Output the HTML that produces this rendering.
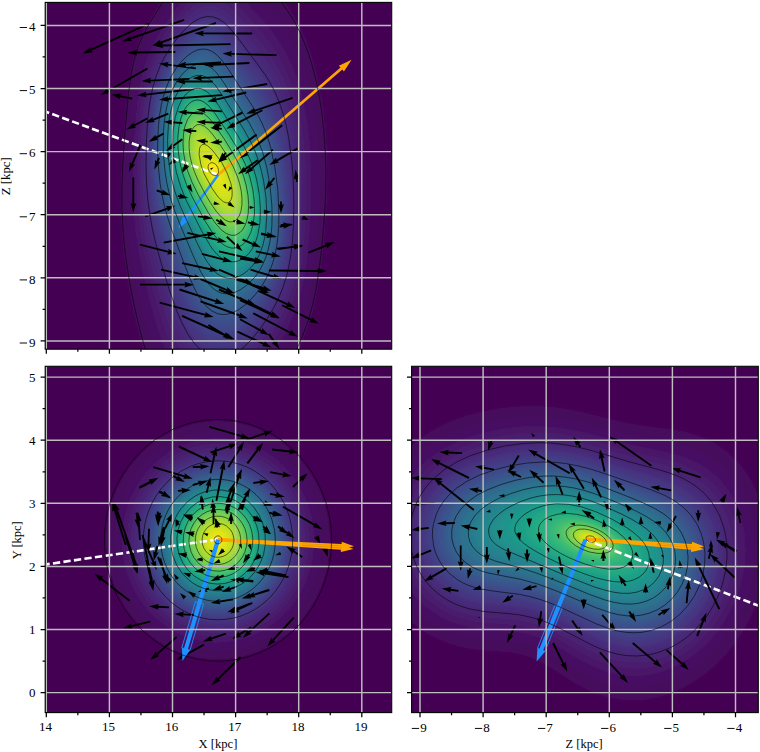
<!DOCTYPE html><html><head><meta charset="utf-8"><style>html,body{margin:0;padding:0;background:#fff;}svg{display:block}text{font-family:"Liberation Serif",serif;fill:#000}</style></head><body>
<svg width="760" height="752" viewBox="0 0 760 752">
<defs><filter id="bl" x="-5%" y="-5%" width="110%" height="110%"><feGaussianBlur stdDeviation="1.6"/></filter></defs>
<rect width="760" height="752" fill="#fff"/>
<clipPath id="clipA"><rect x="45.2" y="2.4" width="346.5" height="346.8"/></clipPath>
<g clip-path="url(#clipA)">
<rect x="45.2" y="2.4" width="346.5" height="346.8" fill="#440154"/>
<g filter="url(#bl)">
<path fill="#460a5d" d="M298.2 350.4 143.2 350.4 137.6 329.4 131.6 302.4 126.9 276.4 123.8 254.4 121.7 232.4 120.7 211.4 120.6 189.4 121.5 165.4 123.8 132.4 127.4 91.4 129.7 74.4 132.7 59.4 137.0 45.4 142.6 32.4 149.8 19.4 161.9 0.4 283.8 0.4 290.3 9.4 296.3 19.4 301.9 30.4 306.6 41.4 311.8 56.4 316.5 73.4 320.0 89.4 323.1 107.4 325.4 127.4 326.9 146.4 327.6 167.4 327.4 189.4 326.3 213.4 324.0 242.4 320.9 269.4 317.7 289.4 313.9 307.4 309.6 322.4 303.8 338.4 298.6 350.4 298.2 350.4Z"/>
<path fill="#471063" d="M285.2 350.4 156.4 350.4 153.7 342.4 146.7 318.4 139.9 290.4 134.9 265.4 131.5 243.4 129.2 221.4 128.2 198.4 128.2 175.4 129.4 149.4 131.6 118.4 133.9 95.4 136.7 77.4 140.6 61.4 145.6 47.4 151.9 34.4 161.6 18.4 173.8 0.4 259.9 0.4 275.2 17.5 280.5 24.4 285.8 32.4 290.4 40.4 294.8 49.4 299.0 59.4 302.8 70.4 306.9 84.4 310.7 101.4 313.7 119.4 315.8 137.4 317.1 156.4 317.7 176.4 317.4 196.4 316.3 219.4 314.7 241.4 312.4 262.4 309.7 280.4 306.6 295.4 302.7 309.4 298.5 321.4 292.6 335.4 285.2 350.4Z"/>
<path fill="#481668" d="M275.2 350.4 165.5 350.4 157.6 328.4 149.9 301.4 143.5 275.4 138.8 252.4 135.7 231.4 133.7 210.4 132.9 188.4 133.1 165.4 134.6 135.4 136.9 107.4 138.9 91.4 141.7 76.4 145.0 64.4 149.4 52.4 154.7 41.4 162.9 27.4 173.9 11.4 182.6 0.4 245.0 0.4 269.7 28.4 276.2 36.9 281.8 45.4 287.3 55.4 292.3 66.4 296.8 78.4 300.7 91.4 304.6 108.4 307.5 125.4 309.6 143.4 310.8 161.4 311.3 181.4 311.0 203.4 309.8 227.4 308.1 248.4 306.1 265.4 303.8 279.4 300.9 292.4 297.7 303.4 293.4 315.4 287.6 328.4 277.7 347.4 276.0 350.4 275.2 350.4Z"/>
<path fill="#481b6d" d="M268.2 350.4 173.0 350.4 166.6 335.4 159.9 315.4 151.9 287.4 145.5 261.4 141.8 242.4 139.0 223.4 137.3 205.4 136.4 185.4 136.6 161.4 137.8 134.4 139.8 110.4 142.5 90.4 145.0 78.4 148.4 66.4 152.5 55.4 157.4 45.4 165.1 32.4 174.8 18.4 183.2 8.1 190.9 0.4 233.5 0.4 237.2 3.9 245.9 13.4 266.2 37.5 273.2 46.8 279.2 56.0 285.2 67.4 290.7 80.4 295.0 93.4 298.8 108.4 301.7 123.4 304.0 139.4 305.6 157.4 306.4 175.4 306.5 195.4 305.9 217.4 304.6 238.4 302.7 257.4 300.8 270.4 298.4 282.4 295.6 293.4 291.6 305.4 287.0 316.4 281.7 327.4 274.5 340.4 268.2 350.4Z"/>
<path fill="#482071" d="M261.2 350.4 179.7 350.4 175.1 341.4 170.8 331.4 166.4 319.4 161.6 304.4 155.8 284.4 150.5 264.4 146.8 248.4 144.0 233.4 141.6 216.4 140.0 198.4 139.3 180.4 139.4 159.4 140.4 135.4 142.0 114.4 144.4 95.4 147.5 80.4 151.0 68.4 155.7 56.4 161.4 45.4 168.9 33.4 178.2 20.8 186.2 11.7 194.2 4.7 198.2 2.2 201.8 0.4 220.8 0.4 224.2 2.1 228.2 4.8 233.4 9.4 240.0 16.4 266.8 49.4 272.5 57.4 277.4 65.4 282.1 74.4 286.0 83.4 289.6 93.4 292.9 104.4 295.6 115.4 297.9 127.4 300.0 142.4 301.6 158.4 302.5 175.4 302.7 193.4 302.4 213.4 301.4 233.4 299.8 251.4 297.8 266.4 295.7 277.4 292.9 288.4 289.7 298.4 285.7 308.4 280.5 319.4 273.9 331.4 265.8 344.4 261.6 350.4 261.2 350.4Z"/>
<path fill="#482576" d="M254.2 350.4 186.2 350.4 180.8 341.4 175.5 330.4 170.4 317.4 164.7 300.4 157.6 276.4 151.5 253.4 147.6 235.4 144.8 218.4 143.0 201.4 141.9 183.4 141.7 163.4 142.3 142.4 143.6 121.4 145.4 104.4 147.7 90.4 150.9 77.4 155.0 65.4 160.4 53.4 167.5 41.4 176.2 29.1 184.2 19.6 192.2 12.2 196.2 9.4 200.2 7.2 204.2 5.7 207.2 5.0 213.2 5.0 218.2 6.2 224.2 9.3 230.2 14.1 235.2 19.3 241.2 26.4 262.5 53.4 270.4 64.4 275.2 72.2 279.4 80.4 283.3 89.4 286.6 98.4 291.9 117.4 294.1 128.4 296.0 140.4 297.8 155.4 298.9 171.4 299.5 189.4 299.4 207.4 298.9 225.4 297.7 242.4 296.0 257.4 293.9 270.4 291.3 281.4 288.3 291.4 284.6 301.4 280.0 311.4 273.5 323.4 266.1 335.4 257.2 347.8 255.1 350.4 254.2 350.4Z"/>
<path fill="#472a7a" d="M248.2 350.4 192.7 350.4 189.6 346.4 183.9 337.4 178.0 325.4 172.4 311.4 166.7 294.4 158.6 267.4 152.8 245.4 148.8 226.4 146.3 209.4 144.7 192.4 143.9 175.4 143.9 156.4 144.6 135.4 145.8 118.4 147.7 102.4 150.1 89.4 153.2 77.4 157.6 65.4 162.9 54.4 169.5 43.4 178.2 31.6 186.2 22.7 193.2 16.6 200.2 12.5 204.2 11.2 207.2 10.6 213.2 10.8 218.2 12.3 224.2 15.8 229.6 20.4 234.2 25.4 239.9 32.4 262.2 61.4 269.8 72.4 274.2 80.0 278.2 88.2 281.6 96.4 284.8 105.4 287.7 115.4 290.0 125.4 292.1 136.4 293.9 149.4 295.5 165.4 296.4 181.4 296.7 198.4 296.5 216.4 295.8 232.4 294.6 247.4 292.9 260.4 290.6 272.4 288.0 282.4 284.7 292.4 280.5 302.4 275.5 312.4 269.0 323.4 261.2 335.1 254.2 344.1 248.2 350.4Z"/>
<path fill="#472f7d" d="M240.2 350.4 200.0 350.4 193.3 343.4 187.8 335.4 181.8 324.4 175.9 310.4 169.6 292.4 161.9 267.4 156.5 248.4 152.4 231.4 149.5 215.4 147.5 199.4 146.2 183.4 145.7 166.4 145.9 147.4 146.7 129.4 148.0 114.4 149.9 100.4 152.3 88.4 155.4 77.4 159.5 66.4 165.0 55.4 171.9 44.4 179.2 34.9 187.2 26.3 194.2 20.6 201.2 17.0 207.2 15.6 213.2 16.0 218.2 17.8 223.2 20.9 229.2 26.3 236.9 35.4 259.4 65.4 265.1 73.4 269.6 80.4 273.9 88.4 277.6 96.4 281.0 105.4 284.2 115.4 286.7 125.4 289.0 136.4 292.3 160.4 293.5 176.4 294.1 192.4 294.2 210.4 293.7 227.4 292.8 241.4 291.3 254.4 289.3 266.4 286.7 277.4 283.5 287.4 279.2 298.0 274.2 307.9 268.0 318.4 260.2 329.9 252.6 339.4 244.2 347.9 241.2 350.4 240.2 350.4Z"/>
<path fill="#463480" d="M230.2 350.4 210.0 350.4 206.1 348.4 200.2 343.9 195.1 338.4 189.4 330.4 184.5 321.4 178.7 308.4 172.9 292.4 164.6 266.4 157.9 243.4 154.5 229.4 151.8 215.4 149.7 201.4 148.3 186.4 147.6 171.4 147.4 154.4 147.8 138.4 148.8 122.4 150.3 108.4 152.1 97.4 154.6 86.4 157.7 76.4 161.7 66.4 167.5 55.4 174.2 45.4 181.2 36.6 188.2 29.6 194.2 24.9 201.2 21.4 207.2 20.3 213.2 20.9 218.2 22.9 223.2 26.3 228.5 31.4 235.9 40.4 259.4 72.4 264.9 80.4 269.7 88.4 273.7 96.4 277.5 105.4 280.9 115.4 283.7 125.4 285.9 135.4 288.0 147.4 289.7 160.4 290.9 174.4 291.8 190.4 292.0 207.4 291.8 223.4 291.0 237.4 289.7 250.4 287.9 261.4 285.5 272.4 282.5 282.4 278.2 293.4 272.8 304.4 266.2 315.2 258.2 326.5 250.2 336.1 243.2 342.8 236.2 347.9 231.2 350.4 230.2 350.4Z"/>
<path fill="#443983" d="M226.2 346.5 220.2 347.1 214.2 346.2 208.2 343.7 203.2 340.2 198.2 335.4 193.2 329.1 188.5 321.4 184.2 312.9 179.0 300.4 173.7 285.4 164.7 257.4 158.6 236.4 155.3 222.4 152.7 208.4 150.8 194.4 149.7 180.4 149.0 165.4 149.0 150.4 149.5 134.4 150.5 120.4 151.9 108.4 153.7 97.4 156.1 87.4 159.2 77.4 163.4 67.4 168.2 58.3 174.2 49.2 181.2 40.4 188.2 33.4 194.2 28.9 200.2 25.9 206.2 24.6 212.2 25.2 217.2 27.2 222.2 30.6 228.1 36.4 234.5 44.4 259.0 78.4 264.3 86.4 268.9 94.4 272.8 102.4 276.4 111.4 279.7 121.4 282.3 131.4 284.6 142.4 286.5 154.4 289.1 180.4 289.8 196.4 290.0 212.4 289.6 227.4 288.8 240.4 287.4 252.4 285.4 263.4 283.0 273.4 279.7 283.4 275.2 293.9 269.5 304.4 262.2 315.6 254.2 326.1 247.2 333.7 240.2 339.7 233.2 344.0 226.2 346.5Z"/>
<path fill="#433e85" d="M225.2 341.5 219.2 341.7 214.2 340.8 208.2 338.1 203.2 334.4 198.2 329.3 193.8 323.4 189.6 316.4 185.2 307.6 179.8 294.4 173.8 277.4 164.8 249.4 159.6 231.4 156.5 218.4 154.0 204.4 152.3 191.4 151.1 177.4 150.5 163.4 150.4 148.4 150.9 134.4 151.9 120.4 153.4 107.4 155.2 97.4 157.7 87.4 160.6 78.4 164.4 69.4 169.2 60.4 175.2 51.4 181.2 44.0 187.2 37.9 193.2 33.2 199.2 30.1 205.2 28.7 211.2 29.1 216.2 31.1 221.2 34.5 226.3 39.4 232.7 47.4 257.5 82.4 262.8 90.4 267.4 98.4 271.2 106.4 274.8 115.4 277.8 124.4 280.7 135.4 282.9 146.4 284.8 158.4 287.3 184.4 288.0 199.4 288.2 214.4 287.8 228.4 286.8 241.4 285.4 252.4 283.4 263.4 280.8 273.4 277.7 282.4 273.2 292.4 267.2 303.1 260.2 313.4 252.2 323.3 245.2 330.5 238.2 336.0 231.2 339.8 225.2 341.5Z"/>
<path fill="#414287" d="M226.2 336.4 220.2 336.8 215.2 336.0 210.2 333.9 205.2 330.6 200.2 325.7 196.0 320.4 191.6 313.4 187.2 304.8 182.2 293.0 176.6 277.4 166.9 248.4 161.5 230.4 158.3 217.4 155.8 204.4 153.9 191.4 152.6 177.4 151.9 163.4 151.7 149.4 152.1 135.4 153.0 122.4 154.3 110.4 156.2 99.4 158.6 89.4 161.5 80.4 165.3 71.4 170.1 62.4 175.2 54.7 181.2 47.3 187.2 41.3 193.2 36.7 199.2 33.7 205.2 32.4 208.2 32.5 211.2 33.1 216.2 35.3 221.2 39.0 226.2 44.1 232.2 51.9 256.9 87.4 262.1 95.4 266.0 102.4 269.8 110.4 273.1 118.4 276.0 127.4 278.7 137.4 280.8 147.4 282.8 159.4 285.4 184.4 286.2 199.4 286.4 213.4 286.1 227.4 285.3 239.4 283.8 251.4 281.9 261.4 279.6 270.4 276.6 279.4 272.2 289.4 266.5 299.4 259.7 309.4 252.2 318.5 245.2 325.7 239.2 330.5 232.2 334.5 226.2 336.4Z"/>
<path fill="#3f4788" d="M227.2 331.6 221.2 332.1 216.2 331.4 211.2 329.4 206.2 326.1 201.3 321.4 197.2 316.3 192.9 309.4 188.8 301.4 184.0 290.4 178.5 275.4 168.0 244.4 162.8 227.4 159.5 214.4 157.1 202.4 155.3 190.4 153.9 176.4 153.2 163.4 153.0 149.4 153.3 135.4 154.1 123.4 155.5 111.4 157.1 101.4 159.5 91.4 162.3 82.4 166.1 73.4 170.3 65.4 175.2 57.8 181.2 50.4 187.2 44.4 193.2 39.9 199.2 37.0 204.2 36.0 209.2 36.3 214.2 38.1 219.2 41.5 224.2 46.4 230.5 54.4 255.2 90.4 263.8 104.4 267.8 112.4 271.1 120.4 274.1 129.4 276.7 138.4 280.8 159.4 283.7 184.4 284.5 199.4 284.8 213.4 284.5 226.4 283.7 238.4 282.4 249.4 280.6 259.4 278.3 268.4 275.2 277.4 271.2 286.5 266.2 295.4 260.2 304.3 253.2 313.0 246.2 320.2 239.2 326.0 233.2 329.5 227.2 331.6Z"/>
<path fill="#3e4c8a" d="M225.2 327.5 220.2 327.5 215.2 326.4 210.2 324.0 206.2 321.1 201.6 316.4 197.2 310.6 193.2 304.0 189.2 295.9 184.4 284.4 178.5 268.4 168.9 240.4 163.7 223.4 160.6 211.4 158.2 199.4 156.4 187.4 155.2 174.4 154.4 161.4 154.2 148.4 154.5 135.4 155.3 123.4 156.5 112.4 158.2 102.4 160.6 92.4 163.1 84.4 166.8 75.4 171.0 67.4 175.5 60.4 181.2 53.3 187.2 47.4 192.2 43.6 198.2 40.6 203.2 39.4 208.2 39.6 213.3 41.4 218.2 44.6 224.0 50.4 230.0 58.4 254.4 94.4 262.9 108.4 266.8 116.4 270.0 124.4 273.0 133.4 275.5 142.4 279.6 163.4 282.2 187.4 283.0 201.4 283.3 214.4 283.0 227.4 282.2 238.4 280.8 249.4 278.8 259.4 276.4 268.4 273.5 276.4 269.2 285.8 264.2 294.4 257.2 304.0 250.2 312.0 243.2 318.6 237.2 322.9 231.2 325.9 225.2 327.5Z"/>
<path fill="#3c508b" d="M228.2 322.6 223.2 323.3 218.2 322.8 213.2 321.0 208.9 318.4 204.2 314.2 200.2 309.5 196.2 303.4 191.9 295.4 187.2 284.9 182.1 271.4 170.7 239.4 165.6 223.4 162.3 211.4 159.8 199.4 157.9 187.4 156.5 175.4 155.7 163.4 155.4 150.4 155.5 137.4 156.2 125.4 157.4 114.4 159.0 104.4 161.1 95.4 163.8 86.4 167.2 77.9 171.2 70.1 176.2 62.4 181.2 56.2 186.2 51.1 192.2 46.6 198.2 43.6 203.2 42.6 208.2 43.0 213.2 44.9 218.2 48.4 223.2 53.6 229.2 61.6 253.8 98.4 261.0 110.4 265.0 118.4 268.2 126.0 271.1 134.4 273.7 143.4 277.8 163.4 280.5 185.4 281.4 198.4 281.8 211.4 281.7 223.4 281.0 235.4 279.9 245.4 278.1 255.4 275.8 264.4 273.2 272.4 269.2 281.4 264.8 289.4 259.2 297.5 253.2 304.8 246.2 311.9 240.2 316.8 234.2 320.4 228.2 322.6Z"/>
<path fill="#3a548c" d="M228.2 318.5 223.2 319.1 218.2 318.5 213.2 316.6 209.2 314.0 205.2 310.4 201.2 305.7 197.2 299.6 193.2 292.2 188.8 282.4 183.7 269.4 171.8 236.4 166.8 221.4 163.5 209.4 161.1 198.4 159.2 187.4 157.8 175.4 156.9 163.4 156.5 150.4 156.6 138.4 157.2 126.4 158.4 115.4 159.8 106.4 161.8 97.4 164.4 88.4 167.6 80.4 171.6 72.4 176.2 65.2 181.2 58.9 186.2 53.9 192.2 49.4 197.2 46.9 202.2 45.7 207.2 46.0 212.2 47.8 217.2 51.2 222.2 56.4 229.5 66.4 253.3 102.4 259.4 112.4 262.9 119.4 266.4 127.4 269.3 135.4 272.0 144.4 276.1 163.4 279.0 185.4 280.4 210.4 280.3 222.4 279.7 233.4 278.7 243.4 277.0 253.4 274.7 262.4 272.1 270.4 268.6 278.4 264.2 286.4 259.2 293.7 253.2 301.1 246.2 308.1 240.2 312.9 234.2 316.4 228.2 318.5Z"/>
<path fill="#38598c" d="M228.2 314.6 223.2 315.1 219.2 314.6 214.2 312.8 210.2 310.3 206.2 306.7 202.2 302.0 198.2 296.0 194.2 288.6 190.0 279.4 184.9 266.4 173.1 234.4 168.0 219.4 164.9 208.4 162.3 197.4 160.4 186.4 158.9 174.4 157.6 151.4 157.6 139.4 158.1 128.4 159.2 117.4 160.7 107.4 162.7 98.4 165.0 90.4 168.2 82.2 172.1 74.4 176.2 67.9 181.2 61.5 186.2 56.5 191.2 52.7 196.2 50.1 201.2 48.7 206.2 48.8 211.2 50.5 216.2 53.9 221.2 59.0 228.2 68.5 252.4 105.4 257.8 114.4 261.4 121.4 265.0 129.4 270.3 145.4 274.6 164.4 277.6 185.4 279.0 209.4 279.0 221.4 278.5 232.4 277.4 242.4 275.9 251.4 273.7 260.4 271.0 268.4 267.6 276.4 263.2 284.3 258.2 291.5 252.2 298.6 246.2 304.4 240.2 309.1 234.2 312.6 228.2 314.6Z"/>
<path fill="#365d8d" d="M229.2 310.5 224.2 311.1 220.2 310.8 215.2 309.1 211.2 306.6 207.2 303.2 203.2 298.5 199.2 292.5 195.8 286.4 191.6 277.4 186.8 265.4 174.3 232.4 169.2 217.7 165.9 206.4 163.5 196.4 161.5 185.4 160.1 174.4 158.6 151.4 158.6 139.4 159.1 128.4 160.1 118.4 161.6 108.4 163.6 99.4 165.9 91.4 169.0 83.4 172.5 76.4 176.3 70.4 181.2 64.0 186.2 59.0 191.2 55.2 196.2 52.7 201.2 51.5 206.2 51.8 211.2 53.7 215.2 56.4 220.2 61.4 227.5 71.4 256.4 116.4 263.2 130.4 268.8 146.4 273.1 164.4 276.2 185.4 277.2 197.4 277.8 209.4 277.8 220.4 277.2 231.4 276.2 241.4 274.7 250.4 272.7 258.4 270.1 266.4 266.6 274.4 262.7 281.4 258.2 288.0 252.2 295.1 246.2 300.9 240.2 305.5 234.2 308.8 229.2 310.5Z"/>
<path fill="#34618d" d="M230.2 306.6 225.2 307.3 221.2 307.1 216.2 305.5 212.2 303.1 208.2 299.7 204.2 295.1 200.9 290.4 197.2 283.8 193.2 275.4 188.6 264.4 175.4 230.4 170.5 216.4 167.4 206.4 164.9 196.4 162.9 186.4 161.3 175.4 159.7 153.4 159.9 131.4 160.7 121.4 162.1 111.4 163.9 102.4 166.1 94.4 169.1 86.4 172.2 79.8 176.2 73.0 180.4 67.4 185.2 62.3 190.2 58.4 195.2 55.7 200.2 54.3 205.2 54.4 210.2 56.2 214.9 59.4 219.2 63.7 226.4 73.4 255.1 118.4 262.0 132.4 267.3 147.4 271.7 165.4 274.7 184.4 276.5 207.4 276.6 218.4 276.1 229.4 275.3 238.4 273.9 247.4 272.0 255.4 269.5 263.4 266.2 271.4 262.4 278.4 258.2 284.7 253.2 290.7 247.2 296.7 241.2 301.4 235.2 304.8 230.2 306.6Z"/>
<path fill="#32658e" d="M228.2 303.5 223.2 303.6 219.2 302.7 215.2 301.0 211.4 298.4 208.2 295.4 204.2 290.5 200.8 285.4 197.2 278.7 188.4 258.4 175.8 226.4 170.8 212.4 167.8 202.4 165.3 192.4 163.5 182.4 162.0 171.4 160.5 150.4 161.0 129.4 161.9 119.4 163.3 110.4 165.0 102.4 167.3 94.4 169.9 87.4 173.2 80.6 177.2 74.1 181.2 68.9 186.2 63.8 191.2 60.1 196.2 57.8 200.2 56.9 205.2 57.2 210.2 59.1 214.8 62.4 219.2 67.0 226.0 76.4 254.5 121.4 261.3 135.4 266.6 150.4 270.9 168.4 273.8 187.4 275.3 209.4 275.3 220.4 274.8 230.4 273.9 239.4 272.3 248.4 270.3 256.4 267.5 264.4 264.2 271.7 260.2 278.5 255.2 285.3 250.2 290.7 245.2 295.1 239.2 299.3 233.2 302.2 228.2 303.5Z"/>
<path fill="#30698e" d="M231.2 299.4 226.2 300.1 222.2 299.8 218.2 298.6 214.2 296.4 210.2 293.2 206.7 289.4 203.2 284.5 199.6 278.4 195.6 270.4 191.2 260.2 177.6 226.4 172.7 213.4 167.1 194.4 165.0 184.4 163.4 174.4 161.6 153.4 161.7 132.4 162.5 122.4 163.7 113.4 165.3 105.4 167.5 97.4 170.2 89.8 173.2 83.3 177.2 76.5 181.2 71.2 185.2 67.0 190.2 63.1 195.2 60.5 199.2 59.5 204.2 59.6 209.2 61.4 213.6 64.4 218.2 69.0 225.0 78.4 251.7 120.4 258.9 134.4 264.3 148.4 268.9 165.4 272.0 183.4 274.0 205.4 274.0 225.4 273.2 234.4 272.0 243.4 270.3 251.4 267.8 259.4 265.0 266.4 261.4 273.4 257.4 279.4 253.2 284.5 248.2 289.5 242.2 294.2 236.2 297.6 231.2 299.4Z"/>
<path fill="#2e6d8e" d="M229.2 296.5 225.2 296.6 221.2 296.0 217.2 294.4 213.2 291.8 209.5 288.4 206.2 284.4 202.8 279.4 199.5 273.4 191.2 255.2 178.2 223.7 173.2 210.4 170.0 200.4 167.6 191.4 165.6 181.4 164.1 171.4 162.5 151.4 162.7 131.4 164.7 113.4 166.3 105.4 168.6 97.4 171.1 90.4 174.2 84.0 177.5 78.4 181.3 73.4 185.2 69.3 190.2 65.4 195.2 62.9 199.2 61.9 204.2 62.2 208.2 63.6 213.2 66.9 217.6 71.4 224.8 81.4 251.3 123.4 258.2 136.9 263.7 151.4 267.9 167.4 271.2 186.4 272.9 207.4 273.1 217.4 272.7 227.4 271.8 236.4 270.5 244.4 268.6 252.4 266.2 259.8 263.2 266.6 259.2 273.6 255.2 279.1 250.2 284.6 245.2 289.0 239.2 292.9 234.2 295.2 229.2 296.5Z"/>
<path fill="#2d718e" d="M232.2 292.7 228.2 293.3 224.2 293.1 220.2 292.1 216.2 290.1 212.6 287.4 209.2 284.0 205.2 278.7 201.9 273.4 193.7 256.4 175.1 211.4 169.4 193.4 167.3 184.4 165.5 174.4 163.5 154.4 163.4 134.4 165.1 116.4 166.6 108.4 168.7 100.4 171.2 93.2 174.2 86.5 177.2 81.3 181.2 75.7 185.2 71.5 189.2 68.2 194.2 65.5 198.2 64.4 203.2 64.4 207.2 65.7 212.2 68.9 216.7 73.4 224.0 83.4 248.7 122.4 256.2 136.4 261.8 150.4 266.4 166.4 269.6 183.4 271.6 203.4 272.0 213.4 271.8 223.4 271.1 232.4 270.0 240.4 268.3 248.4 266.3 255.4 263.5 262.4 260.2 268.9 256.2 274.9 252.2 279.7 247.2 284.4 242.2 288.2 237.2 290.9 232.2 292.7Z"/>
<path fill="#2b748e" d="M232.2 289.6 228.2 290.1 224.2 289.8 220.2 288.7 216.2 286.5 212.4 283.4 209.2 280.0 206.2 276.0 202.7 270.4 194.4 253.4 175.8 209.4 170.1 191.4 166.4 173.4 164.4 154.4 164.3 134.4 164.9 125.4 166.0 116.4 167.6 108.4 169.4 101.4 171.9 94.4 174.6 88.4 178.0 82.4 181.2 78.0 185.2 73.6 189.2 70.4 194.2 67.7 198.2 66.7 203.2 66.8 207.2 68.2 211.9 71.4 216.2 75.7 223.2 85.2 247.9 124.4 254.9 137.4 260.7 151.4 265.1 166.4 268.4 183.4 270.6 203.4 270.7 222.4 270.1 231.4 269.0 239.4 267.3 247.4 265.2 254.4 262.8 260.4 259.8 266.4 256.2 271.9 252.2 276.8 247.2 281.6 242.2 285.3 237.2 287.9 232.2 289.6Z"/>
<path fill="#2a788e" d="M232.2 286.6 228.2 287.0 224.2 286.6 220.2 285.3 217.2 283.6 213.2 280.5 210.2 277.3 206.5 272.4 203.2 267.0 195.2 250.7 176.9 208.4 171.2 191.1 167.4 173.4 165.4 155.4 165.1 136.4 165.6 127.4 166.6 118.4 168.1 110.4 169.9 103.4 172.2 96.4 174.8 90.4 178.2 84.4 181.2 80.2 185.2 75.8 189.2 72.5 193.2 70.3 197.2 69.1 202.2 69.0 206.2 70.2 210.2 72.6 215.2 77.3 222.7 87.4 246.0 124.4 253.7 138.4 259.2 151.4 263.8 166.4 267.3 183.4 269.4 202.4 269.7 221.4 269.1 230.4 268.0 238.4 266.5 245.4 264.5 252.4 262.2 258.4 259.2 264.4 255.2 270.4 251.2 275.1 247.2 278.9 242.2 282.5 237.2 285.1 232.2 286.6Z"/>
<path fill="#287c8e" d="M233.2 283.5 229.2 284.0 225.2 283.6 221.2 282.4 218.2 280.9 214.2 277.8 211.2 274.7 207.8 270.4 204.2 264.7 196.2 248.8 178.0 207.4 172.2 190.4 168.4 173.4 166.3 155.4 165.9 137.4 167.2 120.4 168.6 112.4 170.3 105.4 172.5 98.4 175.1 92.4 178.2 86.7 181.2 82.3 185.2 77.9 189.2 74.6 193.2 72.4 197.2 71.2 202.2 71.3 206.2 72.6 210.5 75.4 215.2 80.0 222.2 89.6 244.8 125.4 252.1 138.4 257.8 151.4 262.6 166.4 266.0 182.4 268.3 201.4 268.7 219.4 268.2 228.4 267.2 236.4 265.8 243.4 263.8 250.4 261.5 256.4 258.5 262.4 255.2 267.6 251.2 272.4 247.2 276.2 242.2 279.8 237.2 282.3 233.2 283.5Z"/>
<path fill="#27808e" d="M234.2 280.5 230.2 281.0 226.2 280.8 222.2 279.7 219.2 278.2 215.4 275.4 212.2 272.2 205.8 263.4 197.2 246.9 179.4 207.4 173.7 191.4 169.6 174.4 167.3 157.4 166.7 139.4 167.8 122.4 169.1 114.4 170.7 107.4 172.9 100.4 175.2 94.7 178.2 89.0 181.2 84.5 184.2 80.9 188.2 77.3 192.2 74.9 196.2 73.5 200.2 73.2 203.2 73.8 206.2 74.9 209.2 76.8 212.2 79.4 215.8 83.4 223.2 93.9 244.8 128.4 252.5 142.4 256.4 151.4 259.6 160.4 262.4 170.4 264.7 181.4 267.1 199.4 267.7 217.4 266.5 233.4 265.2 240.4 263.4 247.4 261.2 253.7 258.5 259.4 255.5 264.4 252.2 268.7 248.2 272.7 243.2 276.6 239.2 278.7 234.2 280.5Z"/>
<path fill="#25838e" d="M235.2 277.5 231.2 278.2 227.2 278.0 223.2 277.0 220.2 275.6 216.2 272.8 213.2 269.9 206.9 261.4 202.8 254.4 198.2 245.2 180.4 206.4 174.5 190.4 170.6 174.4 168.2 157.4 167.5 140.4 168.6 123.4 171.2 109.2 173.2 102.5 175.6 96.4 178.2 91.3 181.2 86.6 184.2 83.0 188.2 79.4 192.2 76.9 196.2 75.6 200.2 75.4 203.2 76.0 206.2 77.2 209.2 79.2 215.2 85.2 222.2 95.1 243.8 129.4 251.5 143.4 255.4 152.4 258.6 161.4 261.2 170.4 263.5 180.4 266.0 198.4 266.8 215.4 265.7 231.4 264.5 238.4 262.8 245.4 260.7 251.4 258.2 256.9 255.2 262.0 252.2 266.0 248.2 270.2 244.2 273.3 240.2 275.7 235.2 277.5Z"/>
<path fill="#24878e" d="M232.2 275.4 228.2 275.4 225.2 274.8 221.2 273.1 218.2 271.2 212.2 265.4 206.0 256.4 197.2 239.5 180.5 203.4 174.8 187.4 171.0 171.4 168.9 155.4 168.3 138.4 169.4 123.4 172.1 109.4 173.9 103.4 176.3 97.4 179.2 91.9 182.2 87.4 185.2 84.0 189.2 80.6 192.2 78.9 196.2 77.6 200.2 77.5 203.2 78.1 206.2 79.5 209.2 81.6 212.2 84.3 215.7 88.4 223.2 99.3 243.3 131.4 251.2 145.9 254.9 154.4 258.1 163.4 260.9 173.4 263.0 183.4 265.2 200.4 265.7 217.4 265.3 225.4 264.3 233.4 262.9 240.4 261.1 246.4 258.8 252.4 256.2 257.5 253.2 262.1 249.2 266.7 245.2 270.1 241.2 272.6 236.2 274.7 232.2 275.4Z"/>
<path fill="#228b8d" d="M234.2 272.6 230.2 272.8 227.2 272.5 223.2 271.2 220.2 269.6 217.2 267.3 213.3 263.4 207.2 254.9 198.2 238.1 181.8 203.4 175.9 187.4 172.1 172.4 169.8 156.4 169.1 139.4 170.1 124.4 172.8 110.4 174.6 104.4 177.0 98.4 179.2 94.2 182.2 89.6 185.2 86.0 189.2 82.6 192.2 80.9 196.2 79.6 199.2 79.5 202.2 80.0 205.2 81.2 208.2 83.1 214.2 89.0 221.6 99.4 242.4 132.4 249.6 145.4 253.2 153.4 256.5 162.4 259.2 171.4 261.5 181.4 264.0 198.4 264.8 215.4 263.7 230.4 262.4 237.4 260.8 243.4 258.7 249.4 256.2 254.6 253.2 259.4 250.2 263.1 246.2 266.9 242.2 269.6 238.2 271.5 234.2 272.6Z"/>
<path fill="#218f8d" d="M237.2 269.4 233.2 270.2 229.2 270.2 225.2 269.2 222.2 267.9 218.5 265.4 215.3 262.4 209.2 254.7 205.2 248.2 200.5 239.4 184.0 205.4 178.0 190.4 173.7 175.4 171.0 159.4 170.0 143.4 170.5 128.4 172.7 114.4 174.3 108.4 176.4 102.4 179.2 96.5 181.7 92.4 185.2 88.0 188.2 85.3 191.2 83.3 195.2 81.8 198.2 81.5 201.2 81.8 204.2 82.8 207.2 84.6 210.2 87.0 213.2 90.2 219.4 98.4 240.9 132.4 248.2 145.4 251.9 153.4 255.0 161.4 257.6 169.4 259.9 178.4 262.6 194.4 263.8 210.4 263.2 225.4 261.0 238.4 259.2 244.4 257.2 249.5 254.6 254.4 252.0 258.4 248.5 262.4 245.2 265.2 241.2 267.8 237.2 269.4Z"/>
<path fill="#20928c" d="M235.2 267.5 231.2 267.8 228.2 267.4 224.2 266.1 221.2 264.5 215.2 259.3 208.5 250.4 199.6 234.4 184.0 202.4 178.1 187.4 174.0 172.4 171.6 157.4 170.7 142.4 171.4 127.4 173.6 114.4 177.2 103.1 179.4 98.4 182.2 93.8 185.2 90.1 188.2 87.3 191.2 85.3 195.2 83.8 198.2 83.4 201.2 83.8 204.2 84.9 207.2 86.7 213.2 92.5 219.8 101.4 240.0 133.4 247.8 147.4 251.5 155.4 254.5 163.4 257.0 171.4 259.3 180.4 261.9 196.4 262.8 212.4 262.1 226.4 261.0 233.4 259.5 239.4 255.7 249.4 253.2 253.9 250.2 258.0 247.2 261.2 243.2 264.2 239.2 266.3 235.2 267.5Z"/>
<path fill="#1f968b" d="M237.2 264.6 233.2 265.3 230.2 265.2 226.2 264.3 223.2 263.0 219.4 260.4 216.2 257.5 210.2 249.9 206.2 243.5 201.2 234.4 185.3 202.4 179.2 187.4 175.2 173.4 172.6 158.4 171.6 143.4 172.1 129.4 174.2 115.8 177.8 104.4 180.1 99.4 182.6 95.4 185.2 92.1 188.2 89.2 191.2 87.2 195.2 85.7 198.2 85.4 201.2 85.8 204.2 87.0 206.5 88.4 212.2 93.6 218.8 102.4 238.5 133.4 246.5 147.4 253.0 162.4 257.8 178.4 260.6 193.4 261.8 208.4 261.4 222.4 259.4 235.4 256.1 245.4 253.6 250.4 251.0 254.4 248.2 257.7 244.2 261.2 241.2 263.0 237.2 264.6Z"/>
<path fill="#1f9a8a" d="M236.2 262.6 232.2 263.0 229.2 262.7 226.2 261.8 223.2 260.4 220.2 258.4 216.9 255.4 210.2 247.0 201.2 231.4 186.1 201.4 180.0 186.4 175.9 172.4 173.4 158.4 172.4 143.4 172.9 129.4 175.0 116.4 178.5 105.4 180.9 100.4 183.2 96.7 186.2 93.0 189.2 90.4 192.2 88.6 195.2 87.6 198.2 87.4 201.2 87.8 206.2 90.3 209.2 92.7 212.2 95.8 218.6 104.4 237.7 134.4 245.7 148.4 249.2 155.8 252.3 163.4 254.9 171.4 257.0 179.4 259.7 194.4 260.9 209.4 260.3 223.4 258.2 235.4 256.4 241.4 254.2 246.4 251.9 250.4 249.2 254.1 246.2 257.2 243.2 259.6 240.2 261.2 236.2 262.6Z"/>
<path fill="#1f9e89" d="M235.2 260.4 231.2 260.6 228.2 260.0 225.2 258.9 222.2 257.2 216.2 252.0 210.2 244.1 201.2 228.6 186.5 199.4 180.7 185.4 176.6 171.4 174.2 157.4 173.2 143.4 173.7 129.4 175.7 117.4 179.2 106.4 183.5 98.4 186.2 95.0 189.2 92.3 192.2 90.5 195.2 89.5 197.2 89.3 200.2 89.6 203.2 90.6 206.2 92.3 212.2 98.0 218.5 106.4 236.9 135.4 244.9 149.4 248.7 157.4 251.5 164.4 254.2 172.4 256.3 180.4 258.9 195.4 259.9 209.4 259.4 222.4 257.3 234.4 255.8 239.4 253.7 244.4 251.2 248.8 248.5 252.4 245.2 255.7 242.2 257.9 239.2 259.4 235.2 260.4Z"/>
<path fill="#1fa187" d="M238.2 257.5 235.2 258.2 231.2 258.3 228.2 257.7 225.2 256.5 221.8 254.4 218.2 251.4 212.2 244.3 203.7 230.4 189.1 202.4 182.5 187.4 178.3 174.4 175.6 161.4 174.1 147.4 174.2 133.7 175.7 121.4 178.7 110.4 180.8 105.4 183.0 101.4 185.2 98.3 188.2 95.1 191.2 93.0 194.2 91.7 196.2 91.3 199.2 91.3 202.2 92.1 205.2 93.7 208.2 96.0 211.2 99.0 217.0 106.4 235.0 134.4 243.2 148.5 249.6 162.4 254.5 177.4 257.3 190.4 258.8 204.4 258.8 217.4 257.3 229.4 254.4 239.4 252.2 244.3 250.2 247.7 247.2 251.4 244.2 254.2 241.2 256.2 238.2 257.5Z"/>
<path fill="#21a585" d="M237.2 255.5 234.2 256.0 230.2 255.8 227.2 255.0 224.2 253.6 218.2 248.8 212.2 241.6 203.2 226.8 189.4 200.4 183.3 186.4 179.0 173.4 176.3 160.4 174.9 147.4 175.0 134.4 176.4 122.4 179.2 111.9 183.2 103.3 185.2 100.4 188.2 97.1 191.2 94.9 194.2 93.6 196.2 93.2 199.2 93.2 202.2 94.1 205.2 95.7 210.2 100.0 216.2 107.5 233.6 134.4 242.4 149.4 248.9 163.4 253.5 177.4 256.3 190.4 257.9 204.4 257.8 217.4 256.2 229.4 253.2 239.1 249.2 246.4 246.2 250.1 243.5 252.4 240.2 254.4 237.2 255.5Z"/>
<path fill="#23a983" d="M236.2 253.6 233.2 253.9 230.2 253.6 227.2 252.7 224.2 251.2 218.2 246.3 212.2 239.0 203.2 224.2 190.2 199.4 184.0 185.4 179.7 172.4 177.2 160.4 175.8 147.4 175.8 134.4 177.2 123.0 180.1 112.4 183.9 104.4 186.2 101.2 189.0 98.4 191.2 96.8 194.2 95.5 196.2 95.1 199.2 95.2 202.2 96.0 205.2 97.7 210.2 102.1 216.2 109.6 233.5 136.4 241.7 150.4 248.2 164.4 252.8 178.4 255.5 191.4 256.9 204.4 256.8 217.4 255.3 228.4 252.2 238.1 248.2 245.2 245.2 248.6 242.2 251.0 239.2 252.6 236.2 253.6Z"/>
<path fill="#26ad81" d="M235.2 251.5 232.2 251.6 229.2 251.1 226.2 250.0 223.2 248.2 217.2 242.8 211.5 235.4 202.5 220.4 190.2 196.9 184.3 183.4 180.4 171.4 177.9 159.4 176.6 147.4 176.6 135.4 177.8 124.4 180.4 114.4 184.2 106.2 186.2 103.4 189.2 100.2 191.2 98.8 194.2 97.4 196.2 97.0 199.2 97.1 202.2 98.0 204.8 99.4 210.2 104.2 216.2 111.7 232.9 137.4 241.1 151.4 247.2 164.6 251.8 178.4 254.6 191.4 256.0 204.4 255.9 216.4 254.3 227.4 251.5 236.4 249.5 240.4 247.2 243.9 244.2 247.2 241.2 249.4 238.2 250.8 235.2 251.5Z"/>
<path fill="#2ab07f" d="M234.2 249.4 229.2 248.9 226.2 247.7 223.2 245.9 217.2 240.4 211.2 232.5 202.2 217.4 190.7 195.4 185.0 182.4 181.1 170.4 178.7 159.4 177.4 147.4 177.4 136.4 178.6 125.4 180.8 116.4 184.3 108.4 186.3 105.4 189.2 102.2 191.2 100.7 194.2 99.3 196.2 98.9 199.2 99.0 201.2 99.5 204.2 101.0 207.2 103.2 210.2 106.2 216.2 113.8 231.6 137.4 240.4 152.4 246.5 165.4 251.1 179.4 253.8 192.4 255.0 204.4 254.9 216.4 253.2 227.4 250.1 236.4 248.2 239.8 245.5 243.4 243.2 245.7 240.2 247.7 237.2 248.9 234.2 249.4Z"/>
<path fill="#2fb47c" d="M237.2 246.7 232.2 247.2 229.2 246.7 226.2 245.5 223.2 243.6 220.2 241.2 214.2 234.3 205.9 221.4 193.4 198.4 186.9 184.4 182.6 172.4 180.0 161.4 178.4 149.4 178.1 138.4 179.2 127.4 181.6 117.4 185.2 109.4 189.2 104.3 191.2 102.7 194.2 101.2 196.2 100.8 199.2 100.9 201.2 101.4 204.2 102.9 209.2 107.2 215.2 114.5 229.2 135.7 238.6 151.4 244.5 163.4 249.3 176.4 252.2 188.4 253.8 200.4 254.2 211.4 253.1 222.4 250.7 231.4 247.2 238.6 245.1 241.4 242.2 244.1 240.2 245.4 237.2 246.7Z"/>
<path fill="#35b779" d="M237.2 244.5 232.2 245.1 229.2 244.5 226.2 243.3 223.2 241.4 220.2 238.9 214.2 231.9 206.2 219.6 194.2 197.6 188.0 184.4 183.6 172.4 180.9 161.4 179.3 150.4 179.0 139.4 179.9 128.4 182.0 119.4 185.2 111.8 189.2 106.4 191.2 104.7 194.2 103.2 196.2 102.7 199.2 102.8 203.3 104.4 208.2 108.2 214.2 115.2 226.4 133.4 237.4 151.4 243.9 164.4 248.3 176.4 251.2 188.2 252.8 199.4 253.2 210.4 252.3 220.4 250.2 229.1 246.8 236.4 244.6 239.4 242.2 241.8 240.2 243.2 237.2 244.5Z"/>
<path fill="#3bbb75" d="M236.2 242.6 231.2 242.8 228.2 242.0 225.2 240.5 220.2 236.6 214.2 229.6 206.2 217.2 194.8 196.4 188.6 183.4 184.3 171.4 181.8 161.4 180.2 150.4 179.8 139.4 180.7 129.4 182.8 120.4 185.7 113.4 189.4 108.4 191.8 106.4 194.2 105.2 198.2 104.6 200.2 105.0 203.2 106.3 208.2 110.2 214.2 117.2 226.2 135.0 236.8 152.4 242.8 164.4 247.3 176.4 250.2 188.0 251.8 199.4 252.2 210.4 251.2 220.2 249.1 228.4 245.6 235.4 243.2 238.4 241.2 240.2 239.2 241.4 236.2 242.6Z"/>
<path fill="#42be71" d="M235.2 240.6 230.2 240.4 227.2 239.4 224.2 237.7 219.2 233.3 213.2 225.9 205.2 213.1 195.0 194.4 189.2 182.1 185.0 170.4 182.3 159.4 181.0 149.4 180.7 139.4 181.7 129.4 183.6 121.4 186.6 114.4 190.2 109.8 192.2 108.2 195.2 106.9 199.2 106.7 201.2 107.3 204.2 108.8 209.2 113.2 215.2 120.6 227.7 139.4 236.7 154.4 242.5 166.4 246.9 178.4 249.3 188.4 250.9 199.4 251.2 209.4 250.2 219.4 248.0 227.4 246.2 231.4 244.3 234.4 240.2 238.5 238.2 239.7 235.2 240.6Z"/>
<path fill="#4ac16d" d="M234.2 238.5 229.2 238.0 224.2 235.5 219.2 231.1 213.2 223.6 205.2 210.8 195.2 192.5 189.6 180.4 185.7 169.4 183.2 159.4 181.9 149.4 181.6 139.4 182.5 130.4 184.4 122.4 187.2 116.0 189.2 113.1 191.2 111.1 195.2 108.9 199.2 108.7 201.2 109.3 204.2 110.8 209.2 115.2 215.2 122.6 227.2 140.6 236.1 155.4 241.9 167.4 245.8 178.4 248.3 188.4 249.9 199.4 250.1 209.4 249.2 218.4 247.0 226.4 243.8 232.4 241.2 235.3 239.2 236.8 237.2 237.8 234.2 238.5Z"/>
<path fill="#52c569" d="M233.2 236.4 231.2 236.3 228.2 235.5 223.2 232.6 218.2 227.8 213.2 221.3 205.2 208.5 196.2 192.0 190.7 180.4 186.7 169.4 184.2 159.5 182.9 150.4 182.5 141.4 183.2 132.4 185.0 124.4 187.4 118.4 189.2 115.6 191.2 113.3 193.2 111.9 195.2 111.0 199.2 110.7 201.2 111.3 204.2 112.8 209.2 117.2 214.2 123.3 225.2 139.5 234.9 155.4 240.8 167.4 244.8 178.4 247.3 188.4 248.9 199.4 249.1 209.4 248.0 218.4 245.4 226.4 242.2 231.6 238.2 235.0 236.2 235.9 233.2 236.4Z"/>
<path fill="#5ac864" d="M236.2 233.6 234.2 234.1 231.2 234.1 226.2 232.4 221.2 228.7 215.6 222.4 208.2 211.3 199.2 195.4 192.7 182.4 188.4 171.4 185.6 161.4 184.0 152.4 183.5 143.4 184.0 134.4 185.6 126.4 188.2 119.8 191.2 115.7 193.2 114.1 195.2 113.1 199.2 112.8 201.2 113.3 204.2 114.9 209.2 119.3 214.2 125.3 224.2 140.0 233.2 154.6 238.8 165.4 243.1 176.4 245.9 186.4 247.5 195.4 248.1 204.4 247.6 213.4 246.2 220.4 243.7 226.4 240.2 231.0 236.2 233.6Z"/>
<path fill="#63cb5f" d="M235.2 231.5 233.2 231.9 230.2 231.7 225.2 229.6 220.2 225.5 215.2 219.6 208.2 209.0 199.9 194.4 193.9 182.4 189.5 171.4 186.8 162.4 185.1 153.4 184.5 144.4 184.8 136.4 186.2 128.4 188.2 122.9 191.2 118.2 193.2 116.4 195.2 115.3 197.2 114.8 199.2 114.9 203.2 116.3 208.2 120.3 213.2 126.1 223.2 140.5 232.2 155.0 238.1 166.4 242.1 176.4 244.9 186.4 246.4 195.4 247.0 204.4 246.5 212.4 245.0 219.4 242.4 225.4 239.2 229.3 235.2 231.5Z"/>
<path fill="#6ccd5a" d="M234.2 229.4 230.2 229.5 225.2 227.4 220.2 223.2 215.2 217.3 208.2 206.7 200.2 192.6 194.2 180.4 190.2 170.4 187.6 161.4 186.1 153.4 185.5 144.4 185.9 136.4 187.2 129.4 189.6 123.4 192.6 119.4 194.2 118.1 196.2 117.2 198.2 117.0 200.2 117.2 204.2 119.0 209.2 123.4 214.2 129.5 223.2 142.5 231.8 156.4 237.2 167.0 241.2 177.0 243.6 185.4 245.3 194.4 245.9 203.4 245.4 211.4 243.8 218.4 241.2 224.1 238.2 227.4 236.2 228.7 234.2 229.4Z"/>
<path fill="#75d054" d="M235.2 226.6 231.2 227.3 229.2 226.9 226.2 225.7 221.2 222.0 216.2 216.3 210.2 207.6 202.2 193.9 196.2 182.2 191.7 171.4 189.2 163.4 187.3 154.4 186.6 146.4 186.8 138.4 188.0 131.4 190.2 125.5 193.2 121.4 196.2 119.6 198.2 119.2 200.2 119.4 204.2 121.2 208.2 124.5 213.2 130.3 221.2 141.6 230.2 155.9 235.3 165.4 239.5 175.4 242.2 184.0 243.9 192.4 244.7 200.4 244.6 207.4 243.5 214.4 241.3 220.4 238.4 224.4 235.2 226.6Z"/>
<path fill="#7fd34e" d="M234.2 224.4 230.2 224.8 226.2 223.4 221.2 219.7 216.2 214.0 210.2 205.3 203.2 193.3 197.2 181.6 192.9 171.4 190.3 163.4 188.6 155.4 187.7 147.4 187.8 140.4 188.8 133.4 190.5 128.4 193.2 124.2 196.2 122.1 198.2 121.6 200.2 121.7 204.2 123.4 208.2 126.7 213.2 132.5 221.2 143.7 229.2 156.4 234.2 165.7 238.4 175.4 240.9 183.4 242.6 191.4 243.5 199.4 243.4 206.4 242.2 213.4 240.4 218.4 237.4 222.4 234.2 224.4Z"/>
<path fill="#89d548" d="M234.2 221.7 232.2 222.3 230.2 222.3 226.2 221.1 222.2 218.3 217.2 212.9 211.2 204.5 205.2 194.4 198.9 182.4 194.2 171.7 191.4 163.4 189.9 156.4 188.9 148.4 188.9 141.4 189.8 135.4 191.4 130.4 194.2 126.2 197.2 124.3 200.2 124.1 204.2 125.7 208.2 129.0 213.2 134.7 220.2 144.4 228.2 157.0 233.3 166.4 237.2 175.4 239.5 182.4 241.3 190.4 242.2 197.4 242.2 204.4 241.4 210.4 239.8 215.4 237.2 219.5 234.2 221.7Z"/>
<path fill="#93d741" d="M232.2 219.6 230.2 219.8 228.2 219.4 224.2 217.4 220.2 214.0 216.2 209.3 210.2 200.4 204.2 190.1 199.2 180.3 195.2 171.1 192.9 164.4 191.2 157.2 190.2 150.4 190.1 143.4 190.9 137.4 192.2 132.9 194.2 129.4 197.2 127.0 200.2 126.6 204.2 128.1 208.2 131.3 213.2 137.0 220.2 146.7 227.2 157.7 232.2 166.8 236.2 176.0 238.6 183.4 240.2 190.9 241.0 198.4 240.8 204.4 240.0 209.4 238.2 214.4 235.2 218.2 232.2 219.6Z"/>
<path fill="#9dd93b" d="M232.2 216.7 229.2 217.0 225.2 215.5 221.2 212.5 217.2 208.1 212.2 201.1 206.2 191.1 200.6 180.4 196.7 171.4 194.2 164.3 192.5 157.4 191.6 151.4 191.4 145.4 192.0 139.4 193.2 135.3 195.2 131.8 198.2 129.6 201.2 129.4 205.2 131.2 209.2 134.7 213.2 139.3 219.2 147.5 226.2 158.4 231.1 167.4 234.7 175.4 237.0 182.4 238.7 189.4 239.5 196.4 239.5 202.4 238.8 207.4 237.2 211.9 235.2 214.8 232.2 216.7Z"/>
<path fill="#a8db34" d="M232.2 213.5 229.2 214.1 226.2 213.4 222.2 210.8 218.2 206.7 214.2 201.4 209.1 193.4 203.2 182.7 199.2 174.2 196.2 166.4 194.5 160.4 193.4 154.4 192.9 148.4 193.2 142.6 194.2 138.3 196.2 134.5 198.2 132.8 201.2 132.3 204.2 133.3 208.2 136.3 212.2 140.6 218.2 148.6 224.2 157.6 229.2 166.4 232.5 173.4 235.1 180.4 236.7 186.4 237.8 192.4 238.1 198.4 237.8 203.4 236.4 208.4 234.7 211.4 232.2 213.5Z"/>
<path fill="#b2dd2d" d="M231.2 210.5 228.2 211.0 225.2 210.1 222.2 208.0 218.2 204.0 214.2 198.7 209.2 190.7 204.2 181.6 200.3 173.4 196.2 161.3 195.0 155.4 194.5 150.4 194.7 145.4 195.5 141.4 197.2 137.7 199.2 136.0 202.2 135.6 205.2 136.7 208.2 139.0 212.2 143.3 217.2 149.8 223.2 158.7 227.2 165.5 231.2 173.8 233.3 179.4 235.1 185.4 236.2 191.4 236.5 196.4 236.2 201.4 235.2 205.5 233.2 209.0 231.2 210.5Z"/>
<path fill="#bddf26" d="M229.2 207.5 227.2 207.6 224.2 206.5 221.2 204.2 217.2 199.8 213.2 194.2 209.2 187.7 201.9 173.4 198.1 162.4 197.0 157.4 196.4 152.4 196.5 147.4 197.2 143.9 198.3 141.4 200.2 139.6 202.2 139.1 205.2 139.9 208.2 142.0 212.2 146.1 217.2 152.5 223.2 161.4 227.1 168.4 229.9 174.4 232.1 180.4 233.5 185.4 234.5 191.4 234.7 196.4 234.3 200.4 233.2 203.8 231.3 206.4 229.2 207.5Z"/>
<path fill="#c8e020" d="M228.2 203.7 226.2 203.7 223.2 202.5 220.2 200.0 217.2 196.6 210.2 186.0 203.2 172.7 200.1 163.4 199.1 158.4 198.5 153.4 199.2 147.2 200.2 145.1 202.2 143.4 204.2 143.3 207.2 144.7 210.2 147.2 213.2 150.5 222.0 162.4 228.1 174.4 231.5 184.4 232.4 189.4 232.7 193.4 232.4 197.4 231.5 200.4 230.2 202.4 228.2 203.7Z"/>
<path fill="#d2e21b" d="M227.2 199.0 225.2 199.3 223.2 198.6 221.2 197.2 218.2 194.2 213.2 187.2 204.7 172.4 202.3 164.4 201.2 155.4 201.5 152.4 202.1 150.4 203.2 148.9 204.2 148.4 206.2 148.5 208.2 149.5 213.2 154.0 220.2 162.4 224.0 169.4 228.2 179.9 230.1 188.4 230.2 192.4 229.7 195.4 228.9 197.4 227.2 199.0Z"/>
<path fill="#dde318" d="M224.2 193.5 223.2 193.4 221.2 192.5 218.2 189.7 208.2 175.7 206.3 172.4 204.7 167.4 204.2 162.4 204.8 157.4 206.2 155.2 207.2 154.8 209.2 155.1 214.2 158.3 218.2 162.3 221.3 167.4 225.8 180.4 227.0 186.4 227.0 189.4 226.5 191.4 225.2 193.2 224.2 193.5Z"/>
<path fill="#e7e419" d="M220.2 183.7 218.2 182.7 211.2 176.6 209.2 174.3 207.4 171.4 206.5 168.4 206.3 164.4 207.2 161.6 209.2 159.9 212.2 160.0 215.2 161.6 218.0 164.4 219.7 167.4 221.0 172.4 221.7 180.4 221.2 183.2 220.2 183.7Z"/>
<path fill="#f1e51d" d="M217.2 175.5 215.2 176.0 213.2 175.4 211.2 174.1 209.0 171.4 208.2 169.3 207.9 166.4 208.5 164.4 210.2 162.7 212.2 162.4 214.2 163.0 216.2 164.6 217.5 166.4 218.4 168.4 218.8 171.4 218.2 174.2 217.2 175.5Z"/>
<path fill="#fbe723" d="M215.2 172.9 214.2 173.1 212.2 172.5 210.3 170.4 209.7 167.4 210.2 165.8 211.2 164.9 212.2 164.6 214.2 165.2 216.2 167.4 216.8 170.4 216.2 172.1 215.2 172.9Z"/>
</g>
</g>
<clipPath id="clipB"><rect x="45.2" y="366.3" width="346.5" height="346.3"/></clipPath>
<g clip-path="url(#clipB)">
<rect x="45.2" y="366.3" width="346.5" height="346.3" fill="#440154"/>
<g filter="url(#bl)">
<path fill="#460a5d" d="M225.2 659.3 214.2 659.5 203.2 658.5 192.2 656.4 181.2 653.0 171.2 648.7 162.2 643.7 153.2 637.6 144.2 630.1 136.6 622.3 129.4 613.3 122.8 603.3 117.6 593.3 113.5 583.3 109.8 571.3 107.4 559.3 106.1 547.3 106.0 535.3 107.1 523.3 109.1 512.3 112.4 500.3 116.7 489.3 121.7 479.3 127.9 469.3 134.9 460.3 142.4 452.3 151.2 444.5 160.2 438.1 169.2 432.9 180.2 428.0 190.2 424.8 201.2 422.4 212.2 421.2 222.2 421.1 233.2 422.1 245.2 424.6 255.2 427.8 265.2 432.1 275.2 437.7 284.2 444.1 292.6 451.3 300.3 459.3 307.3 468.3 313.7 478.3 318.9 488.3 322.9 498.3 326.5 510.3 328.7 521.3 329.9 533.3 330.0 545.3 328.9 557.3 326.9 568.3 323.9 579.3 319.8 590.3 314.9 600.3 308.7 610.3 302.0 619.3 294.2 627.8 286.2 634.9 277.2 641.6 267.2 647.5 257.2 652.0 246.2 655.7 236.2 658.0 225.2 659.3Z"/>
<path fill="#471063" d="M230.2 648.3 220.2 649.1 210.2 648.8 200.2 647.4 190.2 645.0 181.2 641.8 171.2 637.0 162.2 631.5 154.2 625.3 146.7 618.3 139.7 610.3 134.0 602.3 128.7 593.3 124.1 583.3 120.6 573.3 117.9 562.3 116.4 552.3 115.8 541.3 116.1 531.3 117.5 520.3 120.0 509.3 123.7 498.3 127.7 489.3 132.7 480.3 139.0 471.3 145.8 463.3 153.2 456.2 161.2 449.8 170.2 444.1 179.2 439.6 189.2 435.9 198.2 433.6 208.2 432.0 218.2 431.5 228.2 432.0 238.2 433.7 247.2 436.0 256.2 439.4 265.2 443.8 274.2 449.4 282.2 455.6 289.3 462.3 296.3 470.3 302.7 479.3 307.8 488.3 312.3 498.3 315.7 508.3 318.1 518.3 319.6 528.3 320.2 539.3 319.8 550.3 318.5 560.3 316.0 571.3 312.7 581.3 308.8 590.3 303.9 599.3 297.8 608.3 291.2 616.2 284.1 623.3 276.2 629.7 267.2 635.7 259.2 639.9 249.2 643.9 239.2 646.7 230.2 648.3Z"/>
<path fill="#481668" d="M223.2 642.3 214.2 642.4 204.2 641.4 195.2 639.6 186.2 636.7 177.2 632.8 169.2 628.3 161.2 622.7 153.8 616.3 147.2 609.3 141.0 601.3 135.9 593.3 131.3 584.3 127.8 575.3 124.9 565.3 123.0 555.3 122.1 545.3 122.1 535.3 123.0 525.3 124.9 515.3 127.8 505.3 131.3 496.3 135.9 487.3 141.0 479.3 147.2 471.3 153.8 464.3 161.2 457.9 169.2 452.3 177.2 447.8 186.2 443.9 195.2 441.0 205.2 439.0 214.2 438.2 224.2 438.3 233.2 439.4 242.2 441.4 251.2 444.4 260.2 448.5 268.2 453.2 276.2 459.0 283.2 465.3 289.7 472.3 295.7 480.3 300.7 488.3 305.1 497.3 308.5 506.3 311.3 516.3 313.0 525.3 313.9 535.3 313.9 545.3 313.0 555.3 311.1 565.3 308.5 574.3 305.1 583.3 300.7 592.3 295.7 600.3 289.2 608.8 282.2 616.3 275.2 622.4 267.2 628.0 259.2 632.6 250.2 636.6 241.2 639.4 232.2 641.3 223.2 642.3Z"/>
<path fill="#481b6d" d="M223.2 637.3 214.2 637.4 205.2 636.5 196.2 634.7 187.2 631.8 179.2 628.3 171.2 623.8 164.2 618.9 157.2 612.8 150.9 606.3 144.7 598.3 139.7 590.3 135.6 582.3 132.1 573.3 129.5 564.3 127.7 555.3 126.8 545.3 126.8 535.3 127.6 526.3 129.3 517.3 131.7 508.3 135.6 498.3 139.7 490.3 144.7 482.3 150.2 475.2 156.6 468.3 163.5 462.3 171.2 456.8 179.2 452.3 187.2 448.8 196.2 445.9 205.2 444.1 214.2 443.2 223.2 443.3 232.2 444.3 240.2 446.0 249.2 448.9 257.2 452.5 265.2 457.1 272.2 462.1 279.4 468.3 285.9 475.3 291.3 482.3 296.3 490.3 300.8 499.3 304.3 508.3 306.8 517.3 308.4 526.3 309.2 535.3 309.3 544.3 308.4 554.3 306.5 564.3 303.9 573.3 300.4 582.3 296.3 590.3 291.3 598.3 285.9 605.3 279.4 612.3 272.5 618.3 265.2 623.5 257.2 628.1 249.2 631.7 240.2 634.6 231.2 636.5 223.2 637.3Z"/>
<path fill="#482071" d="M222.2 633.4 214.2 633.4 205.2 632.5 197.2 630.8 188.2 627.9 180.2 624.3 172.2 619.7 165.2 614.6 159.2 609.3 153.5 603.3 148.0 596.3 143.0 588.3 138.9 580.3 135.4 571.3 132.9 562.3 131.3 553.3 130.5 544.3 130.6 535.3 131.4 526.3 133.2 517.3 135.8 508.3 138.9 500.3 143.0 492.3 148.0 484.3 153.5 477.3 159.2 471.3 166.2 465.2 173.2 460.3 181.2 455.8 190.2 452.0 198.2 449.5 207.2 447.8 215.2 447.2 224.2 447.4 232.2 448.4 240.2 450.2 248.2 452.9 256.2 456.5 264.2 461.2 271.2 466.3 277.8 472.3 283.3 478.3 288.7 485.3 293.6 493.3 297.5 501.3 300.6 509.3 303.1 518.3 304.7 527.3 305.5 536.3 305.4 545.3 304.6 554.3 302.8 563.3 300.2 572.3 297.1 580.3 293.0 588.3 288.0 596.3 282.5 603.3 276.2 609.9 269.9 615.3 263.2 620.1 255.2 624.6 247.2 628.1 239.2 630.7 230.2 632.6 222.2 633.4Z"/>
<path fill="#482576" d="M228.2 629.4 220.2 630.0 211.2 629.7 203.2 628.6 195.2 626.7 187.2 623.8 179.2 620.0 172.2 615.6 165.2 610.3 159.2 604.6 153.7 598.3 148.6 591.3 144.0 583.3 140.4 575.3 137.6 567.3 135.4 558.3 134.1 549.3 133.7 540.3 134.1 531.3 135.4 522.3 137.3 514.3 140.0 506.3 143.5 498.3 148.0 490.3 152.9 483.3 158.2 477.0 164.2 471.2 171.2 465.7 178.2 461.2 185.2 457.6 193.2 454.5 201.2 452.4 210.2 451.0 219.2 450.6 227.2 451.1 235.2 452.5 243.2 454.7 251.2 457.8 258.2 461.4 265.2 465.9 271.2 470.7 277.2 476.4 283.1 483.3 288.0 490.3 292.0 497.3 295.6 505.3 298.4 513.3 300.6 522.3 301.8 530.3 302.3 539.3 302.0 548.3 300.8 557.3 299.0 565.3 296.4 573.3 293.0 581.3 288.6 589.3 283.9 596.3 278.2 603.1 272.2 609.0 266.2 613.9 259.2 618.6 251.2 622.8 244.2 625.6 236.2 627.9 228.2 629.4Z"/>
<path fill="#472a7a" d="M228.2 626.3 220.2 627.0 212.2 626.8 204.2 625.8 196.2 623.9 188.2 621.0 181.2 617.7 174.2 613.4 167.2 608.1 161.2 602.5 155.8 596.3 150.8 589.3 146.7 582.3 143.0 574.3 140.3 566.3 138.3 558.3 136.9 549.3 136.5 541.3 136.8 532.3 137.9 524.3 140.0 515.3 142.6 507.3 146.2 499.3 150.1 492.3 155.0 485.3 160.2 479.2 166.2 473.4 172.2 468.6 179.2 464.0 186.2 460.5 194.2 457.4 202.2 455.2 210.2 454.0 218.2 453.6 226.2 454.0 233.2 455.1 241.2 457.2 248.2 459.8 256.2 463.7 263.2 468.1 269.2 472.8 275.0 478.3 280.2 484.3 285.2 491.3 289.3 498.3 293.0 506.3 295.7 514.3 297.7 522.3 299.0 530.3 299.5 539.3 299.2 547.3 298.3 555.3 296.6 563.3 294.1 571.3 290.8 579.3 286.5 587.3 282.2 593.7 276.8 600.3 271.2 606.0 265.2 611.0 258.2 615.7 251.2 619.5 243.2 622.8 236.2 624.8 228.2 626.3Z"/>
<path fill="#472f7d" d="M219.2 624.3 211.2 624.0 204.2 623.0 196.2 621.1 189.2 618.5 182.2 615.2 175.2 610.9 168.2 605.5 162.7 600.3 157.5 594.3 152.5 587.3 148.6 580.3 145.4 573.3 142.6 565.3 140.7 557.3 139.5 549.3 139.0 541.3 139.3 533.3 140.3 525.3 142.1 517.3 144.6 509.3 148.1 501.3 151.9 494.3 156.7 487.3 161.8 481.3 167.2 476.0 173.2 471.1 180.2 466.5 187.2 462.9 195.2 459.9 202.2 458.0 209.2 456.8 217.2 456.3 225.2 456.6 232.2 457.6 240.2 459.7 247.2 462.2 254.2 465.6 261.2 470.0 267.2 474.6 273.2 480.2 278.5 486.3 283.5 493.3 287.4 500.3 290.6 507.3 293.4 515.3 295.3 523.3 296.5 531.3 297.0 539.3 296.7 547.3 295.7 555.3 293.9 563.3 291.4 571.3 287.9 579.3 284.1 586.3 279.3 593.3 274.2 599.3 268.2 605.2 262.2 609.9 256.2 613.8 249.2 617.5 241.2 620.6 234.2 622.5 227.2 623.8 219.2 624.3Z"/>
<path fill="#463480" d="M226.2 621.4 219.2 621.9 211.2 621.6 204.2 620.5 196.2 618.5 189.2 615.9 182.2 612.4 175.2 608.0 169.3 603.3 164.1 598.3 158.9 592.3 154.7 586.3 150.7 579.3 147.5 572.3 144.7 564.3 142.8 556.3 141.7 548.3 141.3 540.3 141.7 532.3 142.8 524.3 144.7 516.3 147.5 508.3 150.7 501.3 154.7 494.3 158.9 488.3 164.1 482.3 169.3 477.3 175.2 472.6 182.2 468.2 189.2 464.7 196.2 462.1 204.2 460.1 211.2 459.0 219.2 458.7 226.2 459.2 234.2 460.6 241.2 462.5 248.2 465.3 255.2 469.0 261.2 472.9 267.2 477.7 272.8 483.3 277.8 489.3 281.9 495.3 285.8 502.3 288.9 509.3 291.6 517.3 293.4 525.3 294.3 532.3 294.7 540.3 294.3 548.3 293.4 555.3 291.6 563.3 288.9 571.3 285.8 578.3 281.9 585.3 277.8 591.3 272.8 597.3 267.2 602.9 261.2 607.7 255.2 611.6 248.2 615.3 241.2 618.1 234.2 620.0 226.2 621.4Z"/>
<path fill="#443983" d="M224.2 619.3 217.2 619.6 209.2 619.1 202.2 617.8 195.2 615.8 188.2 613.0 181.2 609.3 175.2 605.2 169.2 600.3 164.2 595.2 159.4 589.3 155.4 583.3 151.6 576.3 148.6 569.3 146.4 562.3 144.6 554.3 143.7 546.3 143.5 538.3 144.1 530.3 145.4 522.3 147.3 515.3 149.8 508.3 153.1 501.3 157.3 494.3 161.7 488.3 167.2 482.3 172.2 477.7 178.2 473.2 185.2 469.1 192.2 465.9 199.2 463.5 206.2 462.0 213.2 461.1 220.2 461.0 227.2 461.6 234.2 462.9 241.2 464.9 248.2 467.8 254.2 471.0 260.7 475.3 266.8 480.3 271.7 485.3 276.6 491.3 280.6 497.3 284.4 504.3 287.4 511.3 289.9 519.3 291.5 527.3 292.3 534.3 292.5 541.3 292.1 549.3 290.8 557.3 289.0 564.3 286.6 571.3 283.4 578.3 279.4 585.3 275.1 591.3 270.2 596.9 264.5 602.3 258.2 607.1 252.2 610.8 245.2 614.1 238.2 616.7 231.2 618.4 224.2 619.3Z"/>
<path fill="#433e85" d="M223.2 617.3 216.2 617.5 209.2 617.0 202.2 615.7 195.2 613.6 188.2 610.7 182.2 607.5 176.2 603.4 170.2 598.4 165.2 593.3 160.4 587.3 156.5 581.3 152.8 574.3 150.0 567.3 147.9 560.3 146.5 553.3 145.6 545.3 145.5 537.3 146.0 530.3 147.4 522.3 149.3 515.3 152.0 508.3 155.4 501.3 159.0 495.3 163.5 489.3 168.2 484.1 174.2 478.7 180.2 474.4 186.2 470.9 193.2 467.7 200.2 465.4 207.2 463.9 214.2 463.2 221.2 463.2 228.2 463.8 235.2 465.3 242.2 467.5 249.2 470.6 255.2 474.0 261.2 478.3 266.2 482.6 271.2 487.8 275.6 493.3 279.5 499.3 283.2 506.3 286.0 513.3 288.1 520.3 289.5 527.3 290.4 535.3 290.5 542.3 290.0 550.3 288.6 558.3 286.7 565.3 284.0 572.3 280.6 579.3 277.0 585.3 272.5 591.3 267.2 597.1 262.2 601.5 256.2 606.0 250.2 609.5 243.2 612.7 237.2 614.8 230.2 616.4 223.2 617.3Z"/>
<path fill="#414287" d="M223.2 615.4 216.2 615.5 209.2 615.0 202.2 613.7 196.2 611.9 189.2 609.0 183.2 605.8 177.2 601.8 171.8 597.3 166.9 592.3 162.2 586.5 158.1 580.3 154.9 574.3 152.0 567.3 149.8 560.3 148.3 553.3 147.4 545.3 147.3 537.3 147.9 530.3 149.1 523.3 151.0 516.3 153.6 509.3 157.0 502.3 160.6 496.3 165.1 490.3 170.2 484.8 175.2 480.4 181.2 476.0 187.2 472.6 193.2 469.8 200.2 467.5 207.2 465.9 214.2 465.2 221.2 465.1 228.2 465.8 234.2 467.0 241.2 469.2 248.2 472.3 254.2 475.6 260.2 479.9 265.2 484.3 270.2 489.5 274.7 495.3 278.5 501.3 281.6 507.3 284.4 514.3 286.4 521.3 287.8 528.3 288.6 535.3 288.7 543.3 288.1 550.3 286.9 557.3 285.0 564.3 282.4 571.3 279.6 577.3 276.0 583.3 271.7 589.3 267.2 594.4 261.9 599.3 256.2 603.6 250.2 607.3 244.2 610.2 237.2 612.7 230.2 614.4 223.2 615.4Z"/>
<path fill="#3f4788" d="M224.2 613.4 217.2 613.7 210.2 613.2 203.2 612.0 197.2 610.3 191.2 607.9 185.2 604.9 179.2 601.0 173.4 596.3 168.4 591.3 164.2 586.3 160.2 580.3 156.9 574.3 153.9 567.3 151.6 560.3 150.1 553.3 149.3 546.3 149.0 539.3 149.5 531.3 150.7 524.3 152.5 517.3 155.0 510.3 157.9 504.3 161.4 498.3 165.8 492.3 170.3 487.3 175.7 482.3 181.2 478.2 187.2 474.6 193.2 471.8 200.2 469.4 206.2 468.0 213.2 467.1 220.2 466.9 227.2 467.6 234.2 468.9 240.2 470.8 246.2 473.3 252.2 476.6 258.2 480.7 263.2 484.9 268.2 490.0 272.5 495.3 276.4 501.3 279.6 507.3 282.5 514.3 284.4 520.3 285.9 527.3 286.8 534.3 287.0 541.3 286.6 548.3 285.5 555.3 283.8 562.3 281.4 569.3 278.6 575.3 275.2 581.3 271.0 587.3 266.2 592.8 261.2 597.5 256.2 601.4 250.2 605.2 244.2 608.2 237.2 610.8 230.2 612.5 224.2 613.4Z"/>
<path fill="#3e4c8a" d="M226.2 611.4 220.2 611.9 213.2 611.8 206.2 610.8 200.2 609.4 193.2 606.9 187.2 604.0 181.2 600.3 176.2 596.5 171.2 591.8 166.4 586.3 162.8 581.3 159.3 575.3 156.4 569.3 153.9 562.3 152.2 555.3 151.1 548.3 150.7 541.3 150.9 534.3 151.8 527.3 153.4 520.3 155.6 513.3 158.2 507.3 161.5 501.3 165.6 495.3 170.2 489.8 175.2 485.0 180.2 481.0 186.2 477.2 192.2 474.1 198.2 471.8 205.2 470.0 211.2 469.0 217.2 468.7 224.2 469.0 231.2 470.0 237.2 471.6 243.2 473.9 249.2 476.8 255.2 480.6 260.2 484.5 265.2 489.2 269.6 494.3 273.2 499.3 276.7 505.3 279.6 511.3 282.1 518.3 283.8 525.3 284.9 532.3 285.3 539.3 285.1 546.3 284.4 552.3 282.9 559.3 280.7 566.3 278.2 572.3 275.1 578.3 271.1 584.3 267.1 589.3 262.2 594.3 257.2 598.5 251.2 602.6 245.2 605.8 239.2 608.3 233.2 610.1 226.2 611.4Z"/>
<path fill="#3c508b" d="M228.2 609.4 222.2 610.1 215.2 610.2 209.2 609.6 202.2 608.2 196.2 606.3 190.2 603.7 184.2 600.3 179.2 596.8 174.0 592.3 169.3 587.3 165.4 582.3 161.6 576.3 158.6 570.3 155.9 563.3 154.0 556.3 152.9 550.3 152.3 543.3 152.4 536.3 153.1 529.3 154.5 522.3 156.6 515.3 159.1 509.3 162.2 503.3 166.1 497.3 170.2 492.3 175.1 487.3 180.2 483.1 185.2 479.7 191.2 476.4 197.2 473.9 203.2 472.1 210.2 470.8 216.2 470.4 223.2 470.6 229.2 471.4 235.2 472.8 241.2 474.8 247.2 477.6 253.2 481.2 258.2 484.9 263.2 489.5 267.5 494.3 271.3 499.3 274.9 505.3 277.8 511.3 280.1 517.3 281.8 523.3 283.1 530.3 283.7 537.3 283.6 544.3 282.9 551.3 281.8 557.3 279.8 564.3 277.4 570.3 274.4 576.3 270.6 582.3 266.7 587.3 262.2 592.1 257.2 596.5 252.2 600.1 247.2 603.0 241.2 605.8 235.2 607.8 228.2 609.4Z"/>
<path fill="#3a548c" d="M224.2 608.3 217.2 608.7 211.2 608.3 205.2 607.3 199.2 605.7 193.2 603.4 188.2 600.9 182.2 597.1 177.2 593.1 172.3 588.3 168.2 583.5 164.6 578.3 161.2 572.3 158.6 566.3 156.6 560.3 154.9 553.3 154.0 546.3 153.8 539.3 154.2 532.3 155.3 525.3 156.9 519.3 159.0 513.3 161.7 507.3 165.2 501.4 168.8 496.3 173.2 491.3 177.4 487.3 182.5 483.3 188.2 479.7 194.2 476.8 200.2 474.6 207.2 472.9 213.2 472.1 220.2 472.0 226.2 472.5 232.2 473.6 238.2 475.4 244.2 477.9 249.2 480.5 254.8 484.3 259.7 488.3 264.6 493.3 268.7 498.3 272.0 503.3 275.3 509.3 277.8 515.3 279.7 521.3 281.1 527.3 282.0 534.3 282.2 540.3 281.9 547.3 280.9 554.3 279.4 560.3 277.0 567.3 274.3 573.3 270.8 579.3 267.2 584.2 262.8 589.3 258.2 593.6 253.2 597.5 248.2 600.6 242.2 603.6 236.2 605.9 230.2 607.4 224.2 608.3Z"/>
<path fill="#38598c" d="M227.2 606.4 221.2 607.0 214.2 607.0 208.2 606.3 202.2 605.0 196.2 603.0 191.2 600.7 185.2 597.3 180.2 593.6 175.3 589.3 171.2 584.8 167.2 579.6 164.0 574.3 161.0 568.3 158.7 562.3 156.8 555.3 155.8 549.3 155.3 543.3 155.3 536.3 155.9 530.3 157.3 523.3 159.4 516.3 161.9 510.3 165.1 504.3 168.4 499.3 172.5 494.3 177.2 489.5 182.2 485.4 187.2 482.1 193.2 478.9 199.2 476.6 205.2 474.9 211.2 473.9 217.2 473.5 223.2 473.7 229.2 474.6 235.2 476.0 241.2 478.2 247.2 481.2 252.2 484.3 257.2 488.1 261.7 492.3 266.1 497.3 269.6 502.3 272.6 507.3 275.4 513.3 277.6 519.3 279.4 526.3 280.3 532.3 280.8 538.3 280.6 545.3 279.8 552.3 278.5 558.3 276.6 564.3 274.1 570.3 270.9 576.3 267.6 581.3 263.5 586.3 259.6 590.3 255.2 594.1 250.2 597.7 245.2 600.5 239.2 603.2 233.2 605.1 227.2 606.4Z"/>
<path fill="#365d8d" d="M223.2 605.4 217.2 605.6 211.2 605.2 205.2 604.2 199.2 602.5 193.2 600.1 188.2 597.4 183.2 594.1 178.2 590.0 174.2 586.1 170.2 581.3 166.8 576.3 163.5 570.3 160.9 564.3 159.0 558.3 157.7 552.3 156.8 545.3 156.6 538.3 157.1 532.3 158.3 525.3 159.9 519.3 162.1 513.3 165.0 507.3 168.1 502.3 171.8 497.3 176.2 492.5 180.9 488.3 186.2 484.4 191.2 481.5 196.2 479.2 202.2 477.2 208.2 475.8 214.2 475.1 220.2 475.0 226.2 475.6 232.2 476.7 238.2 478.6 244.2 481.2 249.2 484.0 253.9 487.3 258.2 490.9 262.5 495.3 266.5 500.3 269.8 505.3 273.0 511.3 275.5 517.3 277.3 523.3 278.5 529.3 279.2 535.3 279.4 541.3 278.9 548.3 278.0 554.3 276.4 560.3 274.3 566.3 271.5 572.3 268.6 577.3 265.0 582.3 260.6 587.3 256.2 591.4 251.2 595.2 246.2 598.3 241.2 600.8 235.2 603.0 229.2 604.5 223.2 605.4Z"/>
<path fill="#34618d" d="M227.2 603.4 221.2 604.1 215.2 604.1 209.2 603.5 203.2 602.2 197.2 600.2 192.2 598.0 187.2 595.1 182.2 591.6 177.3 587.3 173.6 583.3 169.7 578.3 166.6 573.3 164.0 568.3 161.6 562.3 159.9 556.3 158.6 549.3 158.0 542.3 158.1 536.3 158.7 530.3 159.9 524.3 161.6 518.3 164.0 512.3 167.2 506.3 170.5 501.3 174.2 496.6 178.4 492.3 183.2 488.3 188.2 484.8 193.2 482.1 199.2 479.6 205.2 477.9 211.2 476.8 217.2 476.4 223.2 476.7 229.2 477.5 234.2 478.8 240.2 480.9 245.2 483.4 250.2 486.4 255.2 490.2 259.7 494.3 264.0 499.3 267.6 504.3 270.5 509.3 272.8 514.3 275.0 520.3 276.6 526.3 277.6 532.3 278.0 538.3 277.9 544.3 277.3 550.3 276.1 556.3 274.4 562.3 272.0 568.3 269.4 573.3 266.2 578.4 262.4 583.3 258.2 587.7 254.1 591.3 249.2 594.9 244.2 597.8 238.2 600.5 233.2 602.1 227.2 603.4Z"/>
<path fill="#32658e" d="M225.2 602.3 219.2 602.8 213.2 602.6 207.2 601.7 202.2 600.5 196.2 598.3 191.2 595.9 186.2 592.8 181.6 589.3 177.2 585.2 173.2 580.7 169.4 575.3 166.5 570.3 164.2 565.3 162.1 559.3 160.6 553.3 159.7 547.3 159.3 541.3 159.5 535.3 160.2 529.3 161.5 523.3 163.4 517.3 166.0 511.3 168.7 506.3 172.2 501.2 176.2 496.4 180.4 492.3 185.2 488.5 190.2 485.3 195.2 482.7 201.2 480.4 206.2 479.1 212.2 478.1 218.2 477.8 224.2 478.2 229.2 479.0 235.2 480.6 240.2 482.5 245.9 485.3 250.5 488.3 255.2 492.0 259.2 495.8 263.1 500.3 266.6 505.3 269.5 510.3 271.8 515.3 273.9 521.3 275.4 527.3 276.3 533.3 276.7 539.3 276.5 545.3 275.8 551.3 274.5 557.3 272.6 563.3 270.0 569.3 267.3 574.3 263.9 579.3 259.7 584.3 255.6 588.3 251.2 591.8 246.2 595.1 241.2 597.7 236.2 599.7 231.2 601.2 225.2 602.3Z"/>
<path fill="#30698e" d="M221.2 601.3 215.2 601.3 209.2 600.7 204.2 599.6 198.2 597.7 193.2 595.4 188.2 592.6 183.7 589.3 179.2 585.4 175.2 581.1 171.6 576.3 168.5 571.3 166.0 566.3 164.1 561.3 162.3 555.3 161.2 549.3 160.6 543.3 160.6 537.3 161.2 531.3 162.3 525.3 164.1 519.3 166.5 513.3 169.1 508.3 175.4 499.3 179.2 495.2 183.7 491.3 188.2 488.0 193.2 485.2 198.2 482.9 204.2 481.0 209.2 479.9 215.2 479.3 220.2 479.2 226.2 479.8 232.2 481.1 237.2 482.7 242.2 484.9 247.2 487.7 252.2 491.2 256.9 495.3 260.6 499.3 264.4 504.3 267.5 509.3 270.0 514.3 271.9 519.3 273.7 525.3 274.8 531.3 275.4 537.3 275.4 543.3 274.8 549.3 273.7 555.3 271.9 561.3 270.0 566.3 267.2 571.8 264.2 576.6 260.6 581.3 256.9 585.3 252.3 589.3 248.2 592.3 243.1 595.3 238.2 597.5 232.2 599.5 227.2 600.6 221.2 601.3Z"/>
<path fill="#2e6d8e" d="M226.2 599.5 221.2 600.0 215.2 600.0 210.2 599.5 204.2 598.3 199.2 596.7 193.9 594.3 189.2 591.6 184.2 588.1 179.9 584.3 176.2 580.3 172.4 575.3 169.4 570.3 167.0 565.3 164.7 559.3 163.4 554.3 162.3 548.3 161.8 542.3 161.9 536.3 162.6 530.3 163.9 524.3 165.7 518.3 167.9 513.3 170.5 508.3 173.9 503.3 177.2 499.2 181.2 495.1 185.2 491.7 190.2 488.3 195.2 485.6 200.2 483.6 205.2 482.1 211.2 480.9 216.2 480.5 222.2 480.7 228.2 481.5 233.2 482.7 238.2 484.5 243.2 486.9 248.2 489.9 252.2 492.9 256.2 496.4 260.2 500.8 263.6 505.3 266.6 510.3 269.0 515.3 271.3 521.3 272.6 526.3 273.7 532.3 274.2 538.3 274.1 544.3 272.4 555.3 270.6 561.3 268.6 566.3 266.1 571.3 262.9 576.3 259.2 581.0 255.2 585.1 251.2 588.5 246.2 592.0 241.2 594.8 236.2 596.9 226.2 599.5Z"/>
<path fill="#2d718e" d="M224.2 598.4 219.2 598.8 213.2 598.6 207.2 597.7 202.2 596.3 197.2 594.5 192.2 592.0 187.2 588.8 183.2 585.6 179.2 581.7 175.4 577.3 169.7 568.3 167.4 563.3 165.4 557.3 164.0 551.3 163.3 546.3 163.0 540.3 163.3 534.3 164.0 529.3 165.4 523.3 167.4 517.3 169.7 512.3 175.4 503.3 179.2 498.9 183.2 495.0 187.2 491.8 192.2 488.6 197.2 486.1 202.2 484.3 207.2 482.9 213.2 482.0 219.2 481.8 224.2 482.2 229.2 483.0 234.2 484.4 239.2 486.3 244.2 488.9 249.2 492.1 253.1 495.3 257.2 499.3 260.6 503.3 264.0 508.3 266.8 513.3 270.6 523.3 271.8 528.3 272.7 534.3 273.0 540.3 272.7 546.3 271.8 552.3 270.6 557.3 266.8 567.3 264.0 572.3 260.6 577.3 257.2 581.3 253.1 585.3 249.2 588.5 244.2 591.7 239.2 594.3 234.2 596.2 229.2 597.6 224.2 598.4Z"/>
<path fill="#2b748e" d="M222.2 597.4 217.2 597.5 211.2 597.1 206.2 596.1 201.2 594.7 196.2 592.6 191.8 590.3 187.2 587.2 183.2 583.9 179.2 579.9 175.4 575.3 170.1 566.3 168.0 561.3 166.1 555.3 165.0 550.3 164.3 544.3 164.6 533.3 165.6 527.3 166.9 522.3 169.2 516.3 171.6 511.3 174.7 506.3 177.8 502.3 185.2 494.9 189.2 492.0 194.2 489.0 199.2 486.7 204.2 485.0 209.2 483.8 215.2 483.1 225.2 483.6 230.2 484.6 235.2 486.1 240.2 488.2 245.2 490.9 249.2 493.7 253.5 497.3 257.2 501.1 260.6 505.3 263.8 510.3 266.4 515.3 269.9 525.3 271.0 530.3 271.7 536.3 271.4 547.3 270.4 553.3 269.1 558.3 264.9 568.3 262.2 572.9 259.0 577.3 255.2 581.6 251.2 585.3 247.2 588.4 242.2 591.4 237.2 593.8 232.2 595.5 227.2 596.7 222.2 597.4Z"/>
<path fill="#2a788e" d="M227.2 595.4 222.2 596.1 216.2 596.3 211.2 595.8 206.2 594.9 201.2 593.4 196.2 591.3 191.2 588.5 187.2 585.7 183.2 582.3 179.4 578.3 176.2 574.3 173.2 569.7 168.9 560.3 167.3 555.3 166.1 549.3 165.5 544.3 165.4 538.3 165.9 532.3 166.8 527.3 168.2 522.3 170.2 516.9 172.4 512.3 175.5 507.3 182.2 499.3 186.2 495.7 190.9 492.3 195.2 489.8 200.2 487.6 205.2 486.0 210.2 484.9 215.2 484.4 220.2 484.4 225.2 484.8 230.2 485.8 235.2 487.4 240.2 489.5 245.1 492.3 249.2 495.2 256.6 502.3 259.8 506.3 263.0 511.3 265.5 516.3 267.5 521.3 269.9 531.3 270.5 536.3 270.6 542.3 269.4 552.3 266.4 562.3 264.1 567.3 261.2 572.3 258.2 576.4 254.2 580.9 250.2 584.6 246.2 587.6 242.2 590.0 237.2 592.4 232.2 594.2 227.2 595.4Z"/>
<path fill="#287c8e" d="M226.2 594.4 221.2 595.0 216.2 595.0 211.2 594.6 206.2 593.6 201.2 592.1 196.2 589.9 191.6 587.3 187.3 584.3 180.0 577.3 176.9 573.3 173.8 568.3 171.3 563.3 169.4 558.3 167.1 548.3 166.6 543.3 166.6 537.3 167.2 531.3 168.2 526.3 171.7 516.3 176.9 507.3 180.2 503.1 183.9 499.3 188.2 495.6 192.2 492.9 201.2 488.5 206.2 487.0 211.2 486.0 216.2 485.6 221.2 485.6 226.2 486.2 231.2 487.4 240.2 490.9 245.2 493.8 249.2 496.7 256.2 503.6 259.2 507.5 262.2 512.3 264.7 517.3 266.6 522.3 268.9 532.3 269.4 537.3 269.4 543.3 268.0 553.3 264.7 563.3 259.8 572.3 253.2 580.3 249.2 583.9 245.2 586.8 241.0 589.3 236.2 591.5 231.2 593.2 226.2 594.4Z"/>
<path fill="#27808e" d="M225.2 593.3 220.2 593.8 215.2 593.8 210.2 593.2 205.2 592.1 200.2 590.4 195.6 588.3 191.2 585.7 187.2 582.7 180.2 575.7 174.5 567.3 172.1 562.3 170.3 557.3 168.1 547.3 167.7 542.3 167.8 536.3 169.4 526.3 170.9 521.3 173.0 516.3 175.7 511.3 178.3 507.3 181.6 503.3 185.2 499.7 193.2 493.7 197.2 491.5 202.2 489.4 207.2 488.0 212.2 487.1 217.2 486.7 222.2 486.9 227.2 487.6 232.2 488.9 241.2 492.8 249.2 498.3 256.2 505.4 259.2 509.5 262.0 514.3 265.7 523.3 267.9 533.3 268.3 539.3 268.2 544.3 266.6 554.3 263.2 563.9 258.2 572.6 255.2 576.4 251.5 580.3 243.8 586.3 235.2 590.7 230.2 592.3 225.2 593.3Z"/>
<path fill="#25838e" d="M223.2 592.4 218.2 592.7 213.2 592.4 204.2 590.6 199.2 588.7 195.2 586.7 187.2 581.2 183.2 577.4 180.2 573.9 174.7 565.3 172.5 560.3 170.8 555.3 169.0 545.3 169.0 535.3 170.8 525.3 172.5 520.3 174.7 515.3 180.2 506.7 183.2 503.2 187.2 499.4 195.2 493.9 199.2 491.9 204.2 490.0 209.2 488.8 214.2 488.1 219.2 487.9 224.2 488.3 233.2 490.5 238.2 492.5 242.2 494.7 249.8 500.3 256.2 507.3 259.2 511.6 261.8 516.3 265.2 525.3 267.0 535.3 267.0 545.3 265.2 555.3 261.8 564.3 259.2 569.0 256.2 573.4 252.9 577.3 249.2 580.8 241.2 586.5 237.2 588.5 232.2 590.5 223.2 592.4Z"/>
<path fill="#24878e" d="M222.2 591.3 217.2 591.5 212.2 591.2 203.2 589.0 198.2 587.0 194.2 584.8 186.8 579.3 180.2 572.0 175.0 563.3 171.7 554.3 170.0 544.3 170.2 534.3 172.3 524.3 176.0 515.3 181.2 507.3 184.7 503.3 188.2 500.1 196.2 494.6 200.2 492.7 205.2 490.9 214.2 489.2 219.2 489.1 224.2 489.5 233.2 491.7 241.2 495.4 245.2 498.0 249.2 501.3 255.6 508.3 258.3 512.3 261.0 517.3 264.3 526.3 266.0 536.3 265.8 546.3 263.7 556.3 260.0 565.3 254.8 573.3 248.2 580.2 240.2 585.8 236.2 587.7 231.2 589.6 222.2 591.3Z"/>
<path fill="#228b8d" d="M220.2 590.3 211.2 589.8 202.2 587.5 193.9 583.3 190.2 580.7 186.2 577.2 180.2 570.1 175.3 561.3 172.3 552.3 171.0 542.3 171.5 532.3 173.7 523.3 177.8 514.3 183.5 506.3 190.2 499.9 198.2 494.9 202.2 493.1 207.2 491.6 216.2 490.3 225.2 490.8 234.2 493.3 242.2 497.4 246.2 500.2 250.2 503.8 256.2 511.1 260.7 519.3 263.7 528.3 265.0 538.3 264.5 548.3 262.3 557.3 258.2 566.3 252.5 574.3 246.2 580.4 238.2 585.5 234.2 587.3 229.2 588.9 220.2 590.3Z"/>
<path fill="#218f8d" d="M226.2 588.4 217.2 589.2 208.2 588.1 203.2 586.6 199.2 585.0 191.5 580.3 184.9 574.3 181.7 570.3 179.0 566.3 174.9 557.3 172.6 548.3 172.1 538.3 173.2 529.3 176.2 519.9 181.0 511.3 186.9 504.3 194.2 498.4 202.2 494.3 211.2 491.9 220.2 491.4 229.2 492.8 237.2 495.8 245.2 500.8 251.9 507.3 257.2 514.7 261.1 523.3 263.4 532.3 263.9 542.3 262.8 551.3 260.0 560.3 255.7 568.3 250.1 575.3 243.1 581.3 235.2 585.7 231.2 587.2 226.2 588.4Z"/>
<path fill="#20928c" d="M225.2 587.5 216.2 588.1 207.2 586.7 199.2 583.7 195.2 581.5 191.2 578.7 184.6 572.3 179.7 565.3 175.7 556.3 173.6 547.3 173.2 537.3 174.5 528.3 177.6 519.3 182.2 511.4 188.2 504.5 195.2 499.1 203.2 495.2 207.2 493.9 212.2 492.9 221.2 492.6 229.2 494.0 237.2 497.1 241.2 499.4 245.2 502.3 251.4 508.3 256.8 516.3 260.3 524.3 262.4 533.3 262.9 542.3 261.7 551.3 258.8 560.3 254.4 568.3 248.2 575.7 241.2 581.2 233.2 585.3 225.2 587.5Z"/>
<path fill="#1f968b" d="M225.2 586.3 216.2 586.9 208.2 585.8 200.2 583.0 196.2 580.8 192.2 578.0 188.2 574.6 185.2 571.3 180.4 564.3 176.8 556.3 174.6 547.3 174.2 538.3 175.4 529.3 178.4 520.3 182.9 512.3 189.0 505.3 196.2 499.8 204.2 496.0 212.2 494.0 221.2 493.7 229.2 495.2 237.2 498.3 244.2 502.9 250.8 509.3 255.6 516.3 259.2 524.3 261.4 533.3 261.8 542.3 260.6 551.3 258.1 559.3 253.8 567.3 248.1 574.3 241.2 579.9 233.2 584.1 225.2 586.3Z"/>
<path fill="#1f9a8a" d="M224.2 585.4 215.2 585.8 207.2 584.4 199.2 581.2 192.2 576.7 185.8 570.3 181.0 563.3 177.6 555.3 175.6 546.3 175.3 537.3 176.7 528.3 179.5 520.3 184.2 512.3 190.2 505.6 197.2 500.5 205.2 496.8 213.2 495.0 221.2 494.9 229.2 496.3 237.2 499.6 244.2 504.3 250.2 510.3 255.0 517.3 258.4 525.3 260.4 534.3 260.7 543.3 259.3 552.3 256.5 560.3 252.2 567.7 246.5 574.3 240.1 579.3 232.2 583.3 224.2 585.4Z"/>
<path fill="#1f9e89" d="M223.2 584.4 215.2 584.7 207.2 583.2 199.2 580.0 192.2 575.3 186.3 569.3 181.7 562.3 178.4 554.3 176.5 545.3 176.4 536.3 177.8 528.3 180.7 520.3 185.6 512.3 191.2 506.2 198.2 501.2 206.2 497.7 214.2 496.0 222.2 496.1 230.2 497.8 237.2 500.8 244.2 505.7 250.2 512.0 254.8 519.3 257.9 527.3 259.5 535.3 259.6 544.3 258.2 552.3 255.3 560.3 251.2 567.3 246.0 573.3 239.2 578.6 231.2 582.5 223.2 584.4Z"/>
<path fill="#1fa187" d="M222.2 583.4 214.2 583.5 206.2 581.8 199.2 578.8 192.2 573.8 186.2 567.4 181.9 560.3 178.9 552.3 177.4 544.3 177.5 535.3 179.1 527.3 182.4 519.3 186.9 512.3 192.7 506.3 199.2 501.8 206.2 498.8 214.2 497.1 222.2 497.2 230.2 498.9 237.6 502.3 244.2 507.1 249.9 513.3 254.1 520.3 257.1 528.3 258.6 536.3 258.5 545.3 256.9 553.3 253.6 561.3 249.2 568.2 243.3 574.3 237.2 578.5 230.2 581.7 222.2 583.4Z"/>
<path fill="#21a585" d="M222.2 582.3 214.2 582.4 207.2 581.0 200.2 578.1 193.2 573.3 187.5 567.3 183.0 560.3 179.9 552.3 178.5 544.3 178.5 536.3 179.9 528.3 183.0 520.3 187.5 513.3 193.2 507.3 199.2 503.1 206.2 500.0 214.2 498.2 222.2 498.3 229.2 499.8 236.2 502.8 243.2 507.7 248.5 513.3 253.0 520.3 256.1 528.3 257.5 536.3 257.5 544.3 256.1 552.3 253.0 560.3 248.5 567.3 243.2 572.9 237.2 577.3 230.2 580.5 222.2 582.3Z"/>
<path fill="#23a983" d="M221.2 581.3 213.2 581.1 206.2 579.5 199.2 576.3 193.2 571.9 188.0 566.3 183.7 559.3 180.7 551.3 179.4 543.3 179.6 535.3 181.3 527.3 184.2 520.3 188.8 513.3 194.2 507.9 201.1 503.3 208.2 500.5 215.2 499.3 223.2 499.5 230.2 501.3 237.2 504.6 243.2 509.1 248.2 514.6 252.3 521.3 255.3 529.3 256.6 537.3 256.4 545.3 254.7 553.3 251.8 560.3 247.2 567.3 241.2 573.2 235.2 577.1 228.2 580.0 221.2 581.3Z"/>
<path fill="#26ad81" d="M219.2 580.3 211.2 579.7 204.2 577.6 198.1 574.3 192.2 569.4 187.2 563.3 183.5 556.3 181.3 549.3 180.4 541.3 180.9 533.3 183.1 525.3 186.6 518.3 191.1 512.3 196.7 507.3 203.2 503.5 210.2 501.1 217.2 500.3 224.2 500.8 231.2 502.8 238.2 506.5 243.9 511.3 248.8 517.3 252.5 524.3 254.7 531.3 255.6 539.3 255.1 547.3 253.2 554.5 250.0 561.3 245.2 568.0 239.3 573.3 233.2 576.9 226.2 579.4 219.2 580.3Z"/>
<path fill="#2ab07f" d="M225.2 578.5 217.2 579.2 210.2 578.3 203.2 575.9 197.2 572.3 191.6 567.3 187.2 561.3 183.9 554.3 182.0 547.3 181.4 539.3 182.2 532.2 184.6 524.3 188.2 517.7 193.2 511.7 198.6 507.3 205.2 503.8 212.2 501.9 219.2 501.4 226.2 502.4 233.2 504.9 239.2 508.6 244.4 513.3 248.8 519.3 252.1 526.3 254.0 533.3 254.6 541.3 253.8 548.3 251.8 555.3 248.2 562.3 243.4 568.3 238.2 572.8 232.2 576.2 225.2 578.5Z"/>
<path fill="#2fb47c" d="M225.2 577.3 218.2 578.1 211.2 577.4 204.2 575.2 198.2 571.7 193.1 567.3 188.4 561.3 185.0 554.3 183.1 547.3 182.5 539.3 183.3 532.3 185.4 525.3 189.1 518.3 194.1 512.3 199.2 508.2 205.2 505.0 212.2 503.0 219.2 502.5 226.2 503.5 232.2 505.6 238.2 509.2 243.2 513.6 247.6 519.3 251.0 526.3 252.9 533.3 253.5 541.3 252.7 548.3 250.6 555.3 247.6 561.3 243.2 567.0 238.2 571.4 232.2 575.0 225.2 577.3Z"/>
<path fill="#35b779" d="M224.2 576.4 217.2 577.0 210.2 576.1 204.2 574.0 198.2 570.4 193.2 565.8 189.1 560.3 185.7 553.3 184.0 546.3 183.5 538.3 184.5 531.3 186.9 524.3 190.2 518.6 194.6 513.3 200.2 508.8 206.2 505.8 213.2 503.9 220.2 503.7 226.2 504.6 232.2 506.8 238.2 510.5 243.2 515.2 247.2 520.7 250.3 527.3 252.0 534.3 252.5 541.3 251.7 548.3 249.5 555.3 246.3 561.3 242.2 566.5 236.5 571.3 230.2 574.6 224.2 576.4Z"/>
<path fill="#3bbb75" d="M223.2 575.5 216.2 575.8 210.2 574.9 204.2 572.7 198.2 569.0 193.2 564.2 189.2 558.4 186.5 552.3 184.9 545.3 184.6 538.3 185.6 531.3 188.1 524.3 191.7 518.3 196.2 513.3 201.6 509.3 208.1 506.3 214.2 504.9 221.2 504.9 227.2 506.1 233.2 508.6 238.2 511.9 243.2 516.9 246.9 522.3 249.5 528.3 251.1 535.3 251.4 542.3 250.4 549.3 248.3 555.3 245.0 561.3 240.8 566.3 235.2 570.8 229.2 573.8 223.2 575.5Z"/>
<path fill="#42be71" d="M223.2 574.3 216.2 574.7 210.2 573.7 204.2 571.5 199.1 568.3 194.2 563.7 190.4 558.3 187.6 552.3 186.0 545.3 185.7 538.3 186.7 531.3 188.8 525.3 192.3 519.3 196.7 514.3 202.2 510.2 208.2 507.5 214.2 506.1 221.2 506.0 227.2 507.3 233.2 509.9 238.1 513.3 242.9 518.3 246.2 523.3 248.7 529.3 250.0 535.3 250.3 542.3 249.5 548.3 247.6 554.3 244.2 560.6 240.2 565.4 235.2 569.5 229.2 572.6 223.2 574.3Z"/>
<path fill="#4ac16d" d="M222.2 573.3 216.2 573.6 210.2 572.6 204.2 570.2 199.2 566.9 194.5 562.3 191.1 557.3 188.4 551.3 186.9 544.3 186.8 537.3 187.8 531.3 190.0 525.3 193.2 520.0 197.3 515.3 202.2 511.5 208.2 508.7 214.2 507.2 220.2 507.1 226.2 508.1 232.2 510.6 237.2 514.0 241.5 518.3 245.2 523.8 247.9 530.3 249.1 536.3 249.2 543.3 248.2 549.3 246.0 555.3 243.0 560.3 239.2 564.8 234.2 568.8 228.2 571.8 222.2 573.3Z"/>
<path fill="#52c569" d="M220.2 572.4 214.2 572.2 208.2 570.7 203.1 568.3 198.2 564.6 194.2 560.1 190.8 554.3 188.7 548.3 187.8 542.3 188.0 536.3 189.3 530.3 191.8 524.3 195.2 519.2 200.2 514.3 204.9 511.3 210.2 509.2 216.2 508.2 222.2 508.4 228.2 510.0 233.2 512.5 238.1 516.3 242.2 521.0 245.2 526.3 247.3 532.3 248.2 538.3 248.0 544.3 246.7 550.3 244.2 556.3 240.9 561.3 236.2 566.0 231.2 569.2 226.2 571.3 220.2 572.4Z"/>
<path fill="#5ac864" d="M225.2 570.3 220.2 571.2 214.2 571.0 208.2 569.5 203.2 567.0 198.2 563.0 194.3 558.3 191.6 553.3 189.6 547.3 188.9 541.3 189.3 535.3 190.8 529.3 193.6 523.3 197.5 518.3 202.1 514.3 207.2 511.5 212.2 509.9 217.2 509.3 223.2 509.8 228.3 511.3 233.9 514.3 238.2 518.0 241.7 522.3 244.4 527.3 246.4 533.3 247.1 539.3 246.7 545.3 245.2 551.3 242.9 556.3 239.4 561.3 235.2 565.3 230.2 568.4 225.2 570.3Z"/>
<path fill="#63cb5f" d="M224.2 569.4 219.2 570.1 213.2 569.7 208.2 568.2 202.8 565.3 198.2 561.4 195.0 557.3 192.4 552.3 190.6 546.3 190.0 540.3 190.6 534.3 192.4 528.3 195.0 523.3 199.1 518.3 203.2 515.0 208.2 512.4 213.2 510.9 219.2 510.5 224.2 511.2 229.2 513.0 234.2 516.0 238.2 519.7 241.6 524.3 244.0 529.3 245.4 534.3 246.0 539.3 245.6 545.3 244.0 551.3 241.6 556.3 238.2 560.9 234.2 564.6 229.2 567.6 224.2 569.4Z"/>
<path fill="#6ccd5a" d="M223.2 568.3 218.2 568.9 213.2 568.4 208.2 566.9 203.2 564.2 199.2 560.7 195.7 556.3 193.2 551.3 191.6 545.3 191.2 539.3 191.7 534.3 193.6 528.3 196.2 523.6 199.8 519.3 204.2 515.8 209.2 513.3 214.2 512.0 219.2 511.7 224.2 512.5 229.2 514.3 233.9 517.3 238.1 521.3 240.9 525.3 243.2 530.3 244.4 535.3 244.8 541.3 244.3 546.3 242.8 551.3 240.3 556.3 237.2 560.3 232.6 564.3 228.2 566.7 223.2 568.3Z"/>
<path fill="#75d054" d="M221.2 567.4 216.2 567.6 211.2 566.7 206.2 564.6 202.2 561.9 198.2 557.7 195.4 553.3 193.4 548.3 192.5 543.3 192.4 538.3 193.2 533.2 194.9 528.3 197.9 523.3 201.6 519.3 205.7 516.3 210.2 514.2 215.2 513.1 220.2 513.1 225.2 514.1 230.2 516.2 234.2 519.1 238.1 523.3 240.6 527.3 242.6 532.3 243.5 537.3 243.5 543.3 242.6 548.3 240.6 553.3 238.1 557.3 234.4 561.3 230.3 564.3 226.2 566.2 221.2 567.4Z"/>
<path fill="#7fd34e" d="M219.2 566.3 214.2 566.0 209.2 564.6 205.2 562.5 201.2 559.3 198.2 555.6 195.8 551.3 194.2 546.3 193.5 541.3 193.8 536.3 195.0 531.3 197.2 526.5 200.2 522.4 204.2 518.8 208.2 516.4 212.2 515.0 217.2 514.3 222.2 514.6 226.2 515.7 231.1 518.3 234.8 521.3 238.0 525.3 240.2 529.3 241.8 534.3 242.5 539.3 242.2 544.3 241.0 549.3 239.2 553.4 236.2 557.7 232.5 561.3 228.2 564.0 224.2 565.5 219.2 566.3Z"/>
<path fill="#89d548" d="M223.2 564.4 219.2 565.0 214.2 564.7 209.2 563.2 205.2 561.0 202.0 558.3 198.8 554.3 196.7 550.3 195.2 545.3 194.7 540.3 195.2 535.3 196.7 530.3 198.8 526.3 202.0 522.3 205.7 519.3 209.4 517.3 214.2 515.9 219.2 515.6 223.2 516.2 227.2 517.6 231.2 519.9 234.2 522.5 237.2 526.3 239.3 530.3 240.8 535.3 241.2 539.3 240.9 544.3 239.7 549.3 237.8 553.3 235.2 557.0 231.7 560.3 227.2 563.0 223.2 564.4Z"/>
<path fill="#93d741" d="M221.2 563.4 217.2 563.7 213.2 563.1 209.2 561.7 205.2 559.3 202.0 556.3 199.1 552.3 197.4 548.3 196.2 543.3 196.1 538.3 196.8 534.3 198.1 530.3 200.4 526.3 203.2 523.0 207.2 519.9 211.2 518.1 215.2 517.1 219.2 517.0 223.2 517.6 227.2 519.1 231.2 521.6 234.2 524.5 236.9 528.3 238.6 532.3 239.8 537.3 239.9 542.3 239.2 546.3 237.9 550.3 235.6 554.3 233.1 557.3 229.2 560.4 225.2 562.4 221.2 563.4Z"/>
<path fill="#9dd93b" d="M223.2 561.6 219.2 562.2 215.2 562.1 211.2 561.0 207.2 559.0 204.2 556.6 201.4 553.3 199.2 549.3 197.9 545.3 197.4 541.3 197.7 536.3 198.8 532.3 200.7 528.3 203.2 525.0 206.2 522.3 210.2 520.0 214.2 518.7 218.2 518.3 222.2 518.8 226.2 520.1 229.2 521.9 232.2 524.4 234.6 527.3 236.8 531.3 238.1 535.3 238.6 539.3 238.4 543.3 237.6 547.3 235.9 551.3 233.2 555.2 230.2 558.0 227.2 560.0 223.2 561.6Z"/>
<path fill="#a8db34" d="M221.2 560.5 217.2 560.8 214.2 560.4 210.2 559.0 207.2 557.2 204.2 554.6 201.8 551.3 199.9 547.3 199.0 543.3 198.8 539.3 199.3 535.3 200.7 531.3 202.4 528.3 205.2 525.0 208.2 522.7 211.2 521.1 215.2 520.0 219.2 519.9 222.2 520.3 226.2 521.8 229.2 523.7 232.0 526.3 234.2 529.3 236.1 533.3 237.0 537.3 237.2 541.3 236.7 545.3 235.3 549.3 233.6 552.3 231.2 555.2 228.2 557.7 225.2 559.3 221.2 560.5Z"/>
<path fill="#b2dd2d" d="M223.2 558.4 220.2 559.0 216.2 559.1 212.6 558.3 209.2 556.7 206.2 554.4 204.2 552.2 202.2 548.9 200.9 545.3 200.3 541.3 200.5 537.3 201.5 533.3 202.9 530.3 205.2 527.2 208.2 524.5 211.2 522.8 214.2 521.8 217.2 521.4 221.2 521.7 224.2 522.6 227.2 524.1 229.9 526.3 232.2 529.0 234.1 532.3 235.1 535.3 235.7 538.3 235.7 542.3 234.8 546.3 233.6 549.3 231.7 552.3 229.2 555.0 226.2 557.1 223.2 558.4Z"/>
<path fill="#bddf26" d="M220.2 557.4 217.2 557.5 214.2 557.0 211.2 555.9 208.2 554.0 206.2 552.1 204.2 549.3 202.8 546.3 201.9 542.3 201.9 538.3 202.5 535.3 203.7 532.3 205.2 529.8 207.4 527.3 210.2 525.2 213.2 523.9 216.2 523.2 219.2 523.1 222.2 523.7 225.2 524.9 228.2 527.0 230.4 529.3 232.2 532.1 233.5 535.3 234.1 538.3 234.1 541.3 233.7 544.3 232.8 547.3 231.2 550.3 229.2 552.7 226.2 555.1 223.2 556.6 220.2 557.4Z"/>
<path fill="#c8e020" d="M220.2 555.5 217.2 555.6 214.2 555.1 211.2 553.9 209.2 552.5 207.2 550.5 205.7 548.3 204.3 545.3 203.7 542.3 203.6 539.3 204.1 536.3 206.3 531.3 208.2 529.0 210.3 527.3 213.2 525.8 216.2 525.1 219.2 525.0 222.2 525.6 224.2 526.4 227.0 528.3 230.3 532.3 231.7 535.3 232.3 538.3 232.4 541.3 231.9 544.3 229.7 549.3 228.1 551.3 225.7 553.3 223.2 554.6 220.2 555.5Z"/>
<path fill="#d2e21b" d="M220.2 553.4 217.2 553.6 215.2 553.3 211.0 551.3 208.8 549.3 207.4 547.3 206.2 544.7 205.6 542.3 205.8 537.3 206.8 534.3 208.0 532.3 211.2 529.1 213.2 528.0 216.2 527.1 219.2 527.0 221.2 527.4 225.2 529.4 227.2 531.3 228.6 533.3 230.4 538.3 230.2 543.3 228.2 548.0 225.1 551.3 223.2 552.4 220.2 553.4Z"/>
<path fill="#dde318" d="M221.2 550.7 217.2 551.2 213.2 550.0 210.1 547.3 208.1 543.3 207.8 539.3 208.9 535.3 211.2 532.1 213.2 530.6 215.2 529.8 219.2 529.4 223.2 530.9 226.2 533.7 227.9 537.3 228.2 541.3 227.1 545.3 225.0 548.3 221.2 550.7Z"/>
<path fill="#e7e419" d="M218.2 548.3 215.2 547.8 213.0 546.3 210.9 543.3 210.3 540.3 210.8 537.3 212.8 534.3 215.2 532.7 218.2 532.1 221.2 532.8 223.3 534.3 225.2 537.3 225.7 540.3 225.1 543.3 223.2 546.2 221.2 547.6 218.2 548.3Z"/>
<path fill="#f1e51d" d="M218.2 545.3 216.2 545.0 214.2 543.6 213.3 542.3 212.8 540.3 213.1 538.3 214.2 536.3 216.2 534.9 218.2 534.6 220.2 535.1 221.8 536.3 222.9 538.3 223.2 540.3 222.7 542.3 221.2 544.2 220.2 544.8 218.2 545.3Z"/>
<path fill="#fbe723" d="M219.2 542.8 217.2 543.0 216.2 542.5 215.2 541.3 214.9 539.3 215.2 538.3 216.2 537.2 217.2 536.7 218.2 536.6 219.9 537.3 221.1 539.3 220.8 541.3 219.2 542.8Z"/>
</g>
</g>
<clipPath id="clipC"><rect x="411.6" y="366.3" width="346.7" height="346.3"/></clipPath>
<g clip-path="url(#clipC)">
<rect x="411.6" y="366.3" width="346.7" height="346.3" fill="#440154"/>
<g filter="url(#bl)">
<path fill="#460a5d" d="M639.6 700.3 628.6 700.5 617.6 699.5 606.6 697.3 595.6 693.7 586.6 689.8 576.6 684.5 549.8 667.3 541.6 662.5 533.6 658.7 525.6 655.8 517.6 653.8 509.6 652.5 482.6 650.4 470.6 648.9 459.6 646.8 448.6 643.6 437.6 639.1 427.6 633.9 418.6 627.9 409.6 620.6 409.6 446.8 421.6 437.2 435.6 428.5 449.6 421.8 466.6 415.6 484.6 410.9 503.6 407.6 522.6 406.0 540.6 406.1 555.6 407.3 570.6 409.6 585.6 412.7 615.7 420.3 629.5 423.3 641.6 425.3 673.6 429.4 682.6 431.1 690.6 433.1 704.6 438.0 716.6 444.3 727.6 452.1 737.6 461.6 744.0 469.3 750.0 478.3 755.3 488.3 759.6 498.8 759.6 594.7 755.1 607.3 751.1 616.3 746.0 626.3 741.2 634.3 735.0 643.3 728.8 651.3 722.5 658.3 715.5 665.3 707.6 672.1 699.6 678.1 691.6 683.3 683.6 687.8 674.6 691.9 665.6 695.2 656.6 697.7 647.6 699.4 639.6 700.3Z"/>
<path fill="#471063" d="M640.6 685.4 630.6 685.6 619.6 684.6 609.6 682.5 598.6 679.0 590.6 675.5 581.6 670.9 555.9 655.3 547.0 650.3 538.4 646.3 529.6 643.2 521.6 641.2 512.6 639.8 484.6 637.7 473.6 636.4 463.6 634.5 453.6 631.7 443.6 627.8 432.6 621.9 423.6 615.7 414.6 607.9 409.6 602.6 409.6 465.3 413.6 461.0 424.6 451.2 430.6 446.9 437.6 442.4 451.6 435.1 467.6 428.9 484.6 424.1 502.6 420.6 521.6 418.6 539.6 418.3 556.6 419.6 572.6 422.0 588.6 425.6 630.0 436.3 668.6 443.2 682.6 446.5 694.6 450.6 705.6 455.8 715.6 462.4 724.6 470.2 730.1 476.3 734.7 482.3 739.2 489.3 742.9 496.3 746.4 504.3 749.1 512.3 751.1 520.3 752.6 528.3 753.7 537.3 754.1 546.3 753.9 555.3 753.1 564.3 751.8 573.3 749.9 582.3 747.3 591.3 744.2 600.3 740.4 609.3 736.4 617.3 731.8 625.3 726.4 633.3 721.1 640.3 715.0 647.3 708.6 653.7 701.6 659.9 694.6 665.2 687.6 669.8 679.6 674.2 671.6 677.9 663.6 680.8 656.6 682.8 648.6 684.4 640.6 685.4Z"/>
<path fill="#481668" d="M645.6 675.3 635.6 676.1 625.6 675.7 615.6 674.1 606.6 671.8 597.6 668.5 588.6 664.3 578.6 658.9 553.6 644.4 545.4 640.3 538.1 637.3 528.6 634.3 518.6 632.3 508.6 631.1 479.6 628.9 469.6 627.3 460.6 625.1 450.6 621.7 440.6 617.0 431.6 611.3 423.6 605.0 415.9 597.3 409.6 589.5 409.6 478.8 416.4 470.3 426.6 460.5 438.6 451.7 451.6 444.4 466.6 438.1 483.6 432.8 501.6 429.0 519.6 426.7 537.6 426.1 555.6 427.2 574.6 430.2 590.6 433.9 629.0 444.3 664.6 451.7 675.6 454.3 686.6 457.9 697.6 462.8 706.6 468.2 714.6 474.4 719.6 479.3 724.6 485.0 729.2 491.3 732.8 497.3 736.3 504.3 739.1 511.3 741.3 518.3 743.3 526.3 744.6 534.3 745.3 542.3 745.5 550.3 745.2 559.3 744.1 568.3 742.7 576.3 740.8 584.3 738.0 593.3 735.0 601.3 731.3 609.3 723.3 623.3 718.4 630.3 712.7 637.3 707.2 643.3 701.6 648.6 695.6 653.7 688.6 658.8 681.6 663.1 674.6 666.7 667.6 669.7 660.6 672.1 653.6 674.0 645.6 675.3Z"/>
<path fill="#481b6d" d="M643.6 668.4 634.6 668.9 625.6 668.4 616.6 667.0 607.6 664.6 599.6 661.7 590.6 657.7 555.5 638.3 547.1 634.3 539.6 631.3 530.1 628.3 519.6 626.1 509.6 624.9 481.6 622.7 471.6 621.2 463.6 619.3 453.6 616.0 444.6 611.8 436.6 607.0 428.6 600.9 423.6 596.2 418.2 590.3 413.7 584.3 409.6 577.7 409.6 490.7 414.3 483.3 419.7 476.3 424.4 471.3 429.6 466.4 440.6 458.0 453.6 450.6 467.6 444.5 484.6 439.1 502.6 435.1 520.6 432.8 538.6 432.1 557.6 433.3 567.6 434.7 577.6 436.6 593.6 440.6 628.6 450.4 670.6 460.3 681.6 463.8 691.6 468.1 700.6 473.2 708.7 479.3 713.6 483.9 718.5 489.3 722.3 494.3 726.1 500.3 729.3 506.3 732.3 513.3 735.0 521.3 736.7 528.3 737.9 535.3 738.7 543.3 739.0 551.3 738.7 559.3 737.8 567.3 736.5 575.3 734.5 583.3 732.1 591.3 729.0 599.3 725.8 606.3 722.1 613.3 717.7 620.3 712.7 627.3 707.8 633.3 702.6 638.8 696.7 644.3 690.6 649.2 684.6 653.4 678.6 657.0 671.6 660.6 664.6 663.5 657.6 665.7 650.6 667.3 643.6 668.4Z"/>
<path fill="#482071" d="M644.6 662.4 635.6 663.0 626.6 662.6 617.6 661.2 608.6 658.9 600.6 656.0 592.6 652.5 556.8 633.3 548.2 629.3 539.6 625.9 529.6 623.0 519.6 621.0 509.6 619.8 482.6 617.6 474.6 616.4 466.6 614.6 457.6 611.8 448.6 607.9 440.6 603.3 433.6 598.2 426.2 591.3 419.5 583.3 414.3 575.3 409.6 565.7 409.6 502.9 412.1 497.3 415.4 491.3 422.5 481.3 431.6 471.8 442.6 463.1 454.6 456.0 468.6 449.7 485.6 444.2 503.6 440.1 521.6 437.7 538.6 437.0 548.6 437.3 558.6 438.2 568.6 439.6 578.6 441.6 594.6 445.7 631.4 456.3 665.6 464.8 677.6 468.6 686.6 472.4 695.6 477.3 703.6 483.1 708.6 487.6 713.0 492.3 717.0 497.3 720.9 503.3 724.2 509.3 726.8 515.3 729.3 522.3 731.1 529.3 733.2 543.3 733.6 550.3 733.4 558.3 731.5 573.3 729.9 580.3 727.6 588.3 722.0 602.3 718.4 609.3 714.1 616.3 705.1 628.3 699.6 634.3 694.6 639.0 688.6 643.9 682.6 648.2 670.6 654.8 663.6 657.7 657.6 659.7 651.6 661.2 644.6 662.4Z"/>
<path fill="#482576" d="M643.6 657.4 635.6 657.9 626.6 657.5 617.6 656.1 609.6 654.0 601.6 651.2 593.6 647.8 558.4 629.3 548.6 624.8 539.6 621.4 529.6 618.5 519.6 616.5 509.6 615.3 483.6 613.1 468.6 610.4 460.6 608.0 452.6 604.7 444.6 600.4 437.6 595.5 432.6 591.2 427.8 586.3 423.6 581.1 419.6 575.3 416.3 569.3 413.6 563.3 411.2 556.3 409.6 550.0 409.6 518.6 410.1 516.3 412.5 508.3 415.8 500.3 420.3 492.3 425.3 485.3 429.6 480.3 434.6 475.3 444.6 467.3 456.6 460.1 470.6 453.8 486.6 448.5 504.6 444.4 522.6 441.9 539.6 441.2 549.6 441.5 558.6 442.3 568.6 443.7 578.6 445.7 594.6 449.8 629.9 460.3 661.6 468.6 672.6 472.1 682.6 476.2 691.6 481.0 699.1 486.3 703.8 490.3 708.6 495.2 712.6 500.2 716.1 505.3 721.8 516.3 724.1 522.3 726.1 529.3 727.6 536.3 728.5 543.3 728.8 557.3 728.1 565.3 727.1 572.3 723.5 586.3 718.0 600.3 711.4 612.3 707.3 618.3 702.6 624.2 692.6 634.6 681.6 643.2 675.6 646.9 669.6 650.0 663.6 652.5 656.6 654.8 649.6 656.5 643.6 657.4Z"/>
<path fill="#472a7a" d="M638.6 653.3 630.6 653.3 621.6 652.3 613.6 650.6 604.6 647.8 590.6 641.8 554.6 623.4 544.9 619.3 536.6 616.5 527.6 614.1 518.6 612.5 484.6 609.2 470.6 606.7 462.6 604.3 454.6 601.1 446.6 596.7 440.3 592.3 434.6 587.4 429.8 582.3 425.2 576.3 421.5 570.3 418.5 564.3 415.8 557.3 413.9 550.3 412.7 543.3 412.1 536.3 412.4 528.3 413.3 521.3 414.9 514.3 417.3 507.3 420.5 500.3 423.9 494.3 428.2 488.3 436.6 479.1 446.6 470.9 458.6 463.6 472.6 457.4 488.6 452.1 506.6 448.0 523.6 445.6 540.6 444.9 553.6 445.4 566.6 447.0 580.6 449.8 594.6 453.5 626.9 463.3 659.6 472.4 669.6 475.7 676.6 478.4 683.6 481.7 689.6 485.2 695.6 489.4 700.1 493.3 704.6 497.8 708.4 502.3 711.9 507.3 714.9 512.3 717.8 518.3 720.1 524.3 722.1 531.3 723.6 538.3 724.4 545.3 724.7 552.3 724.6 559.3 722.8 573.3 719.0 587.3 716.3 594.3 713.0 601.3 705.9 613.3 697.2 624.3 692.3 629.3 686.6 634.3 675.6 642.0 669.6 645.2 663.6 647.9 651.6 651.6 645.6 652.7 638.6 653.3Z"/>
<path fill="#472f7d" d="M638.6 649.3 630.6 649.3 622.6 648.5 614.6 646.8 605.6 644.1 590.6 637.7 556.0 620.3 546.4 616.3 537.6 613.2 528.6 610.8 519.6 609.1 485.6 605.7 471.6 603.1 463.6 600.7 456.6 597.9 449.6 594.1 443.6 590.1 437.9 585.3 433.1 580.3 429.1 575.3 425.2 569.3 422.1 563.3 419.4 556.3 417.7 550.3 416.5 543.3 415.9 536.3 416.1 529.3 417.0 522.3 418.3 516.3 420.6 509.3 423.2 503.3 426.5 497.3 430.6 491.3 438.7 482.3 448.6 474.1 460.6 466.8 473.6 460.9 489.6 455.5 507.6 451.4 524.6 449.0 541.6 448.2 554.6 448.8 567.6 450.4 580.6 453.0 594.6 456.8 666.6 478.7 673.6 481.5 680.6 484.8 686.6 488.2 692.4 492.3 697.2 496.3 701.6 500.7 705.4 505.3 708.9 510.3 711.8 515.3 714.7 521.3 716.9 527.3 718.6 533.3 719.8 539.3 720.7 546.3 720.8 559.3 720.2 566.3 719.0 573.3 715.5 586.3 710.0 599.3 702.9 611.3 694.6 621.6 689.6 626.7 684.6 631.1 679.6 634.8 673.6 638.7 662.6 644.0 656.6 646.1 650.6 647.7 638.6 649.3Z"/>
<path fill="#463480" d="M642.6 645.3 635.6 645.7 627.6 645.4 619.6 644.3 611.6 642.3 604.6 640.0 596.6 636.8 559.0 618.3 549.6 614.3 540.6 611.0 530.6 608.1 520.6 606.0 510.6 604.7 486.6 602.4 473.6 600.1 466.6 598.1 459.6 595.4 453.4 592.3 447.1 588.3 441.6 583.9 436.9 579.3 432.7 574.3 429.3 569.3 426.0 563.3 423.5 557.3 421.6 551.3 420.3 545.3 419.5 538.3 419.5 532.3 420.1 525.3 421.2 519.3 422.9 513.3 425.2 507.3 428.2 501.3 432.1 495.3 439.6 486.3 444.6 481.6 449.6 477.7 460.6 470.7 473.6 464.5 489.6 459.0 506.6 454.8 523.6 452.2 540.6 451.2 553.6 451.7 565.6 453.1 578.6 455.5 591.6 458.9 662.6 481.0 676.6 486.9 687.6 493.5 692.5 497.3 696.8 501.3 700.6 505.4 704.3 510.3 710.1 520.3 714.3 531.3 716.8 543.3 717.5 556.3 716.3 569.3 713.6 581.3 709.2 593.3 702.8 605.3 694.8 616.3 686.1 625.3 676.6 632.7 665.6 638.9 654.6 642.9 648.6 644.4 642.6 645.3Z"/>
<path fill="#443983" d="M636.6 642.3 629.6 642.2 621.6 641.2 613.6 639.5 605.6 637.0 591.6 631.2 557.0 614.3 547.2 610.3 537.6 607.0 528.6 604.6 519.6 602.9 487.6 599.3 474.6 597.0 467.6 595.0 460.6 592.2 454.6 589.2 448.6 585.3 443.6 581.2 438.7 576.3 434.7 571.3 431.6 566.7 428.7 561.3 426.3 555.3 424.5 549.3 423.4 543.3 422.8 537.3 422.9 530.3 423.6 524.3 424.8 518.3 426.8 512.3 428.9 507.3 432.1 501.3 435.4 496.3 443.3 487.3 452.6 479.5 463.6 472.7 476.6 466.7 492.6 461.3 509.6 457.3 526.6 454.8 542.6 454.1 555.6 454.6 567.6 456.1 580.6 458.8 594.6 462.6 661.6 484.1 674.6 489.7 685.6 496.4 690.5 500.3 694.6 504.1 698.6 508.6 702.1 513.3 707.6 523.3 711.6 534.3 713.8 546.3 714.2 552.3 714.2 559.3 712.5 572.3 709.3 584.3 704.3 596.3 697.7 607.3 689.7 617.3 680.6 625.7 670.6 632.5 659.6 637.7 648.6 640.9 642.6 641.9 636.6 642.3Z"/>
<path fill="#433e85" d="M644.6 638.4 636.6 639.1 628.6 638.9 620.6 637.9 612.6 636.0 604.6 633.4 596.6 630.2 558.9 612.3 549.4 608.3 540.6 605.2 530.6 602.3 520.6 600.2 488.6 596.5 476.6 594.3 469.6 592.4 463.6 590.1 457.7 587.3 452.7 584.3 447.6 580.5 443.6 576.9 439.6 572.5 436.4 568.3 433.3 563.3 430.6 557.7 428.6 552.3 427.1 546.3 426.2 540.3 425.9 534.3 426.2 528.3 427.2 522.3 428.7 516.3 430.6 511.3 433.4 505.3 436.5 500.3 443.7 491.3 452.6 483.3 463.3 476.3 475.6 470.3 490.6 464.9 507.6 460.6 524.6 457.8 540.6 456.7 552.6 457.0 564.6 458.3 577.6 460.7 590.6 464.0 657.6 485.9 670.6 491.3 680.6 497.0 689.6 504.0 696.6 511.5 702.5 520.3 707.0 530.3 709.9 541.3 711.1 552.3 710.7 564.3 708.6 576.3 704.7 588.3 699.3 599.3 692.6 609.3 684.6 618.2 675.6 625.7 665.6 631.7 655.6 635.8 644.6 638.4Z"/>
<path fill="#414287" d="M644.6 635.3 636.6 636.1 628.6 635.9 620.6 634.9 612.6 633.0 597.6 627.7 558.6 609.4 548.6 605.3 539.9 602.3 529.6 599.4 519.6 597.4 489.6 593.7 477.6 591.6 471.6 589.9 465.6 587.7 455.6 582.6 451.0 579.3 446.6 575.5 442.6 571.3 439.4 567.3 436.3 562.3 433.7 557.3 431.8 552.3 430.2 546.3 429.4 541.3 429.0 535.3 429.2 529.3 429.9 524.3 431.3 518.3 433.0 513.3 435.3 508.3 438.1 503.3 445.0 494.3 453.6 486.3 458.6 482.6 464.6 478.9 476.6 473.0 491.6 467.5 508.6 463.1 524.6 460.4 540.6 459.3 552.6 459.5 564.6 460.7 576.6 462.9 590.6 466.4 604.6 470.8 654.6 487.7 667.6 493.2 677.6 498.7 686.4 505.3 693.6 512.8 699.4 521.3 704.0 531.3 706.8 541.3 708.2 552.3 707.9 563.3 705.9 575.3 702.4 586.3 697.2 597.3 690.6 607.2 683.4 615.3 674.6 622.8 665.6 628.4 655.6 632.6 644.6 635.3Z"/>
<path fill="#3f4788" d="M644.6 632.4 636.6 633.2 628.6 633.1 620.6 632.0 612.6 630.2 597.6 624.9 559.5 607.3 540.6 600.0 530.6 597.1 520.6 595.0 489.6 591.0 478.6 588.9 467.6 585.5 457.6 580.4 452.6 576.9 448.6 573.4 444.7 569.3 441.6 565.3 436.5 556.3 434.6 551.3 433.2 546.3 431.9 536.3 432.1 530.3 432.7 525.3 435.4 515.3 437.6 510.3 440.3 505.3 443.6 500.5 447.1 496.3 455.6 488.3 465.6 481.5 477.6 475.5 492.6 470.0 509.6 465.5 525.6 462.8 541.6 461.6 553.6 461.9 565.6 463.2 577.6 465.4 590.6 468.8 606.6 473.9 652.6 489.8 664.6 494.8 674.6 500.2 683.6 506.9 690.6 513.9 696.5 522.3 700.9 531.3 703.9 541.3 705.3 551.3 705.2 562.3 703.6 573.3 700.3 584.3 695.8 594.3 689.6 604.0 682.6 612.3 673.6 620.1 664.6 625.7 654.6 629.9 644.6 632.4Z"/>
<path fill="#3e4c8a" d="M638.6 630.3 632.6 630.5 625.6 630.1 618.6 628.9 611.6 627.2 596.6 621.8 558.6 604.5 539.6 597.3 529.6 594.5 519.6 592.4 490.6 588.5 480.6 586.6 469.6 583.3 464.6 581.1 459.6 578.3 451.6 572.3 447.7 568.3 444.5 564.3 441.6 559.9 439.3 555.3 436.2 546.3 435.3 541.3 434.8 536.3 435.0 530.3 435.6 525.3 436.8 520.3 438.5 515.3 443.0 506.3 449.6 497.7 457.6 490.2 467.6 483.5 479.6 477.5 494.6 472.0 510.6 467.8 526.6 465.1 542.6 463.9 553.6 464.1 565.6 465.4 577.6 467.6 590.6 471.0 608.6 476.9 650.6 491.8 662.6 496.8 672.7 502.3 681.6 508.9 688.6 516.0 694.4 524.3 698.6 533.3 701.5 543.3 702.7 554.3 702.3 565.3 700.2 576.3 696.3 587.3 691.0 597.3 684.5 606.3 676.6 614.3 667.6 620.9 658.6 625.5 648.6 628.8 638.6 630.3Z"/>
<path fill="#3c508b" d="M641.6 627.4 634.6 627.9 626.6 627.6 619.6 626.5 611.6 624.6 597.6 619.7 559.0 602.3 540.5 595.3 530.6 592.4 520.6 590.2 491.6 586.0 481.6 584.2 470.6 580.7 461.6 576.2 453.6 570.3 447.3 563.3 442.4 555.3 439.1 546.3 437.7 537.3 437.7 532.3 438.2 527.3 439.2 522.3 440.7 517.3 445.1 508.3 447.7 504.3 451.6 499.6 459.3 492.3 468.6 485.9 480.6 479.8 495.6 474.3 511.6 470.0 527.6 467.2 542.6 466.1 554.6 466.4 565.6 467.5 577.6 469.7 589.6 472.9 607.6 478.7 646.6 492.8 659.6 498.2 669.6 503.5 677.8 509.3 685.2 516.3 691.1 524.3 695.6 533.1 698.5 542.3 700.0 552.3 700.0 562.3 698.3 573.3 695.2 583.3 690.5 593.3 684.6 602.1 677.6 609.9 669.6 616.4 660.6 621.7 651.6 625.2 641.6 627.4Z"/>
<path fill="#3a548c" d="M634.6 625.3 627.6 625.1 620.6 624.2 613.6 622.7 605.6 620.3 591.6 614.7 556.6 599.1 546.6 595.2 536.6 591.8 527.6 589.4 518.6 587.5 492.6 583.7 482.6 581.7 471.6 578.3 462.6 573.6 455.6 568.3 449.3 561.3 444.6 553.3 441.5 544.3 440.5 535.3 441.2 526.3 443.7 517.3 447.7 509.3 453.7 501.3 457.6 497.3 462.3 493.3 471.6 487.1 483.6 481.2 498.6 475.8 514.6 471.7 529.6 469.2 544.6 468.2 556.6 468.6 567.6 469.9 578.6 472.0 591.6 475.5 609.6 481.6 645.6 494.8 658.6 500.4 668.6 505.9 677.3 512.3 684.2 519.3 689.8 527.3 694.0 536.3 696.7 546.3 697.6 556.3 697.1 566.3 695.0 576.3 691.3 586.3 686.4 595.3 679.6 604.2 672.2 611.3 663.6 617.3 654.6 621.5 644.6 624.3 634.6 625.3Z"/>
<path fill="#38598c" d="M640.6 622.4 633.6 622.9 626.6 622.6 619.6 621.6 611.6 619.7 596.6 614.5 559.6 598.2 539.6 590.6 530.6 588.0 520.6 585.6 492.6 581.2 483.6 579.4 473.8 576.3 465.6 572.3 458.6 567.3 455.4 564.3 452.0 560.3 447.7 553.3 444.7 545.3 443.4 537.3 443.7 528.3 445.9 519.3 449.7 511.3 455.5 503.3 462.7 496.3 472.6 489.5 483.6 483.9 497.6 478.6 513.6 474.2 528.6 471.5 543.6 470.3 554.6 470.5 565.6 471.6 577.6 473.8 589.6 476.9 607.6 482.9 640.6 495.2 653.6 500.7 663.6 505.8 672.0 511.3 678.9 517.3 684.8 524.3 689.6 532.6 692.9 541.3 694.7 550.3 695.1 560.3 693.9 570.3 691.1 580.3 687.1 589.3 681.6 598.0 675.2 605.3 667.6 611.7 659.6 616.6 650.6 620.2 640.6 622.4Z"/>
<path fill="#365d8d" d="M636.6 620.3 630.6 620.4 623.6 619.9 616.6 618.7 609.6 616.8 595.6 611.8 558.6 595.7 539.6 588.5 529.6 585.6 520.6 583.4 493.6 578.9 484.6 577.0 475.6 574.2 467.6 570.4 460.6 565.4 454.8 559.3 450.3 552.3 447.3 544.3 446.1 536.3 446.5 528.3 448.5 520.3 452.2 512.3 458.1 504.3 465.6 497.3 474.6 491.2 485.6 485.6 499.6 480.4 515.6 476.0 530.6 473.3 544.6 472.3 555.6 472.5 566.6 473.6 577.6 475.7 589.6 478.9 607.6 484.9 638.6 496.7 652.6 502.7 662.6 507.9 671.6 514.1 678.2 520.3 683.7 527.3 688.1 535.3 691.1 544.3 692.5 553.3 692.6 562.3 691.0 572.3 687.8 582.3 683.3 591.3 677.5 599.3 670.6 606.3 662.6 612.1 654.6 616.2 645.6 619.0 636.6 620.3Z"/>
<path fill="#34618d" d="M641.6 617.4 634.6 618.1 626.6 617.9 618.6 616.8 610.6 614.9 595.6 609.6 557.8 593.3 538.6 586.1 520.6 581.3 486.6 575.0 477.8 572.3 470.6 569.0 463.6 564.3 458.4 559.3 453.6 552.5 450.6 545.3 449.0 537.3 449.2 529.3 451.1 521.3 454.2 514.3 456.7 510.3 459.9 506.3 467.2 499.3 475.8 493.3 486.6 487.8 500.6 482.4 515.6 478.2 530.6 475.4 544.6 474.2 555.6 474.4 566.6 475.5 577.6 477.6 588.6 480.5 604.6 485.8 630.6 495.7 646.6 502.3 657.6 507.7 666.6 513.3 673.6 519.1 679.2 525.3 683.8 532.3 687.3 540.3 689.6 549.3 690.3 558.3 689.6 567.3 687.5 576.3 683.9 585.3 679.2 593.3 673.5 600.3 666.6 606.5 658.6 611.7 650.6 615.1 641.6 617.4Z"/>
<path fill="#32658e" d="M638.6 615.4 631.6 615.8 624.6 615.4 617.6 614.3 609.6 612.4 595.6 607.5 557.6 591.2 538.6 584.1 520.6 579.1 487.6 572.7 479.6 570.2 472.6 567.0 465.6 562.4 460.4 557.3 456.2 551.3 453.3 544.3 451.9 537.3 452.1 529.3 453.7 522.3 456.8 515.3 459.3 511.3 462.5 507.3 469.6 500.6 478.6 494.5 488.9 489.3 502.6 484.1 517.6 479.9 531.6 477.3 545.6 476.1 555.6 476.3 566.6 477.4 577.6 479.4 588.6 482.3 604.6 487.7 627.6 496.6 644.6 503.7 655.6 509.1 664.0 514.3 671.4 520.3 676.9 526.3 681.6 533.4 685.1 541.3 687.1 549.3 687.9 558.3 687.2 567.3 685.1 576.3 681.3 585.3 676.3 593.3 670.6 599.9 663.6 605.8 655.6 610.5 647.6 613.6 638.6 615.4Z"/>
<path fill="#30698e" d="M636.6 613.3 630.6 613.6 623.6 613.1 616.6 612.0 608.6 609.9 594.6 605.0 557.6 589.3 538.6 582.1 520.6 577.0 488.6 570.4 480.6 567.8 474.6 565.1 467.6 560.4 462.6 555.5 458.6 549.6 456.0 543.3 454.8 536.3 455.0 529.3 456.7 522.3 459.4 516.3 464.6 509.0 471.6 502.3 480.4 496.3 490.6 491.1 503.6 486.1 518.6 481.8 532.6 479.2 545.6 478.0 555.6 478.1 566.6 479.2 577.6 481.2 588.6 484.2 603.6 489.2 623.6 497.0 641.6 504.6 653.3 510.3 661.6 515.4 669.0 521.3 674.6 527.3 679.3 534.3 682.9 542.3 684.9 550.3 685.6 558.3 684.9 567.3 682.7 576.3 679.3 584.3 674.6 591.8 668.6 598.7 661.6 604.4 653.6 608.9 645.6 611.7 636.6 613.3Z"/>
<path fill="#2e6d8e" d="M631.6 611.3 625.6 611.1 619.6 610.4 606.6 607.2 593.6 602.5 556.6 587.0 538.6 580.2 520.6 574.9 489.6 568.1 481.6 565.4 475.6 562.5 469.5 558.3 464.6 553.3 461.3 548.3 458.9 542.3 457.8 536.3 458.0 529.3 459.4 523.3 462.1 517.3 467.1 510.3 473.6 504.0 481.9 498.3 492.6 492.8 505.6 487.7 519.6 483.7 533.6 481.0 546.6 479.9 556.6 480.0 566.6 481.0 577.6 483.0 588.6 486.0 602.6 490.7 622.6 498.6 639.6 505.8 651.6 511.8 660.4 517.3 667.6 523.2 673.1 529.3 677.7 536.3 681.0 544.3 682.8 552.3 683.2 560.3 682.2 569.3 679.5 578.3 675.6 586.2 670.5 593.3 664.5 599.3 657.6 604.2 649.6 608.0 640.6 610.5 631.6 611.3Z"/>
<path fill="#2d718e" d="M639.6 608.3 632.6 609.1 624.6 608.8 616.6 607.7 607.6 605.4 592.6 600.1 555.6 584.7 537.6 577.9 520.6 572.8 491.6 566.0 485.6 564.1 479.6 561.5 473.6 557.8 468.6 553.4 464.8 548.3 462.4 543.3 461.0 537.3 460.9 531.3 462.0 525.3 464.4 519.3 469.0 512.3 475.6 505.8 483.6 500.2 493.6 494.9 506.6 489.7 519.6 485.8 532.6 483.1 545.6 481.8 555.6 481.7 565.6 482.6 575.6 484.3 585.6 486.8 597.6 490.7 611.6 496.0 631.5 504.3 644.6 510.4 653.6 515.4 661.6 521.0 667.5 526.3 672.4 532.3 676.5 539.3 679.1 546.3 680.5 553.3 680.8 561.3 679.6 570.3 677.0 578.3 673.4 585.3 668.3 592.3 662.6 597.9 655.6 602.7 647.6 606.3 639.6 608.3Z"/>
<path fill="#2b748e" d="M637.6 606.4 630.6 606.9 622.6 606.5 614.6 605.2 606.6 603.1 591.6 597.8 554.6 582.4 537.6 575.9 521.6 570.9 493.6 564.0 487.6 562.0 481.6 559.4 476.5 556.3 471.6 552.0 467.9 547.3 465.5 542.3 464.3 537.3 464.1 531.3 465.2 525.3 467.2 520.3 471.9 513.3 478.0 507.3 485.6 501.9 495.6 496.6 507.6 491.7 520.6 487.6 533.6 484.9 545.6 483.6 555.6 483.5 565.6 484.4 575.6 486.1 585.6 488.6 596.6 492.1 610.6 497.5 628.6 505.1 642.0 511.3 651.1 516.3 658.4 521.3 664.6 526.7 669.6 532.4 673.8 539.3 676.6 546.3 678.1 553.3 678.5 561.3 677.4 569.3 674.9 577.3 671.4 584.3 666.1 591.3 660.6 596.5 653.3 601.3 645.6 604.5 637.6 606.4Z"/>
<path fill="#2a788e" d="M635.6 604.4 628.6 604.7 621.6 604.3 613.6 602.9 604.6 600.4 589.6 595.0 553.6 580.1 537.6 574.0 521.6 568.8 495.6 561.9 484.6 557.7 479.6 554.7 475.4 551.3 471.9 547.3 469.1 542.3 467.7 537.3 467.4 532.3 468.3 526.3 470.3 521.3 474.6 514.7 480.6 508.7 488.2 503.3 497.6 498.3 509.6 493.3 522.6 489.2 534.6 486.7 546.6 485.4 555.6 485.3 565.6 486.1 575.6 487.8 585.6 490.3 596.6 493.9 609.6 498.9 626.9 506.3 639.6 512.3 648.7 517.3 656.2 522.3 662.0 527.3 667.3 533.3 671.2 539.3 674.1 546.3 675.7 553.3 676.1 561.3 675.0 569.3 672.6 576.8 668.6 584.3 663.9 590.3 658.4 595.3 651.6 599.6 643.6 602.8 635.6 604.4Z"/>
<path fill="#287c8e" d="M633.6 602.3 626.6 602.5 619.6 601.9 611.6 600.3 602.6 597.8 587.6 592.3 551.6 577.4 536.6 571.6 522.6 567.0 497.6 559.8 487.6 555.9 482.6 553.0 478.1 549.3 474.7 545.3 472.6 541.3 471.3 537.3 470.9 532.3 471.6 527.3 473.5 522.3 477.3 516.3 483.2 510.3 490.6 504.9 499.6 500.0 511.6 494.9 523.6 491.1 535.6 488.5 546.6 487.2 555.6 487.1 565.6 487.9 574.6 489.3 584.6 491.8 594.6 495.0 606.6 499.5 622.5 506.3 635.6 512.4 644.7 517.3 652.6 522.3 658.7 527.3 664.4 533.3 668.5 539.3 671.6 546.3 673.3 553.3 673.8 560.3 672.8 568.3 670.3 576.3 666.5 583.3 661.6 589.3 655.6 594.4 648.9 598.3 641.6 600.9 633.6 602.3Z"/>
<path fill="#27808e" d="M630.6 600.3 623.6 600.2 616.6 599.3 608.6 597.6 600.6 595.2 584.6 589.2 536.6 569.7 522.6 564.8 499.6 557.6 489.6 553.5 484.6 550.4 481.0 547.3 478.5 544.3 476.2 540.3 475.0 536.3 474.7 531.3 475.6 526.6 477.3 522.3 481.4 516.3 487.6 510.4 495.1 505.3 504.6 500.3 515.6 495.8 527.1 492.3 537.6 490.1 548.6 489.0 557.6 488.9 566.6 489.7 575.6 491.3 585.6 493.8 595.6 497.1 607.6 501.7 622.6 508.3 634.6 514.0 644.1 519.3 651.6 524.3 657.6 529.3 662.6 534.8 666.6 540.9 669.4 547.3 671.0 554.3 671.3 561.3 670.1 569.3 667.7 576.3 663.6 583.2 658.6 588.9 652.6 593.6 645.6 597.2 638.6 599.3 630.6 600.3Z"/>
<path fill="#25838e" d="M636.6 597.4 628.6 598.2 620.6 597.8 611.6 596.3 601.6 593.5 583.6 587.0 535.6 567.3 504.0 556.3 494.6 552.5 489.6 549.7 485.6 546.6 482.6 543.3 480.6 540.1 479.2 536.3 478.8 532.3 479.4 527.3 481.0 523.3 485.0 517.3 490.1 512.3 497.1 507.3 505.6 502.6 515.6 498.2 526.6 494.6 536.6 492.3 546.6 490.9 554.6 490.7 563.6 491.1 572.6 492.4 581.6 494.4 590.6 497.1 600.6 500.7 624.8 511.3 634.8 516.3 643.6 521.3 650.7 526.3 656.4 531.3 660.8 536.3 664.6 542.3 667.1 548.3 668.5 554.3 668.8 562.3 667.6 569.3 665.0 576.3 661.3 582.3 656.6 587.5 650.6 592.0 643.6 595.4 636.6 597.4Z"/>
<path fill="#24878e" d="M634.6 595.4 626.6 596.0 618.6 595.4 609.6 593.7 599.6 590.9 582.6 584.7 536.6 565.6 506.4 554.3 499.4 551.3 494.6 548.7 490.6 545.9 487.6 543.0 485.0 539.3 483.8 536.3 483.2 532.3 483.5 528.3 484.9 524.3 488.0 519.3 492.7 514.3 499.2 509.3 507.9 504.3 516.6 500.3 526.6 496.8 536.4 494.3 545.6 492.9 553.6 492.5 562.6 492.8 570.6 493.8 579.6 495.6 588.6 498.2 597.6 501.4 620.6 511.3 631.6 516.8 640.6 521.9 647.2 526.3 653.2 531.3 657.8 536.3 661.8 542.3 664.5 548.3 666.0 554.3 666.3 561.3 665.3 568.3 662.7 575.3 658.9 581.3 654.3 586.3 648.6 590.4 641.6 593.6 634.6 595.4Z"/>
<path fill="#228b8d" d="M632.6 593.3 624.6 593.7 616.6 593.0 607.6 591.2 596.6 588.0 573.6 579.2 504.5 550.3 499.0 547.3 494.8 544.3 491.7 541.3 489.7 538.3 488.5 535.3 487.9 531.3 488.2 528.3 489.6 524.3 492.8 519.3 497.8 514.3 504.6 509.3 511.6 505.3 520.4 501.3 529.6 498.1 538.6 495.9 547.6 494.6 555.6 494.3 563.6 494.6 571.6 495.7 579.6 497.4 588.6 499.9 597.6 503.1 619.6 512.8 630.4 518.3 638.6 523.0 644.9 527.3 650.9 532.3 655.5 537.3 659.0 542.3 661.8 548.3 663.4 554.3 663.7 561.3 662.6 568.3 660.3 574.3 656.6 580.2 651.6 585.3 646.6 588.7 639.6 591.7 632.6 593.3Z"/>
<path fill="#218f8d" d="M629.6 591.3 621.6 591.4 613.6 590.4 603.6 588.1 592.6 584.6 563.9 573.3 510.6 549.8 501.2 544.3 497.7 541.3 495.3 538.3 493.8 535.3 493.0 531.3 493.2 528.3 494.6 524.3 497.6 519.7 501.8 515.3 508.5 510.3 515.6 506.2 524.3 502.3 532.6 499.5 541.6 497.4 549.6 496.4 556.6 496.1 564.6 496.5 572.6 497.6 580.6 499.4 589.6 502.1 598.5 505.3 619.6 514.8 630.1 520.3 637.6 524.8 643.9 529.3 649.6 534.2 654.0 539.3 657.2 544.3 659.4 549.3 660.8 555.3 661.0 562.3 659.8 568.3 657.3 574.3 653.6 579.7 648.6 584.3 643.6 587.4 636.6 590.1 629.6 591.3Z"/>
<path fill="#20928c" d="M632.6 588.4 624.6 589.2 616.6 588.7 606.6 586.8 595.6 583.7 581.6 578.7 565.9 572.3 524.0 553.3 516.0 549.3 509.1 545.3 505.0 542.3 502.0 539.3 499.9 536.3 498.5 532.3 498.5 528.3 499.8 524.3 503.1 519.3 507.2 515.3 512.5 511.3 519.3 507.3 526.6 504.0 534.2 501.3 541.6 499.5 549.6 498.3 556.6 498.0 563.6 498.2 570.6 499.1 578.6 500.6 586.6 502.9 594.6 505.6 613.6 513.9 624.2 519.3 632.6 524.1 639.0 528.3 644.6 532.8 649.2 537.3 653.1 542.3 655.8 547.3 657.5 552.3 658.4 558.3 658.0 564.3 656.2 570.3 653.5 575.3 649.6 580.0 644.6 583.9 638.6 586.8 632.6 588.4Z"/>
<path fill="#1f968b" d="M629.6 586.4 621.6 586.8 613.6 586.1 604.6 584.3 593.6 581.0 579.6 576.0 563.6 569.4 545.8 561.3 529.5 553.3 515.3 545.3 510.1 541.3 507.2 538.3 505.2 535.3 504.0 531.3 504.2 527.3 505.7 523.3 508.5 519.3 512.6 515.3 518.0 511.3 525.2 507.3 532.4 504.3 538.9 502.3 546.6 500.7 553.6 500.0 560.6 499.9 567.6 500.5 574.6 501.6 581.9 503.3 597.6 508.7 616.4 517.3 632.6 526.6 639.3 531.3 643.9 535.3 647.7 539.3 651.2 544.3 653.6 549.3 655.1 554.3 655.5 560.3 654.8 565.3 653.1 570.3 650.0 575.3 646.1 579.3 641.6 582.5 635.6 585.0 629.6 586.4Z"/>
<path fill="#1f9a8a" d="M625.6 584.3 618.6 584.3 610.6 583.4 601.6 581.4 590.6 578.0 577.6 573.2 563.6 567.4 550.3 561.3 536.4 554.3 521.1 545.3 516.0 541.3 513.1 538.3 511.0 535.3 509.6 531.3 509.7 527.3 511.1 523.3 513.9 519.3 518.0 515.3 523.7 511.3 529.3 508.3 535.6 505.7 542.6 503.7 549.6 502.4 556.6 501.9 562.6 501.9 569.6 502.6 576.6 503.8 583.6 505.6 599.4 511.3 616.6 519.5 631.6 528.4 637.6 532.9 642.4 537.3 645.9 541.3 649.2 546.3 651.0 550.3 652.2 555.3 652.4 561.3 651.4 566.3 649.1 571.3 646.1 575.3 642.6 578.4 637.6 581.3 631.6 583.4 625.6 584.3Z"/>
<path fill="#1f9e89" d="M627.6 581.4 620.6 582.0 613.6 581.5 604.6 579.9 594.8 577.3 583.0 573.3 570.3 568.3 556.9 562.3 544.9 556.3 535.8 551.3 527.9 546.3 522.7 542.3 518.7 538.3 516.1 534.3 515.1 531.3 515.1 527.3 516.5 523.3 519.2 519.3 522.3 516.3 526.2 513.3 531.6 510.2 537.6 507.6 543.6 505.8 549.6 504.6 556.6 503.9 562.6 503.9 569.6 504.5 582.6 507.2 596.6 512.1 612.6 519.5 627.6 528.3 633.2 532.3 637.9 536.3 641.7 540.3 644.7 544.3 647.0 548.3 648.7 553.3 649.4 558.3 649.0 562.3 647.6 567.3 645.3 571.3 641.6 575.3 637.6 578.0 632.6 580.2 627.6 581.4Z"/>
<path fill="#1fa187" d="M620.6 579.3 613.6 579.1 605.6 577.9 596.6 575.7 586.6 572.5 575.3 568.3 563.6 563.3 553.2 558.3 542.2 552.3 530.2 544.3 525.7 540.3 522.5 536.3 521.0 533.3 520.2 529.3 520.9 525.3 522.3 522.3 524.6 519.3 528.6 515.6 532.6 513.0 538.0 510.3 543.6 508.3 549.6 506.9 555.6 506.1 561.6 505.9 567.6 506.2 574.6 507.2 587.6 510.6 601.6 516.1 616.6 523.9 629.5 532.3 634.3 536.3 638.2 540.3 641.4 544.3 643.7 548.3 645.2 552.3 645.9 556.3 645.8 561.3 644.7 565.3 642.5 569.3 639.6 572.6 636.0 575.3 631.6 577.4 626.6 578.7 620.6 579.3Z"/>
<path fill="#21a585" d="M622.6 576.4 615.6 576.6 608.6 576.0 600.6 574.4 591.6 572.0 580.8 568.3 570.6 564.2 559.8 559.3 550.3 554.3 537.7 546.3 532.8 542.3 529.0 538.3 526.6 534.3 525.4 530.3 525.8 526.3 527.0 523.3 529.0 520.3 532.1 517.3 536.4 514.3 540.4 512.3 545.6 510.3 550.6 509.1 555.7 508.3 561.6 508.0 572.6 508.8 584.6 511.6 598.6 516.7 611.6 523.1 623.6 530.6 632.8 538.3 638.6 545.3 640.7 549.3 642.0 553.3 642.5 557.3 642.1 561.3 640.6 565.3 638.6 568.4 635.6 571.4 631.6 573.8 627.6 575.3 622.6 576.4Z"/>
<path fill="#23a983" d="M621.6 573.4 615.6 573.8 608.6 573.4 601.6 572.2 592.6 570.0 583.6 567.1 573.6 563.3 564.6 559.3 554.9 554.3 548.2 550.3 542.4 546.3 537.6 542.3 533.9 538.3 531.6 534.3 530.5 530.3 530.9 526.3 532.2 523.3 534.5 520.3 536.6 518.3 540.6 515.6 544.6 513.6 548.6 512.2 553.6 511.0 563.6 510.1 574.6 511.1 585.6 513.7 597.6 518.1 609.6 523.9 621.2 531.3 629.5 538.3 635.1 545.3 637.2 549.3 638.2 552.3 638.7 556.3 638.5 559.3 637.2 563.3 635.3 566.3 632.6 568.9 629.6 570.9 625.6 572.5 621.6 573.4Z"/>
<path fill="#26ad81" d="M619.6 570.4 613.6 570.9 607.6 570.6 600.6 569.5 592.6 567.6 583.6 564.8 574.6 561.4 566.6 557.9 558.6 553.8 547.0 546.3 542.3 542.3 538.8 538.3 536.5 534.3 535.6 531.3 535.7 527.3 536.9 524.3 539.1 521.3 541.2 519.3 544.1 517.3 548.1 515.3 556.6 512.9 565.6 512.2 575.6 513.1 586.6 515.7 597.6 519.7 608.6 525.1 618.2 531.3 626.4 538.3 629.1 541.3 631.9 545.3 634.4 551.3 634.9 554.3 634.8 557.3 634.0 560.3 632.4 563.3 630.6 565.4 627.6 567.6 623.9 569.3 619.6 570.4Z"/>
<path fill="#2ab07f" d="M617.6 567.3 611.6 567.9 605.6 567.7 598.6 566.6 591.6 565.0 583.6 562.5 575.6 559.5 567.6 555.9 560.8 552.3 554.4 548.3 549.2 544.3 545.1 540.3 542.8 537.3 540.9 533.3 540.4 530.3 540.8 527.3 542.1 524.3 543.7 522.3 546.6 519.7 552.6 516.6 560.6 514.7 568.6 514.3 577.6 515.2 587.6 517.6 598.6 521.7 607.6 526.2 616.9 532.3 623.7 538.3 628.3 544.3 629.9 547.3 630.9 550.3 631.3 553.3 631.0 556.3 630.0 559.3 628.7 561.3 626.6 563.4 623.7 565.3 617.6 567.3Z"/>
<path fill="#2fb47c" d="M615.6 564.4 610.6 565.0 605.6 565.0 599.6 564.4 592.6 563.0 578.6 558.5 571.6 555.5 564.6 551.8 554.9 545.3 550.5 541.3 548.1 538.3 545.9 534.3 545.3 531.3 545.4 528.3 546.6 525.3 548.1 523.3 550.3 521.3 555.8 518.3 562.6 516.6 570.6 516.1 578.6 516.9 587.6 519.0 597.6 522.6 606.6 527.0 614.6 532.3 621.3 538.3 625.7 544.3 627.7 549.3 627.8 554.3 627.2 556.3 625.6 558.9 623.6 560.9 621.6 562.3 615.6 564.4Z"/>
<path fill="#35b779" d="M610.6 562.4 605.6 562.6 600.6 562.3 588.6 559.9 575.6 555.1 564.6 549.3 556.7 543.3 553.0 539.3 551.1 536.3 549.9 533.3 549.6 530.3 550.2 527.3 551.3 525.3 554.6 522.0 560.3 519.3 566.6 518.0 574.6 517.9 582.6 519.0 592.6 521.8 601.6 525.6 608.6 529.6 615.6 534.7 620.9 540.3 623.9 545.3 625.1 550.3 624.4 554.3 623.4 556.3 621.6 558.3 619.6 559.7 616.6 561.1 610.6 562.4Z"/>
<path fill="#3bbb75" d="M608.6 560.4 603.6 560.6 598.6 560.1 588.6 558.1 577.6 554.1 567.6 548.8 560.3 543.3 557.4 540.3 555.3 537.3 553.9 534.3 553.4 531.3 553.8 528.3 554.7 526.3 557.6 523.3 562.6 520.8 568.6 519.5 576.6 519.4 584.6 520.6 592.6 522.9 599.6 525.8 607.6 530.2 613.3 534.3 618.3 539.3 621.4 544.3 622.4 547.3 622.6 549.3 621.8 553.3 620.5 555.3 618.6 557.1 614.6 559.1 608.6 560.4Z"/>
<path fill="#42be71" d="M609.6 558.4 605.6 558.8 600.6 558.7 590.6 557.1 580.6 553.8 570.6 548.7 563.3 543.3 560.4 540.3 558.3 537.3 557.0 534.3 556.6 532.3 556.8 529.3 557.6 527.3 560.3 524.3 564.6 522.1 570.6 520.8 576.6 520.6 584.6 521.7 591.6 523.6 599.6 526.8 605.6 530.0 611.6 534.3 615.8 538.3 619.2 543.3 620.4 547.3 620.0 551.3 618.2 554.3 614.6 556.8 609.6 558.4Z"/>
<path fill="#4ac16d" d="M604.6 557.3 596.6 556.9 587.6 554.9 578.6 551.5 570.6 547.0 567.0 544.3 563.8 541.3 560.3 536.3 559.3 533.3 559.2 531.3 559.6 529.3 560.6 527.3 563.6 524.6 567.6 522.8 573.6 521.8 579.6 521.9 586.6 523.1 593.6 525.2 600.6 528.2 606.6 531.7 612.4 536.3 615.8 540.3 618.0 544.3 618.6 548.3 617.6 551.5 616.3 553.3 614.6 554.6 610.6 556.4 604.6 557.3Z"/>
<path fill="#52c569" d="M608.6 555.4 601.6 556.1 592.6 555.1 582.6 552.0 574.6 548.0 567.6 542.9 565.1 540.3 563.0 537.3 561.8 534.3 561.5 532.3 561.7 530.3 562.6 528.3 564.6 526.1 568.6 524.0 573.6 523.0 579.6 522.9 585.6 523.8 592.6 525.7 598.6 528.1 603.6 530.8 608.7 534.3 612.9 538.3 615.1 541.3 616.7 545.3 616.8 548.3 615.5 551.3 612.6 553.8 608.6 555.4Z"/>
<path fill="#5ac864" d="M606.6 554.5 599.6 554.9 591.6 553.8 582.6 550.9 575.6 547.3 570.0 543.3 565.5 538.3 564.0 535.3 563.6 533.3 563.6 531.3 564.3 529.3 566.6 526.8 569.6 525.1 574.6 524.0 579.6 523.9 585.6 524.6 590.6 525.8 596.6 528.0 602.6 531.0 607.4 534.3 611.6 538.3 614.3 542.3 615.2 545.3 615.1 548.3 613.3 551.3 610.6 553.2 606.6 554.5Z"/>
<path fill="#63cb5f" d="M605.6 553.5 598.6 553.9 591.6 552.9 584.6 550.7 576.6 546.8 570.6 542.3 567.9 539.3 566.6 537.3 565.4 533.3 565.5 531.3 566.4 529.3 568.6 527.2 572.6 525.5 576.6 524.8 581.6 524.8 587.6 525.8 592.6 527.2 597.6 529.2 602.6 531.9 607.3 535.3 610.4 538.3 613.0 542.3 613.8 545.3 613.4 548.3 612.1 550.3 609.3 552.3 605.6 553.5Z"/>
<path fill="#6ccd5a" d="M605.6 552.4 599.6 553.0 592.6 552.2 585.6 550.2 578.6 546.9 572.6 542.7 568.7 538.3 567.1 534.3 567.1 532.3 567.8 530.3 569.5 528.3 572.6 526.7 576.6 525.8 580.6 525.6 585.6 526.1 590.6 527.3 595.6 529.1 600.6 531.5 604.9 534.3 608.3 537.3 610.7 540.3 612.1 543.3 612.4 546.3 611.1 549.3 608.6 551.3 605.6 552.4Z"/>
<path fill="#75d054" d="M604.6 551.5 598.6 552.1 591.6 551.2 584.6 548.9 578.6 546.0 573.6 542.3 570.1 538.3 568.6 534.3 568.7 532.3 569.6 530.3 571.6 528.5 574.6 527.2 578.6 526.5 582.6 526.5 586.6 527.0 591.6 528.3 596.6 530.2 600.6 532.3 603.7 534.3 607.1 537.3 609.5 540.3 610.9 543.3 611.0 546.3 610.1 548.3 607.8 550.3 604.6 551.5Z"/>
<path fill="#7fd34e" d="M604.6 550.5 599.6 551.2 593.6 550.8 586.6 548.9 580.6 546.2 575.0 542.3 571.5 538.3 570.5 536.3 570.1 534.3 570.7 531.3 572.6 529.3 574.6 528.3 577.6 527.5 581.6 527.2 585.6 527.6 590.6 528.7 594.6 530.0 599.3 532.3 602.6 534.4 606.0 537.3 608.4 540.3 609.4 542.3 609.8 545.3 609.1 547.3 607.1 549.3 604.6 550.5Z"/>
<path fill="#89d548" d="M600.6 550.3 595.6 550.3 589.6 549.1 583.6 546.9 579.0 544.3 575.2 541.3 572.2 537.3 571.5 534.3 572.4 531.3 574.6 529.5 577.6 528.4 580.6 528.0 584.6 528.1 588.6 528.8 593.6 530.3 597.6 532.1 601.3 534.3 603.9 536.3 606.7 539.3 608.3 542.3 608.6 544.3 608.1 546.3 606.5 548.3 603.6 549.7 600.6 550.3Z"/>
<path fill="#93d741" d="M600.6 549.4 595.6 549.5 590.6 548.7 585.6 547.0 580.4 544.3 576.5 541.3 574.0 538.3 572.9 535.3 573.4 532.3 575.5 530.3 577.6 529.4 583.6 528.8 587.6 529.3 591.6 530.3 595.6 531.8 599.6 534.0 604.8 538.3 606.8 541.3 607.3 543.3 607.1 545.3 605.8 547.3 603.6 548.7 600.6 549.4Z"/>
<path fill="#9dd93b" d="M601.6 548.3 597.6 548.8 592.6 548.4 587.6 547.0 582.6 544.8 578.9 542.3 575.9 539.3 574.4 536.3 574.2 534.3 574.6 533.1 576.1 531.3 578.0 530.3 580.6 529.7 583.6 529.5 590.6 530.6 597.6 533.5 602.8 537.3 605.2 540.3 606.0 542.3 606.0 544.3 605.1 546.3 603.6 547.5 601.6 548.3Z"/>
<path fill="#a8db34" d="M600.6 547.6 596.6 548.1 592.6 547.7 587.6 546.3 583.2 544.3 579.0 541.3 576.5 538.3 575.5 535.3 576.0 533.3 577.6 531.7 579.6 530.8 584.6 530.3 591.6 531.6 597.6 534.2 602.7 538.3 604.1 540.3 604.8 542.3 604.7 544.3 604.2 545.3 602.6 546.8 600.6 547.6Z"/>
<path fill="#b2dd2d" d="M600.6 546.5 597.6 547.2 593.6 547.1 589.6 546.2 584.7 544.3 581.5 542.3 578.4 539.3 576.9 536.3 577.1 534.3 577.7 533.3 579.6 531.9 583.6 531.1 589.6 531.7 595.6 533.8 600.6 537.3 602.3 539.3 603.4 541.3 603.6 543.3 603.3 544.3 602.6 545.3 600.6 546.5Z"/>
<path fill="#bddf26" d="M597.6 546.3 594.6 546.4 590.6 545.8 586.6 544.4 583.6 542.8 580.5 540.3 578.9 538.3 578.3 536.3 578.7 534.3 579.6 533.2 581.5 532.3 585.6 531.8 591.6 532.9 596.9 535.3 599.4 537.3 601.2 539.3 602.3 542.3 601.7 544.3 600.6 545.3 597.6 546.3Z"/>
<path fill="#c8e020" d="M597.6 545.3 594.6 545.6 591.6 545.3 588.6 544.4 585.6 543.1 582.9 541.3 580.9 539.3 579.8 537.3 579.8 535.3 580.5 534.3 582.0 533.3 585.6 532.7 590.6 533.3 595.6 535.3 599.3 538.3 600.9 541.3 600.6 543.4 599.6 544.4 597.6 545.3Z"/>
<path fill="#d2e21b" d="M596.6 544.4 591.6 544.5 588.6 543.7 585.8 542.3 583.2 540.3 581.6 538.3 581.3 536.3 581.6 535.3 583.6 534.0 586.6 533.5 590.6 534.0 594.6 535.4 598.1 538.3 599.5 541.3 598.8 543.3 596.6 544.4Z"/>
<path fill="#dde318" d="M595.6 543.5 591.6 543.7 587.4 542.3 583.7 539.3 582.9 537.3 583.1 536.3 584.6 535.0 587.6 534.4 591.6 534.9 594.6 536.2 596.9 538.3 597.9 540.3 597.6 542.3 595.6 543.5Z"/>
<path fill="#e7e419" d="M594.6 542.6 592.6 542.9 590.6 542.7 587.3 541.3 586.1 540.3 584.8 538.3 584.8 537.3 585.4 536.3 587.6 535.4 589.6 535.3 593.6 536.4 595.8 538.3 596.5 540.3 596.3 541.3 594.6 542.6Z"/>
<path fill="#f1e51d" d="M593.6 541.7 591.6 542.0 588.6 541.0 586.8 539.3 586.5 538.3 586.7 537.3 588.3 536.3 589.6 536.1 591.6 536.3 593.6 537.2 594.7 538.3 595.1 540.3 594.4 541.3 593.6 541.7Z"/>
<path fill="#fbe723" d="M592.6 540.8 591.6 541.0 589.6 540.5 588.3 539.3 588.2 538.3 589.6 537.1 591.6 537.2 592.6 537.6 593.8 539.3 593.5 540.3 592.6 540.8Z"/>
</g>
</g>
<g clip-path="url(#clipA)"><path d="M218.3 175.0L40.0 109.6" stroke="#fff" stroke-width="2.6" stroke-dasharray="7.3 3.3" fill="none"/></g>
<g clip-path="url(#clipB)"><path d="M217.5 539.4L40.0 565.3" stroke="#fff" stroke-width="2.6" stroke-dasharray="7.3 3.3" fill="none"/></g>
<g clip-path="url(#clipC)"><path d="M584.9 539.5L762.0 607.0" stroke="#fff" stroke-width="2.6" stroke-dasharray="7.3 3.3" fill="none"/></g>
<g clip-path="url(#clipA)"><path fill="#000" d="M148.3 22.7 90.4 49.1 90.5 47.0 83.0 53.5 92.8 52.2 91.2 50.8 149.1 24.5ZM183.9 18.9 130.0 37.8 130.2 35.7 122.2 41.5 132.1 41.1 130.6 39.6 184.5 20.7ZM215.7 22.1 160.1 41.8 160.4 39.6 152.4 45.5 162.3 45.0 160.8 43.5 216.3 23.9ZM252.2 32.6 202.9 32.4 203.8 30.5 194.3 33.3 203.8 36.2 202.8 34.3 252.2 34.4ZM230.5 43.2 162.2 44.5 163.1 42.6 153.7 45.6 163.3 48.3 162.3 46.4 230.5 45.0ZM175.3 51.1 136.1 51.6 137.1 49.7 127.6 52.7 137.1 55.4 136.2 53.5 175.3 52.9ZM276.5 54.3 231.1 52.9 232.1 51.0 222.5 53.6 231.9 56.7 231.0 54.8 276.5 56.1ZM249.5 62.1 212.7 63.8 213.6 61.9 204.2 65.2 213.8 67.6 212.8 65.7 249.5 63.9ZM220.9 61.5 185.3 63.7 186.1 61.8 176.8 65.2 186.5 67.4 185.4 65.6 221.1 63.3ZM195.9 67.4 167.6 63.7 168.8 61.9 159.0 63.5 168.1 67.6 167.4 65.5 195.7 69.2ZM146.9 67.7 108.0 89.9 107.8 87.8 101.0 95.0 110.7 92.8 108.9 91.6 147.9 69.3ZM233.7 75.8 201.1 76.9 202.0 75.0 192.6 78.2 202.2 80.7 201.2 78.8 233.7 77.6ZM212.6 80.6 184.4 80.6 185.3 78.8 175.8 81.6 185.3 84.4 184.4 82.5 212.6 82.5ZM189.3 77.9 150.1 79.7 151.0 77.8 141.6 81.1 151.2 83.5 150.2 81.6 189.3 79.7ZM267.0 83.1 230.7 89.2 231.3 87.1 222.4 91.5 232.2 92.7 231.0 91.0 267.4 84.9ZM246.1 91.6 215.5 98.7 216.0 96.7 207.4 101.6 217.3 102.2 215.9 100.6 246.5 93.4ZM193.9 88.1 145.4 93.7 146.1 91.7 137.0 95.6 146.8 97.3 145.6 95.6 194.1 89.9ZM132.5 97.7 119.9 95.3 121.2 93.6 111.3 94.6 120.1 99.2 119.5 97.1 132.1 99.5ZM292.3 97.0 253.9 110.0 254.2 107.9 246.1 113.7 256.0 113.3 254.5 111.8 292.9 98.8ZM262.0 109.4 233.5 124.0 233.4 121.9 226.3 128.8 236.1 127.0 234.3 125.7 262.8 111.0ZM242.2 111.6 219.3 122.9 219.3 120.8 212.0 127.5 221.8 125.9 220.1 124.6 243.0 113.4ZM281.6 124.6 245.7 152.5 245.3 150.4 239.5 158.5 248.7 154.9 246.8 154.0 282.8 126.0ZM256.0 133.8 224.5 156.8 224.2 154.7 218.2 162.6 227.6 159.3 225.7 158.3 257.2 135.4ZM296.8 147.8 276.3 159.8 276.2 157.6 269.4 164.9 279.0 162.6 277.3 161.4 297.8 149.4ZM272.3 149.1 250.7 167.9 250.2 165.8 244.9 174.2 253.9 170.1 252.0 169.3 273.5 150.5ZM257.1 159.4 244.4 168.5 244.1 166.4 238.0 174.2 247.4 171.0 245.5 170.0 258.3 161.0ZM297.9 181.9 297.5 178.2 299.5 178.9 295.5 169.8 293.8 179.6 295.6 178.4 296.1 182.1ZM210.8 169.5 211.1 169.3 211.1 170.1 213.6 167.5 210.1 168.3 210.7 168.7 210.4 168.9ZM225.3 151.9 223.2 154.3 222.4 152.4 218.5 161.5 226.8 156.0 224.7 155.5 226.7 153.1ZM243.6 168.6 243.2 169.1 242.7 167.8 240.0 173.5 245.3 170.2 244.1 169.8 244.4 169.4ZM230.6 186.7 230.2 187.2 229.7 186.1 228.0 191.5 232.3 187.9 231.2 187.8 231.4 187.3ZM221.8 94.2 167.5 98.1 168.3 96.2 159.0 99.7 168.7 101.8 167.6 100.0 222.0 96.0ZM167.9 112.8 152.7 118.9 152.9 116.8 145.1 123.0 155.0 122.1 153.4 120.7 168.7 114.6ZM147.0 117.6 133.6 124.7 133.6 122.5 126.5 129.5 136.2 127.6 134.5 126.3 147.8 119.2ZM222.0 110.5 204.9 109.2 206.0 107.4 196.3 109.5 205.6 113.0 204.8 111.1 221.8 112.3ZM203.3 112.8 186.2 111.5 187.3 109.7 177.6 111.8 186.9 115.3 186.1 113.4 203.1 114.6ZM182.4 122.1 172.3 121.4 173.4 119.6 163.7 121.8 173.0 125.3 172.2 123.3 182.2 123.9ZM221.9 122.1 204.9 121.3 205.9 119.4 196.3 121.8 205.7 125.1 204.8 123.1 221.9 123.9ZM163.2 132.7 155.7 136.8 155.6 134.7 148.6 141.7 158.3 139.7 156.6 138.5 164.2 134.3ZM196.4 130.3 190.9 129.8 192.0 128.0 182.3 130.0 191.5 133.7 190.7 131.7 196.2 132.1ZM222.0 127.9 218.8 127.6 219.9 125.8 210.2 127.7 219.4 131.4 218.6 129.4 221.8 129.7ZM181.7 138.5 172.4 145.2 172.1 143.1 166.0 150.9 175.4 147.7 173.5 146.7 182.9 140.1ZM208.0 140.7 204.9 140.4 206.0 138.6 196.3 140.5 205.5 144.2 204.7 142.3 207.8 142.5ZM221.8 140.7 218.6 141.0 219.4 139.0 210.2 142.8 219.9 144.7 218.8 142.9 222.0 142.5ZM139.5 144.7 131.3 163.7 130.0 162.0 128.8 171.9 135.2 164.3 133.1 164.4 141.3 145.5ZM158.1 157.6 156.6 161.3 155.2 159.7 154.4 169.6 160.5 161.8 158.4 162.0 159.9 158.2ZM174.8 159.5 174.1 160.0 173.9 158.1 168.3 164.9 176.7 162.3 175.1 161.4 175.8 160.9ZM186.2 164.4 185.7 165.2 184.6 163.5 182.3 173.0 189.4 166.3 187.3 166.2 187.8 165.4ZM207.9 156.2 207.3 156.2 207.9 155.1 202.1 156.8 207.9 158.5 207.3 157.4 207.9 157.4ZM132.4 177.5 132.4 204.1 130.5 203.1 133.3 212.6 136.2 203.1 134.2 204.1 134.2 177.5ZM168.9 152.4 168.7 153.0 167.6 152.0 167.4 159.0 171.4 153.2 169.9 153.4 170.1 152.8ZM156.5 191.4 162.1 193.3 160.6 194.8 170.5 195.2 162.4 189.4 162.7 191.5 157.1 189.6ZM145.6 217.2 167.7 209.5 167.5 211.6 175.5 205.8 165.6 206.2 167.1 207.7 145.0 215.4ZM177.7 196.7 179.8 197.2 178.5 198.8 188.4 197.9 179.6 193.2 180.2 195.3 178.1 194.9ZM187.7 185.7 188.1 186.5 186.2 186.6 192.6 192.6 190.6 184.0 189.6 185.6 189.1 184.9ZM183.8 167.2 183.6 167.6 182.9 166.8 182.1 171.6 185.5 168.0 184.4 168.0 184.6 167.6ZM212.3 157.1 211.4 156.8 212.9 155.3 203.0 155.0 211.1 160.7 210.8 158.6 211.7 158.9ZM223.7 184.4 223.9 184.9 222.6 184.8 226.3 189.5 225.8 183.6 224.9 184.5 224.7 184.0ZM213.6 203.8 214.2 203.9 213.4 205.1 220.0 204.2 214.0 201.3 214.4 202.7 213.8 202.6ZM228.0 203.8 228.6 204.2 227.1 205.1 234.7 207.4 229.7 201.3 229.5 203.0 228.8 202.6ZM249.5 207.9 250.0 207.9 249.5 209.0 254.7 207.4 249.5 205.8 250.0 206.9 249.5 206.9ZM197.8 217.2 203.8 218.1 202.6 219.9 212.4 218.4 203.4 214.2 204.1 216.2 198.0 215.4ZM215.8 220.5 219.1 222.6 217.2 223.7 226.8 226.3 220.3 218.8 220.1 220.9 216.8 218.9ZM233.2 221.9 236.8 222.7 235.4 224.4 245.3 223.7 236.7 218.8 237.2 220.9 233.6 220.1ZM247.7 223.3 251.1 224.1 249.8 225.7 259.7 225.0 251.0 220.2 251.6 222.2 248.1 221.5ZM263.7 212.6 264.5 212.6 263.7 214.2 271.6 211.8 263.7 209.4 264.5 211.0 263.7 211.0ZM280.8 225.9 284.1 225.9 283.1 227.8 292.6 225.0 283.1 222.2 284.1 224.1 280.8 224.1ZM302.9 217.6 303.5 217.9 302.4 218.7 308.4 219.7 304.0 215.5 304.0 216.8 303.5 216.6ZM163.9 243.5 208.1 235.4 207.5 237.4 216.3 232.9 206.4 231.8 207.7 233.5 163.5 241.7ZM139.8 245.6 168.3 252.7 166.9 254.4 176.8 253.9 168.3 248.8 168.7 250.9 140.2 243.8ZM187.2 233.8 218.3 241.1 216.9 242.7 226.8 242.1 218.2 237.2 218.7 239.2 187.6 232.0ZM226.2 237.5 235.7 246.2 233.7 247.0 242.6 251.3 237.5 242.8 236.9 244.8 227.4 236.1ZM242.2 240.4 252.8 244.9 251.1 246.3 261.0 247.4 253.4 241.0 253.5 243.2 243.0 238.6ZM260.8 235.1 268.2 236.3 267.0 238.1 276.8 236.8 267.9 232.4 268.5 234.5 261.2 233.3ZM276.9 249.6 294.8 247.8 294.0 249.8 303.2 246.0 293.5 244.1 294.6 245.9 276.7 247.8ZM308.8 253.5 327.1 246.2 326.9 248.3 334.7 242.1 324.8 243.0 326.4 244.4 308.0 251.7ZM201.6 254.8 223.6 260.6 222.2 262.2 232.1 261.8 223.6 256.6 224.1 258.7 202.0 253.0ZM218.7 252.2 255.2 260.8 253.8 262.4 263.7 261.8 255.1 256.9 255.6 258.9 219.1 250.4ZM255.6 252.2 272.2 255.8 270.9 257.4 280.8 256.6 272.1 251.8 272.6 253.9 256.0 250.4ZM181.9 264.1 210.3 270.2 209.0 271.8 218.9 271.0 210.2 266.2 210.7 268.3 182.3 262.3ZM160.8 270.6 194.6 278.1 193.3 279.7 203.2 279.0 194.5 274.2 195.1 276.2 161.2 268.8ZM218.5 270.6 245.0 281.7 243.3 283.1 253.2 284.2 245.6 277.9 245.7 280.0 219.3 268.8ZM250.2 270.6 273.6 277.5 272.2 279.1 282.1 279.0 273.8 273.6 274.2 275.7 250.8 268.8ZM268.9 271.4 318.2 271.9 317.3 273.8 326.8 271.0 317.3 268.1 318.3 270.0 268.9 269.6ZM140.0 285.6 185.3 285.6 184.4 287.6 193.9 284.7 184.4 281.8 185.3 283.8 140.0 283.8ZM200.1 279.9 226.5 291.0 224.8 292.3 234.7 293.4 227.1 287.1 227.2 289.2 200.9 278.1ZM234.4 279.9 263.2 289.1 261.7 290.6 271.6 290.8 263.4 285.2 263.7 287.3 235.0 278.1ZM179.2 290.4 215.8 302.2 214.3 303.7 224.2 303.9 216.0 298.3 216.4 300.4 179.8 288.6ZM218.5 290.4 247.6 302.8 245.9 304.2 255.8 305.3 248.2 298.9 248.3 301.1 219.3 288.6ZM258.0 291.7 287.1 305.2 285.5 306.5 295.3 307.9 287.9 301.3 287.9 303.4 258.8 289.9ZM281.7 306.1 310.8 320.7 309.1 322.0 318.9 323.7 311.7 316.9 311.7 319.0 282.5 304.5ZM159.5 303.5 205.2 315.8 203.8 317.4 213.7 317.1 205.3 311.9 205.7 314.0 159.9 301.7ZM200.2 302.2 239.5 316.4 238.0 317.9 247.9 318.4 239.9 312.5 240.2 314.6 200.8 300.4ZM239.6 300.9 271.3 315.7 269.7 317.0 279.5 318.4 272.1 311.8 272.2 313.9 240.4 299.1ZM181.7 316.7 226.5 336.9 224.9 338.2 234.7 339.5 227.2 333.0 227.3 335.1 182.5 314.9ZM252.8 314.0 289.9 333.6 288.2 334.9 297.9 336.8 290.8 329.8 290.8 332.0 253.6 312.4ZM207.9 325.8 224.3 335.8 222.5 337.0 232.1 339.5 225.5 332.1 225.3 334.2 208.9 324.2ZM237.0 332.5 263.4 344.7 261.8 346.0 271.6 347.4 264.2 340.8 264.2 343.0 237.8 330.7ZM268.1 334.8 273.7 342.6 271.7 342.9 279.5 349.0 276.3 339.6 275.3 341.5 269.7 333.6ZM273.7 177.2 269.6 182.4 268.7 180.5 265.1 189.7 273.2 184.0 271.1 183.5 275.1 178.4ZM280.1 201.6 280.1 204.9 278.1 204.0 281.0 213.5 283.9 204.0 281.9 204.9 281.9 201.6ZM301.9 218.2 302.6 218.4 301.4 219.5 308.8 220.1 303.0 215.5 303.1 217.1 302.5 216.8ZM279.9 227.6 284.7 226.7 284.1 228.7 292.9 224.1 283.0 223.1 284.3 224.8 279.5 225.8ZM260.9 234.2 267.2 235.9 265.8 237.5 275.7 237.3 267.3 232.0 267.7 234.1 261.5 232.4ZM278.5 250.1 295.2 247.5 294.6 249.5 303.5 245.2 293.7 243.9 294.9 245.6 278.3 248.3ZM239.8 259.4 255.2 262.0 254.0 263.7 263.8 262.4 254.9 258.1 255.5 260.1 240.2 257.6ZM239.6 280.5 260.9 290.2 259.3 291.5 269.1 292.9 261.6 286.4 261.7 288.5 240.4 278.7ZM239.6 298.9 271.6 315.0 269.9 316.3 279.7 318.0 272.5 311.2 272.5 313.3 240.4 297.3ZM239.5 320.1 261.1 331.9 259.4 333.1 269.1 335.2 262.1 328.1 262.1 330.3 240.5 318.5Z"/></g>
<g clip-path="url(#clipB)"><path fill="#000" d="M209.2 427.7 241.5 437.1 240.1 438.7 250.0 438.6 241.7 433.2 242.1 435.3 209.8 425.9ZM178.5 447.4 204.4 459.5 202.7 460.8 212.5 462.3 205.1 455.7 205.2 457.8 179.3 445.6ZM210.8 453.3 230.2 447.1 229.9 449.2 238.1 443.6 228.2 443.8 229.7 445.3 210.2 451.5ZM211.4 473.4 215.5 455.1 217.1 456.4 216.4 446.5 211.6 455.2 213.6 454.6 209.6 473.0ZM229.1 467.7 240.4 449.4 241.5 451.2 244.1 441.6 236.7 448.2 238.8 448.4 227.5 466.7ZM153.0 468.1 184.3 477.2 182.9 478.8 192.8 478.7 184.5 473.3 184.9 475.4 153.6 466.3ZM139.9 488.8 151.1 482.9 151.1 485.1 158.2 478.1 148.5 480.0 150.2 481.3 139.1 487.2ZM192.9 468.1 201.0 467.7 200.2 469.6 209.5 466.2 199.8 463.9 200.9 465.8 192.7 466.3ZM170.6 476.0 176.8 479.0 175.1 480.3 184.9 482.0 177.7 475.2 177.7 477.3 171.4 474.2ZM207.5 493.1 209.4 485.6 211.0 487.0 210.5 477.1 205.5 485.6 207.5 485.2 205.7 492.7ZM217.3 501.0 223.6 468.9 225.3 470.2 224.3 460.3 219.7 469.1 221.7 468.5 215.5 500.6ZM193.0 485.9 199.6 484.1 199.2 486.2 207.6 481.0 197.7 480.7 199.1 482.3 192.6 484.1ZM227.2 503.2 231.9 491.3 233.3 492.9 234.2 483.0 228.0 490.8 230.1 490.6 225.4 502.4ZM235.0 485.4 239.1 477.3 240.4 479.0 242.1 469.2 235.3 476.4 237.4 476.4 233.4 484.6ZM178.1 491.8 182.3 491.5 181.6 493.5 190.8 489.9 181.1 487.8 182.2 489.6 177.9 490.0ZM158.8 492.7 162.9 494.8 161.2 496.1 171.0 497.8 163.8 491.0 163.8 493.1 159.6 491.1ZM203.5 508.6 203.2 503.4 205.1 504.2 201.6 494.9 199.4 504.6 201.3 503.5 201.7 508.8ZM214.4 512.5 214.1 507.3 216.0 508.1 212.5 498.8 210.3 508.5 212.2 507.4 212.6 512.7ZM227.2 512.8 228.8 503.5 230.5 504.7 229.3 494.9 224.9 503.8 226.9 503.2 225.4 512.4ZM240.8 509.2 242.4 506.6 243.5 508.4 246.0 498.8 238.6 505.4 240.8 505.6 239.2 508.2ZM193.1 516.7 191.4 516.2 192.8 514.6 182.9 514.6 191.2 520.1 190.8 518.0 192.5 518.5ZM205.2 522.7 204.1 522.0 206.0 521.0 196.7 517.6 202.6 525.6 203.0 523.5 204.0 524.3ZM219.3 526.0 218.8 525.0 221.0 525.1 214.5 517.6 215.7 527.4 217.1 525.8 217.5 526.8ZM232.0 520.5 232.0 519.7 233.6 520.5 231.2 512.6 228.8 520.5 230.4 519.7 230.4 520.5ZM157.2 512.6 157.2 517.9 155.3 516.9 158.2 526.4 161.0 516.9 159.1 517.9 159.1 512.6ZM135.6 512.7 136.5 520.0 134.5 519.3 138.5 528.4 140.1 518.6 138.4 519.8 137.4 512.5ZM126.6 544.7 115.7 509.7 117.8 510.0 112.2 501.8 112.3 511.7 113.8 510.2 124.8 545.3ZM165.9 528.8 170.0 520.7 171.3 522.4 173.0 512.6 166.2 519.8 168.3 519.8 164.3 528.0ZM246.7 440.5 265.2 434.3 264.9 436.4 273.0 430.7 263.1 431.0 264.6 432.5 246.1 438.7ZM248.2 463.9 258.8 450.0 259.7 451.9 263.2 442.6 255.2 448.4 257.3 448.8 246.6 462.7ZM271.9 450.4 290.1 452.4 288.9 454.2 298.7 452.4 289.6 448.5 290.3 450.5 272.1 448.6ZM269.9 473.1 283.2 475.5 281.9 477.2 291.8 476.1 283.0 471.6 283.6 473.7 270.3 471.3ZM293.4 487.7 302.0 479.7 302.6 481.8 307.6 473.2 298.7 477.6 300.7 478.3 292.2 486.3ZM253.4 483.9 260.7 483.0 260.0 485.0 269.1 481.0 259.3 479.4 260.5 481.1 253.2 482.1ZM228.5 511.0 239.6 477.6 241.1 479.1 241.4 469.2 235.7 477.3 237.8 477.0 226.7 510.4ZM239.3 510.2 247.1 496.0 248.3 497.7 250.3 488.0 243.3 495.0 245.4 495.1 237.7 509.2ZM269.9 494.8 276.3 496.1 275.0 497.8 284.9 496.8 276.1 492.2 276.7 494.2 270.3 493.0ZM262.9 503.7 264.5 504.2 263.1 505.7 273.0 505.7 264.7 500.3 265.1 502.4 263.5 501.9ZM268.9 513.5 274.3 514.7 273.0 516.4 282.9 515.6 274.2 510.8 274.7 512.9 269.3 511.7ZM282.4 507.5 314.5 526.0 312.7 527.1 322.4 529.4 315.6 522.2 315.5 524.3 283.4 505.9ZM252.8 517.4 255.4 518.9 253.6 520.1 263.2 522.5 256.5 515.2 256.3 517.3 253.8 515.8ZM262.5 527.1 264.3 528.9 262.3 529.5 271.0 534.3 266.4 525.5 265.7 527.5 263.9 525.7ZM277.4 527.2 287.2 534.1 285.3 535.1 294.7 538.3 288.6 530.5 288.3 532.6 278.6 525.6ZM315.6 536.7 316.0 537.5 314.0 537.5 320.4 544.2 318.8 535.1 317.6 536.7 317.2 535.9ZM130.1 600.1 101.7 577.9 103.6 577.0 94.4 573.4 100.1 581.5 100.6 579.4 128.9 601.5ZM124.2 535.3 133.6 565.5 131.5 565.2 137.1 573.4 137.0 563.5 135.5 565.0 126.0 534.7ZM141.7 535.2 151.0 581.6 148.9 581.0 153.6 589.8 154.5 579.9 152.8 581.2 143.5 534.8ZM157.1 557.4 164.8 575.7 162.7 575.5 169.0 583.2 168.0 573.3 166.6 574.9 158.9 556.6ZM169.1 606.5 157.8 605.8 158.8 604.0 149.2 606.3 158.5 609.7 157.7 607.7 168.9 608.3ZM150.1 620.7 131.0 625.3 131.5 623.2 122.9 628.2 132.8 628.7 131.4 627.1 150.5 622.5ZM195.3 614.1 183.0 613.4 184.0 611.6 174.4 613.9 183.7 617.2 182.9 615.3 195.3 615.9ZM176.0 636.3 156.1 653.7 155.6 651.6 150.3 660.0 159.3 655.9 157.4 655.1 177.2 637.7ZM203.5 643.8 183.6 655.0 183.5 652.9 176.6 660.0 186.3 657.8 184.5 656.6 204.5 645.4ZM225.7 632.8 210.7 637.8 211.0 635.7 202.9 641.4 212.8 641.1 211.3 639.6 226.3 634.6ZM239.9 656.3 217.2 678.5 216.5 676.5 211.7 685.2 220.5 680.6 218.5 679.9 241.3 657.7ZM214.4 523.9 214.4 512.2 216.3 513.2 213.5 503.7 210.7 513.2 212.6 512.2 212.6 523.9ZM231.9 523.9 231.9 520.5 233.8 521.5 231.0 512.0 228.2 521.5 230.1 520.5 230.1 523.9ZM228.2 513.8 228.2 509.4 230.2 510.4 227.3 500.9 224.5 510.4 226.4 509.4 226.4 513.8ZM218.1 527.5 218.0 526.6 220.0 527.3 216.3 518.4 214.4 527.9 216.2 526.8 216.3 527.7ZM203.9 521.5 203.2 521.0 204.8 520.2 197.0 517.5 202.0 524.0 202.3 522.3 202.9 522.7ZM192.8 518.5 191.9 518.1 193.5 516.8 184.1 515.7 191.3 521.8 191.2 519.8 192.0 520.1ZM182.4 531.4 181.6 531.2 182.7 529.7 173.9 530.4 181.7 534.7 181.2 532.9 182.0 533.0ZM194.4 533.2 193.5 533.0 194.8 531.3 185.0 532.2 193.6 536.9 193.1 534.8 194.0 535.0ZM208.2 534.5 207.7 534.3 208.6 533.5 203.0 533.0 207.4 536.5 207.3 535.3 207.8 535.5ZM253.6 519.2 254.5 519.6 252.9 520.9 262.3 522.1 255.1 515.9 255.2 517.9 254.4 517.6ZM271.4 514.7 273.1 514.9 272.0 516.7 281.7 514.7 272.5 511.0 273.3 513.0 271.6 512.9ZM263.8 530.9 264.4 531.3 263.1 532.0 269.7 534.1 265.3 528.8 265.1 530.2 264.6 529.9ZM278.4 528.4 280.6 529.9 278.7 530.9 288.1 534.1 282.0 526.3 281.7 528.4 279.4 526.8ZM159.2 512.7 158.5 515.4 156.9 514.0 157.4 523.9 162.4 515.4 160.4 515.8 161.0 513.1ZM176.9 520.1 176.7 520.8 175.4 519.8 175.8 527.6 179.8 520.8 178.2 521.2 178.3 520.5ZM163.8 527.4 161.8 537.4 160.1 536.1 161.0 546.0 165.7 537.2 163.6 537.8 165.6 527.8ZM156.5 545.8 154.9 552.3 153.2 550.9 153.7 560.8 158.8 552.3 156.7 552.7 158.3 546.2ZM187.0 554.3 186.1 554.1 187.3 552.4 177.6 553.4 186.3 558.0 185.7 555.9 186.6 556.1ZM201.6 558.4 201.1 558.4 201.6 557.5 197.0 558.9 201.6 560.3 201.1 559.4 201.6 559.4ZM212.8 551.2 212.4 551.0 213.2 550.5 208.9 549.7 212.0 552.7 212.0 551.8 212.4 552.0ZM223.1 549.1 222.6 549.7 222.0 548.0 218.1 555.2 225.3 551.4 223.7 550.8 224.2 550.3ZM239.5 544.2 239.7 544.7 238.5 544.6 242.0 549.0 241.5 543.4 240.7 544.3 240.5 543.8ZM248.8 544.4 249.0 545.0 247.5 544.8 251.3 550.6 251.3 543.6 250.2 544.7 250.0 544.0ZM259.9 554.5 259.2 555.0 258.8 553.0 253.1 560.8 262.2 557.4 260.3 556.5 261.1 555.9ZM280.6 552.8 280.1 553.0 280.3 551.7 275.2 555.2 281.3 555.1 280.4 554.1 281.0 554.0ZM254.6 567.2 253.4 567.7 253.6 565.6 245.8 571.8 255.7 570.9 254.1 569.5 255.4 569.0ZM267.7 569.1 266.8 569.3 267.4 567.2 258.7 571.8 268.4 572.8 267.2 571.1 268.1 570.9ZM286.5 574.6 267.3 570.7 268.6 569.1 258.7 570.0 267.5 574.7 266.9 572.6 286.1 576.4ZM238.1 565.4 235.1 566.4 235.4 564.3 227.3 570.0 237.2 569.7 235.7 568.2 238.7 567.2ZM223.3 574.6 218.3 576.8 218.4 574.7 210.8 581.0 220.7 579.9 219.0 578.5 224.1 576.4ZM205.0 569.1 202.5 569.5 203.1 567.5 194.2 571.8 204.0 573.1 202.8 571.4 205.4 570.9ZM190.8 574.8 190.0 574.5 191.3 573.3 183.1 572.7 189.7 577.7 189.5 576.0 190.2 576.2ZM178.2 578.8 177.8 578.3 179.2 578.1 173.9 573.7 175.9 580.3 176.7 579.0 177.0 579.6ZM253.2 580.1 243.3 579.1 244.4 577.3 234.7 579.2 243.9 583.0 243.1 581.0 253.0 581.9ZM236.3 585.7 229.5 588.2 229.7 586.1 221.8 592.1 231.7 591.5 230.1 590.0 236.9 587.5ZM223.4 585.7 220.4 586.7 220.8 584.6 212.6 590.2 222.5 590.0 221.0 588.5 224.0 587.5ZM208.6 587.5 205.7 588.5 206.0 586.4 197.9 592.1 207.8 591.8 206.3 590.3 209.2 589.3ZM170.9 580.6 170.5 580.1 172.0 579.9 166.6 575.5 168.7 582.1 169.4 580.8 169.8 581.4ZM267.6 589.3 253.6 594.0 253.9 591.9 245.8 597.6 255.7 597.3 254.2 595.8 268.2 591.1ZM232.7 598.5 219.1 600.8 219.7 598.7 210.8 603.1 220.6 604.3 219.4 602.6 233.1 600.3ZM249.1 603.1 235.0 608.4 235.2 606.3 227.3 612.3 237.2 611.6 235.6 610.2 249.7 604.9ZM195.5 595.3 194.8 594.8 196.5 593.9 188.0 591.0 193.5 598.1 193.8 596.2 194.5 596.7ZM185.5 597.5 185.0 597.0 186.5 596.5 180.0 593.0 183.5 599.5 184.0 598.0 184.5 598.5ZM302.8 556.2 294.0 550.4 295.9 549.3 286.4 546.4 292.7 554.0 293.0 551.9 301.8 557.8ZM322.7 544.6 324.3 549.2 322.2 548.9 327.9 557.0 327.6 547.1 326.1 548.6 324.5 544.0ZM288.7 576.3 264.1 572.3 265.3 570.6 255.5 571.9 264.4 576.2 263.8 574.2 288.3 578.1ZM269.1 589.1 249.6 595.1 249.9 593.0 241.7 598.5 251.6 598.4 250.2 596.9 269.7 590.9ZM251.9 601.9 237.3 608.9 237.4 606.7 230.0 613.4 239.8 611.9 238.1 610.6 252.7 603.7ZM268.8 612.7 248.4 631.4 247.9 629.4 242.8 637.9 251.7 633.6 249.7 632.8 270.0 614.1ZM250.8 626.4 238.9 633.6 238.7 631.5 232.1 638.9 241.7 636.4 239.9 635.3 251.8 628.0ZM293.1 617.1 272.3 639.5 271.6 637.5 267.2 646.4 275.7 641.4 273.7 640.8 294.5 618.3ZM253.5 580.6 238.6 579.2 239.7 577.4 230.0 579.4 239.2 583.1 238.4 581.1 253.3 582.4ZM139.9 488.1 151.3 482.5 151.3 484.6 158.5 477.8 148.7 479.5 150.4 480.8 139.1 486.5ZM159.8 492.4 163.0 494.5 161.1 495.6 170.6 498.5 164.3 490.8 164.0 493.0 160.8 490.8ZM137.8 566.5 117.7 509.7 119.8 510.0 113.9 502.0 114.4 511.9 115.9 510.4 136.0 567.1ZM140.9 539.9 139.6 520.5 141.5 521.3 138.0 512.0 135.8 521.7 137.7 520.6 139.1 540.1ZM156.8 511.5 156.8 515.1 154.8 514.1 157.7 523.6 160.5 514.1 158.6 515.1 158.6 511.5ZM148.1 528.8 147.5 544.4 145.7 543.4 148.2 553.0 151.4 543.6 149.4 544.5 149.9 528.8ZM142.1 537.8 152.6 562.8 150.5 562.6 156.8 570.3 155.8 560.4 154.4 562.0 143.9 537.0ZM131.7 553.2 134.8 565.6 132.7 565.2 137.8 573.7 138.2 563.8 136.6 565.2 133.5 552.8ZM162.8 526.7 159.8 537.5 158.3 536.1 158.5 546.0 163.8 537.6 161.7 538.0 164.6 527.3ZM159.4 558.4 164.1 576.1 162.0 575.7 167.2 584.1 167.5 574.2 165.9 575.6 161.2 558.0ZM145.5 560.1 150.5 582.9 148.5 582.3 153.3 591.0 154.0 581.1 152.4 582.4 147.3 559.7ZM203.8 509.3 202.9 504.0 204.9 504.6 200.5 495.7 199.3 505.5 201.0 504.3 202.0 509.7ZM241.7 509.8 242.0 509.2 243.0 510.5 244.3 502.9 239.0 508.5 240.7 508.5 240.3 509.2ZM178.6 525.1 178.4 524.4 179.9 524.7 175.9 518.7 175.9 525.9 177.0 524.8 177.2 525.5ZM202.8 558.8 202.2 558.9 202.7 557.5 196.3 560.1 203.1 561.5 202.3 560.2 203.0 560.2ZM219.7 560.1 219.1 560.4 219.2 558.8 213.4 563.4 220.8 562.8 219.6 561.7 220.3 561.5ZM248.2 553.7 246.9 555.7 245.8 553.9 243.0 563.4 250.6 557.0 248.5 556.8 249.8 554.7Z"/></g>
<g clip-path="url(#clipC)"><path fill="#000" d="M534.6 436.2 534.2 435.8 535.2 435.5 531.0 433.0 533.2 437.5 533.5 436.5 533.9 436.8ZM581.2 446.7 578.8 443.1 580.9 442.9 573.2 436.6 576.2 446.1 577.2 444.2 579.6 447.7ZM490.6 439.8 489.8 442.4 488.2 440.9 488.0 450.8 493.7 442.7 491.6 443.0 492.4 440.4ZM462.0 452.3 448.0 451.5 449.0 449.7 439.4 452.0 448.7 455.4 447.9 453.4 461.8 454.1ZM469.4 477.1 439.2 462.1 440.9 460.8 431.1 459.1 438.3 465.9 438.3 463.8 468.6 478.9ZM494.1 468.8 483.6 466.8 484.9 465.1 475.0 466.2 483.8 470.7 483.2 468.7 493.7 470.6ZM518.0 455.0 511.7 465.5 510.6 463.7 508.1 473.3 515.4 466.6 513.3 466.5 519.6 456.0ZM521.4 476.2 515.1 473.0 516.8 471.7 507.0 470.0 514.2 476.8 514.2 474.7 520.6 477.8ZM544.2 482.1 536.3 474.8 538.3 474.0 529.4 469.7 534.5 478.2 535.0 476.2 543.0 483.5ZM570.2 472.5 536.1 453.0 537.9 451.8 528.2 449.6 535.0 456.8 535.2 454.7 569.2 474.1ZM563.5 494.3 559.4 483.4 561.5 483.6 555.5 475.7 556.2 485.6 557.6 484.0 561.7 494.9ZM584.7 488.2 573.8 470.6 575.9 470.4 568.5 463.8 571.1 473.4 572.2 471.6 583.1 489.2ZM474.4 509.3 440.8 482.6 442.7 481.7 433.5 478.0 439.2 486.1 439.6 484.1 473.2 510.7ZM441.8 478.3 419.6 477.4 420.6 475.5 411.0 478.0 420.4 481.2 419.5 479.3 441.8 480.1ZM482.3 490.2 477.6 489.3 478.9 487.6 469.0 488.7 477.8 493.2 477.2 491.2 481.9 492.0ZM504.6 495.2 504.0 495.2 504.6 494.0 498.6 495.8 504.6 497.6 504.0 496.4 504.6 496.4ZM580.2 505.3 580.2 499.7 582.1 500.6 579.2 491.1 576.4 500.6 578.2 499.7 578.2 505.3ZM590.3 513.9 589.4 513.4 591.2 512.2 581.5 510.0 588.4 517.2 588.5 515.0 589.3 515.5ZM566.0 511.5 565.5 511.6 565.9 510.5 561.0 512.5 566.1 513.5 565.5 512.5 566.0 512.5ZM490.4 510.6 489.9 510.6 490.2 509.6 486.0 512.0 490.8 512.4 490.1 511.6 490.6 511.4ZM511.1 513.5 511.1 514.1 509.9 513.5 511.7 519.5 513.5 513.5 512.3 514.1 512.3 513.5ZM528.4 518.3 528.4 519.2 526.5 518.3 529.4 527.8 532.2 518.3 530.4 519.2 530.4 518.3ZM552.0 519.1 551.6 519.1 552.0 518.3 548.0 519.5 552.0 520.7 551.6 519.9 552.0 519.9ZM575.0 523.5 574.5 523.5 575.0 522.5 570.0 524.0 575.0 525.5 574.5 524.5 575.0 524.5ZM454.8 522.1 445.5 522.3 446.4 520.4 437.0 523.5 446.6 526.1 445.6 524.2 454.8 523.9ZM477.5 528.1 469.3 526.3 470.6 524.6 460.7 525.4 469.4 530.2 468.9 528.1 477.1 529.9ZM434.7 502.0 419.5 502.7 420.4 500.7 411.0 504.0 420.6 506.4 419.6 504.6 434.7 503.8ZM428.7 526.9 419.4 528.1 420.1 526.1 411.0 530.1 420.8 531.7 419.6 529.9 428.9 528.7ZM430.7 549.4 418.5 554.5 418.7 552.3 411.0 558.6 420.9 557.6 419.3 556.2 431.5 551.2ZM498.9 530.1 498.9 531.1 496.9 530.1 499.8 539.6 502.7 530.1 500.8 531.1 500.8 530.1ZM517.9 532.6 518.1 533.5 516.2 532.9 520.0 541.0 521.3 532.1 519.8 533.2 519.6 532.4ZM538.0 532.6 538.2 534.6 536.2 533.8 540.0 543.0 541.8 533.3 540.1 534.4 539.8 532.4ZM557.5 534.1 557.6 534.6 556.5 534.3 559.0 539.0 559.5 533.7 558.6 534.4 558.5 533.9ZM459.8 545.5 459.8 562.2 457.8 561.3 460.7 570.8 463.6 561.3 461.6 562.2 461.6 545.5ZM485.9 547.1 485.9 555.2 483.9 554.2 486.8 563.7 489.7 554.2 487.8 555.2 487.8 547.1ZM507.2 548.4 507.6 552.9 505.6 552.1 509.3 561.3 511.3 551.6 509.5 552.7 509.0 548.2ZM526.1 549.5 526.1 554.0 524.2 553.0 527.1 562.5 530.0 553.0 528.1 554.0 528.1 549.5ZM547.5 548.1 547.6 548.6 546.5 548.3 549.0 553.0 549.5 547.7 548.6 548.4 548.5 547.9ZM651.9 464.9 616.9 440.5 618.7 439.5 609.3 436.4 615.5 444.2 615.8 442.1 650.9 466.5ZM605.5 471.3 602.6 457.5 604.7 458.0 599.9 449.3 599.1 459.2 600.7 457.9 603.7 471.7ZM700.9 476.5 679.7 469.7 681.2 468.2 671.3 468.0 679.5 473.6 679.2 471.5 700.3 478.3ZM671.5 489.4 658.9 487.2 660.1 485.5 650.3 486.7 659.2 491.1 658.6 489.1 671.1 491.2ZM625.2 489.6 620.7 485.1 622.7 484.4 614.0 479.7 618.7 488.5 619.3 486.4 623.8 491.0ZM602.0 496.9 596.2 484.7 598.3 484.8 591.7 477.4 593.2 487.2 594.5 485.5 600.2 497.7ZM722.5 502.5 723.0 501.6 724.2 503.4 726.4 493.8 719.2 500.6 721.4 500.7 720.9 501.5ZM611.2 509.6 609.3 507.1 611.4 506.7 603.4 500.8 606.8 510.1 607.7 508.2 609.6 510.8ZM631.1 509.6 630.5 508.9 632.5 508.4 624.5 503.1 628.3 512.0 629.1 510.1 629.7 510.8ZM594.6 517.6 589.9 514.3 591.7 513.3 582.3 510.2 588.5 518.0 588.8 515.9 593.6 519.2ZM697.3 510.2 697.3 513.4 695.4 512.4 698.3 521.9 701.1 512.4 699.2 513.4 699.2 510.2ZM741.3 522.8 739.6 514.8 741.7 515.3 736.9 506.6 736.1 516.5 737.8 515.2 739.5 523.2ZM675.2 515.5 670.0 524.5 668.9 522.7 666.6 532.4 673.8 525.6 671.7 525.5 676.8 516.5ZM641.8 524.2 641.8 523.4 643.5 524.2 640.9 516.0 638.5 524.2 640.2 523.4 640.2 524.2ZM623.0 525.4 623.0 524.6 624.7 525.4 622.2 517.2 619.7 525.4 621.4 524.6 621.4 525.4ZM661.1 522.3 660.4 522.2 661.3 520.9 654.0 522.0 660.7 525.1 660.2 523.6 660.9 523.7ZM605.4 526.9 605.3 526.1 607.0 526.6 603.4 519.0 602.2 527.4 603.7 526.3 603.8 527.1ZM651.0 539.0 651.0 538.3 652.4 539.0 650.3 532.0 648.2 539.0 649.6 538.3 649.6 539.0ZM628.6 537.3 628.9 537.7 627.8 537.9 632.0 541.0 630.2 536.1 629.7 537.1 629.4 536.7ZM737.4 550.3 723.7 542.7 725.5 541.5 715.8 539.4 722.7 546.5 722.8 544.4 736.4 551.9ZM717.2 531.9 717.1 532.6 715.8 531.7 717.0 539.5 720.2 532.3 718.6 532.9 718.8 532.1ZM711.7 547.0 711.7 546.3 713.1 547.0 711.0 540.0 708.9 547.0 710.3 546.3 710.3 547.0ZM446.0 567.6 430.9 576.3 430.8 574.2 424.0 581.4 433.7 579.1 431.9 577.9 447.0 569.2ZM469.3 568.2 468.7 570.5 467.1 569.2 467.8 579.1 472.7 570.5 470.6 571.0 471.1 568.6ZM458.5 590.0 450.4 588.8 451.6 587.1 441.8 588.6 450.8 592.7 450.1 590.7 458.3 591.8ZM480.7 586.6 479.8 586.8 480.2 584.9 472.6 589.7 481.6 589.9 480.3 588.5 481.1 588.2ZM498.0 570.0 497.9 570.5 497.0 569.9 498.0 575.0 500.0 570.1 498.9 570.5 499.0 570.0ZM518.5 568.0 518.1 568.3 517.9 567.3 515.0 571.5 519.7 569.5 518.7 569.1 519.1 568.8ZM512.3 594.9 508.8 597.3 508.5 595.1 502.2 602.8 511.7 599.9 509.8 598.8 513.3 596.5ZM536.3 585.3 530.4 586.7 530.8 584.7 522.3 589.7 532.2 590.2 530.8 588.6 536.7 587.1ZM540.2 565.1 540.3 565.9 538.6 565.3 542.0 573.0 543.4 564.7 541.9 565.7 541.8 564.9ZM558.1 556.8 560.0 566.1 557.9 565.6 562.6 574.3 563.5 564.4 561.8 565.7 559.9 556.4ZM552.8 577.8 552.6 578.0 552.4 577.4 551.0 580.0 553.6 578.6 553.0 578.4 553.2 578.2ZM540.4 611.0 539.2 619.0 537.4 617.8 538.9 627.6 543.1 618.6 541.1 619.3 542.2 611.2ZM514.3 624.9 509.7 634.9 508.4 633.2 506.9 643.0 513.5 635.6 511.4 635.7 516.1 625.7ZM479.9 616.8 479.7 616.9 479.7 616.4 478.0 618.0 480.3 617.6 479.9 617.3 480.1 617.2ZM582.9 599.2 582.9 600.2 581.0 599.2 583.9 608.7 586.8 599.2 584.9 600.2 584.9 599.2ZM571.3 621.0 577.1 629.4 575.0 629.7 582.7 635.9 579.7 626.5 578.6 628.3 572.9 620.0ZM552.2 643.4 562.6 664.3 560.5 664.3 567.3 671.5 565.6 661.7 564.3 663.4 554.0 642.6ZM735.3 576.8 716.8 559.3 718.8 558.6 710.0 554.1 714.9 562.7 715.5 560.7 733.9 578.2ZM736.2 550.9 727.0 545.0 728.8 543.9 719.3 541.2 725.8 548.7 726.0 546.6 735.2 552.5ZM709.7 558.9 711.3 552.0 712.9 553.4 712.3 543.5 707.4 552.1 709.5 551.6 707.9 558.5ZM720.2 608.7 699.3 564.9 701.5 565.0 694.8 557.6 696.3 567.4 697.6 565.7 718.4 609.5ZM687.5 603.3 689.0 588.4 690.8 589.5 688.9 579.8 685.1 589.0 687.1 588.2 685.7 603.1ZM668.7 589.4 669.6 584.9 671.3 586.2 670.2 576.3 665.7 585.1 667.7 584.5 666.9 589.0ZM681.5 568.0 681.4 567.2 683.2 567.7 679.5 559.9 678.2 568.5 679.8 567.4 679.9 568.2ZM698.0 636.4 704.2 620.9 705.6 622.5 706.5 612.6 700.3 620.4 702.4 620.2 696.2 635.6ZM659.0 615.8 663.4 613.1 663.6 615.3 670.2 607.9 660.6 610.4 662.4 611.5 658.0 614.2ZM628.4 611.9 630.7 615.4 628.6 615.6 636.2 622.0 633.3 612.5 632.3 614.3 630.0 610.9ZM601.5 615.5 610.0 625.4 607.9 626.0 616.3 631.3 612.3 622.2 611.4 624.2 602.9 614.3ZM632.1 643.7 654.8 662.8 652.9 663.7 662.0 667.6 656.6 659.3 656.1 661.4 633.3 642.3ZM666.0 650.8 681.9 665.0 679.9 665.8 688.9 670.0 683.7 661.5 683.2 663.6 667.2 649.4ZM599.2 653.0 621.5 677.3 619.5 677.8 628.0 682.9 623.7 674.0 622.9 676.0 600.6 651.8ZM646.5 592.7 646.5 591.8 648.4 592.7 645.6 583.3 642.8 592.7 644.7 591.8 644.7 592.7ZM626.5 585.2 624.1 581.7 626.3 581.4 618.6 575.1 621.5 584.6 622.6 582.7 624.9 586.2ZM582.6 599.7 582.6 600.6 580.7 599.7 583.5 609.0 586.3 599.7 584.4 600.6 584.4 599.7ZM654.7 572.6 653.1 565.7 655.2 566.2 650.3 557.6 649.7 567.5 651.3 566.1 652.9 573.0ZM634.6 553.4 635.0 553.8 633.8 554.2 639.0 557.0 636.2 551.8 635.8 553.0 635.4 552.6ZM604.4 561.1 604.4 557.9 606.2 558.9 603.4 549.4 600.5 558.9 602.4 557.9 602.4 561.1ZM628.3 562.5 628.8 563.2 626.9 563.5 634.0 569.0 631.1 560.5 630.2 562.2 629.7 561.5ZM594.1 560.7 593.8 560.6 594.3 560.1 591.0 560.0 593.7 561.9 593.6 561.2 593.9 561.3ZM661.7 555.2 661.9 555.5 661.1 555.6 664.0 558.0 662.9 554.4 662.5 555.1 662.3 554.8ZM591.1 581.3 591.4 581.2 591.3 581.9 594.0 580.0 590.7 580.1 591.2 580.6 590.9 580.7Z"/></g>
<g clip-path="url(#clipA)"><path fill="#ffa500" d="M219.2 175.7 342.3 69.6 343.9 71.5 351.6 59.8 338.9 65.7 340.5 67.6 217.4 173.7Z"/></g>
<g clip-path="url(#clipA)"><path fill="#1e90ff" d="M217.3 174.0 184.8 217.7 182.9 216.3 178.2 228.7 188.7 220.6 186.8 219.2 219.3 175.4Z"/></g>
<g clip-path="url(#clipB)"><path fill="#ffa500" d="M217.9 541.3 341.4 547.2 341.3 549.4 354.0 546.2 341.7 541.8 341.6 544.0 218.1 538.1Z"/><path fill="none" stroke="#c87800" stroke-width="0.6" stroke-opacity="0.8" d="M302.3 544.0L342.0 545.9"/></g>
<g clip-path="url(#clipB)"><path fill="#ffa500" d="M217.9 541.3 340.9 549.7 340.8 551.9 353.5 549.0 341.3 544.4 341.1 546.5 218.1 538.1Z"/><path fill="none" stroke="#c87800" stroke-width="0.6" stroke-opacity="0.8" d="M302.0 545.2L341.5 547.9"/></g>
<g clip-path="url(#clipB)"><path fill="#1e90ff" d="M216.0 539.1 183.9 648.4 181.9 647.8 182.4 661.0 190.0 650.2 187.9 649.6 220.0 540.3Z"/><path fill="none" stroke="#1e90ff" stroke-width="0.9" d="M195.4 601.6 181.8 647.8 190.0 650.2 203.6 604.0Z"/></g>
<g clip-path="url(#clipC)"><path fill="#ffa500" d="M585.7 540.6 691.6 547.2 691.5 549.4 704.2 546.4 692.0 541.8 691.8 544.0 585.9 537.4Z"/><path fill="none" stroke="#c87800" stroke-width="0.6" stroke-opacity="0.8" d="M656.8 543.7L692.2 546.0"/></g>
<g clip-path="url(#clipC)"><path fill="#ffa500" d="M585.7 540.6 691.2 549.7 691.0 551.9 703.8 549.2 691.7 544.3 691.5 546.5 585.9 537.4Z"/><path fill="none" stroke="#c87800" stroke-width="0.6" stroke-opacity="0.8" d="M656.6 544.8L691.9 547.9"/></g>
<g clip-path="url(#clipC)"><path fill="#1e90ff" d="M583.6 538.7 539.3 649.0 537.4 648.2 536.6 661.4 545.2 651.4 543.2 650.6 587.4 540.3Z"/><path fill="none" stroke="#1e90ff" stroke-width="0.9" d="M554.9 605.1 537.5 648.3 545.0 651.3 562.3 608.0Z"/></g>
<path fill="none" stroke="#bebebe" stroke-width="1.45" d="M46.3 2.4V349.2M109.4 2.4V349.2M172.5 2.4V349.2M235.6 2.4V349.2M298.7 2.4V349.2M361.8 2.4V349.2M45.2 340.9H391.7M45.2 277.8H391.7M45.2 214.7H391.7M45.2 151.6H391.7M45.2 88.5H391.7M45.2 25.4H391.7"/>
<path fill="none" stroke="#bebebe" stroke-width="1.45" d="M46.3 366.3V712.6M109.4 366.3V712.6M172.5 366.3V712.6M235.6 366.3V712.6M298.7 366.3V712.6M361.8 366.3V712.6M45.2 692.6H391.7M45.2 629.5H391.7M45.2 566.4H391.7M45.2 503.3H391.7M45.2 440.2H391.7M45.2 377.1H391.7"/>
<path fill="none" stroke="#bebebe" stroke-width="1.45" d="M420.0 366.3V712.6M483.1 366.3V712.6M546.2 366.3V712.6M609.3 366.3V712.6M672.4 366.3V712.6M735.5 366.3V712.6M411.6 692.6H758.3M411.6 629.5H758.3M411.6 566.4H758.3M411.6 503.3H758.3M411.6 440.2H758.3M411.6 377.1H758.3"/>
<g clip-path="url(#clipA)">
<path fill="none" stroke="#000" stroke-opacity="0.72" stroke-width="0.8" d="M296.2 350.4 145.5 350.4 139.7 329.4 133.7 303.4 128.8 277.4 125.5 255.4 123.3 234.4 122.1 211.4 121.9 189.4 122.7 165.4 124.9 133.4 128.5 93.4 130.9 75.4 134.0 60.4 138.6 45.4 143.9 33.4 150.6 21.4 164.0 0.4 279.8 0.4 287.4 10.4 294.3 21.4 300.5 33.4 305.9 46.4 311.0 61.4 315.6 78.4 318.9 94.4 321.8 112.4 323.9 131.4 325.3 152.4 325.9 172.4 325.6 193.4 324.4 217.4 321.9 246.4 318.9 271.4 315.8 290.4 312.5 305.4 307.9 321.4 302.4 336.4 296.2 350.4Z"/>
<path fill="none" stroke="#000" stroke-opacity="0.72" stroke-width="0.8" d="M239.2 350.4 201.5 350.4 198.1 347.4 194.2 343.1 187.4 333.4 181.2 321.4 175.4 307.4 168.9 288.4 160.7 261.4 155.7 243.4 152.3 228.4 149.6 213.4 147.6 197.4 146.5 182.4 146.0 165.4 146.2 147.4 147.0 129.4 148.3 114.4 150.0 101.4 152.6 88.4 155.7 77.4 159.9 66.4 164.9 56.4 171.8 45.4 179.2 35.6 187.2 27.1 194.2 21.4 201.2 17.8 207.2 16.5 213.2 17.0 218.2 18.8 223.2 21.9 229.2 27.4 236.7 36.4 259.2 66.4 264.9 74.4 269.3 81.4 273.6 89.4 277.3 97.4 280.7 106.4 283.9 116.4 286.4 126.4 288.6 137.4 291.9 161.4 293.0 176.4 293.7 193.4 293.8 210.4 293.4 226.4 292.5 240.4 290.9 254.4 288.8 266.4 286.5 276.4 283.0 287.4 278.9 297.4 273.9 307.4 267.9 317.4 260.2 328.7 252.2 338.8 245.2 345.9 240.2 350.0 239.2 350.4Z"/>
<path fill="none" stroke="#000" stroke-opacity="0.72" stroke-width="0.8" d="M226.2 314.4 221.2 314.4 217.2 313.5 212.2 311.1 208.2 308.0 204.2 303.9 200.2 298.5 196.5 292.4 193.2 285.8 189.1 276.4 183.7 262.4 172.6 232.4 167.6 217.4 164.5 206.4 161.9 194.4 160.1 183.4 158.8 171.4 157.9 159.4 157.6 147.4 157.9 135.4 158.6 124.4 159.7 114.4 161.4 104.4 163.4 96.4 165.9 88.4 169.2 80.4 172.9 73.4 177.2 66.8 182.2 60.7 187.2 56.0 192.2 52.4 197.2 50.0 202.2 49.0 207.2 49.4 212.2 51.5 216.3 54.4 221.2 59.4 228.5 69.4 252.6 106.4 258.6 116.4 262.2 123.7 265.5 131.4 268.3 139.4 270.9 148.4 274.9 167.4 277.8 189.4 278.9 213.4 278.8 224.4 278.0 235.4 276.8 245.4 275.0 254.4 272.9 262.4 270.0 270.4 266.2 278.6 261.5 286.4 256.2 293.5 250.2 300.2 244.2 305.6 238.2 309.9 232.2 312.9 226.2 314.4Z"/>
<path fill="none" stroke="#000" stroke-opacity="0.72" stroke-width="0.8" d="M230.2 293.5 226.2 293.8 222.2 293.3 218.2 291.8 214.3 289.4 210.9 286.4 207.4 282.4 201.0 272.4 193.0 255.4 179.6 223.4 174.5 210.4 171.2 200.5 168.7 191.4 166.7 182.4 165.1 172.4 163.3 152.4 163.4 132.4 164.1 123.4 165.3 114.4 166.9 106.4 168.8 99.4 171.3 92.4 174.2 86.2 177.5 80.4 181.2 75.4 185.2 71.2 189.2 67.9 194.2 65.2 198.2 64.1 203.2 64.1 208.2 65.8 212.2 68.5 217.1 73.4 224.2 83.2 249.5 123.4 256.9 137.4 262.4 151.4 266.8 167.4 269.9 184.4 271.9 205.4 272.1 215.4 271.9 225.4 271.1 234.4 269.8 242.4 268.0 250.4 265.8 257.4 262.8 264.4 259.6 270.4 255.4 276.4 251.2 281.1 246.2 285.7 240.2 289.8 235.2 292.2 230.2 293.5Z"/>
<path fill="none" stroke="#000" stroke-opacity="0.72" stroke-width="0.8" d="M235.2 277.6 231.2 278.3 227.2 278.1 223.2 277.1 220.2 275.7 216.2 272.9 213.2 270.0 206.8 261.4 202.8 254.4 198.2 245.3 180.3 206.4 174.5 190.4 170.5 174.4 168.2 157.4 167.5 140.4 168.5 123.4 171.2 109.1 173.2 102.4 175.6 96.4 178.2 91.2 181.2 86.6 184.2 82.9 188.2 79.3 192.2 76.9 196.2 75.5 200.2 75.3 203.2 75.9 206.2 77.2 209.2 79.1 215.2 85.1 222.2 95.0 243.8 129.4 251.5 143.4 255.5 152.4 258.7 161.4 261.3 170.4 263.5 180.4 266.1 198.4 266.8 215.4 265.7 231.4 264.5 238.4 262.8 245.4 260.7 251.4 258.2 257.0 255.2 262.1 252.2 266.1 248.2 270.2 244.2 273.4 240.2 275.8 235.2 277.6Z"/>
<path fill="none" stroke="#000" stroke-opacity="0.72" stroke-width="0.8" d="M236.2 261.5 232.2 261.9 229.2 261.6 226.2 260.7 223.2 259.2 220.2 257.2 217.1 254.4 213.6 250.4 210.2 245.7 201.2 230.1 186.2 200.4 180.5 186.4 176.4 172.4 173.8 158.4 172.8 144.4 173.2 130.4 175.2 117.4 178.6 106.4 180.9 101.4 183.2 97.7 186.2 94.0 189.2 91.3 192.2 89.5 195.2 88.5 198.2 88.3 201.2 88.7 206.2 91.2 209.2 93.7 212.2 96.8 218.6 105.4 237.7 135.4 245.2 148.6 251.8 163.4 254.4 171.4 256.6 179.4 259.3 194.4 260.4 208.4 260.0 222.4 257.9 234.4 256.2 240.2 254.2 245.0 251.8 249.4 249.2 253.0 246.2 256.1 243.2 258.5 240.2 260.2 236.2 261.5Z"/>
<path fill="none" stroke="#000" stroke-opacity="0.72" stroke-width="0.8" d="M237.2 247.6 234.2 248.1 231.2 248.0 228.2 247.2 225.2 245.8 222.2 243.8 219.2 241.1 213.2 233.9 205.2 221.2 192.9 198.4 186.4 184.4 182.2 172.4 179.6 161.4 178.1 149.4 177.8 137.4 179.0 126.4 181.2 117.2 184.6 109.4 186.6 106.4 189.2 103.5 191.2 101.9 194.2 100.5 196.2 100.0 199.2 100.1 201.2 100.7 204.2 102.2 209.2 106.3 215.2 113.7 229.5 135.4 239.1 151.4 245.4 164.4 250.0 177.4 252.8 189.4 254.3 201.4 254.5 213.4 253.3 223.4 250.9 232.4 247.2 239.7 245.1 242.4 242.2 245.0 237.2 247.6Z"/>
<path fill="none" stroke="#000" stroke-opacity="0.72" stroke-width="0.8" d="M236.2 234.8 234.2 235.3 231.2 235.3 226.2 233.5 221.2 229.8 215.2 223.0 208.1 212.4 198.2 194.8 192.1 182.4 187.8 171.4 185.2 162.0 183.5 152.4 183.0 143.4 183.4 134.4 184.9 126.4 187.6 119.4 191.2 114.4 193.2 112.9 195.2 112.0 199.2 111.7 201.2 112.2 204.2 113.8 209.2 118.2 214.2 124.3 224.2 138.9 233.7 154.4 239.4 165.4 243.7 176.4 246.2 185.4 248.0 195.4 248.7 204.4 248.2 213.6 246.6 221.4 244.1 227.4 242.2 230.3 240.2 232.4 236.2 234.8Z"/>
<path fill="none" stroke="#000" stroke-opacity="0.72" stroke-width="0.8" d="M233.2 221.6 231.2 221.9 229.2 221.8 225.2 220.1 221.2 216.9 216.2 211.3 210.2 202.5 204.2 192.2 198.2 180.6 194.2 171.2 191.7 163.4 190.0 156.4 189.1 148.4 189.1 141.4 190.0 135.4 191.7 130.4 194.2 126.7 197.2 124.7 200.2 124.5 204.2 126.1 208.2 129.3 213.2 135.1 221.2 146.3 228.2 157.4 233.2 166.7 237.2 176.0 239.6 183.4 241.3 191.4 242.0 198.4 241.9 205.4 240.9 211.4 239.2 216.0 236.2 220.0 233.2 221.6Z"/>
<path fill="none" stroke="#000" stroke-opacity="0.72" stroke-width="0.8" d="M228.2 202.7 226.2 202.9 223.2 201.7 218.2 197.1 212.2 188.6 203.9 173.4 200.8 164.4 199.1 154.4 199.6 148.4 200.4 146.4 202.2 144.6 204.2 144.3 207.2 145.5 210.2 148.0 213.2 151.2 221.7 162.4 227.2 173.2 230.9 183.4 231.9 188.4 232.2 192.4 232.0 196.4 231.2 199.4 230.0 201.4 228.2 202.7Z"/>
<path fill="none" stroke="#000" stroke-opacity="0.72" stroke-width="0.8" d="M216.2 175.4 214.2 175.4 212.2 174.5 210.2 172.8 209.2 171.3 208.2 168.4 208.1 166.4 208.8 164.4 210.2 163.0 212.2 162.7 214.2 163.3 216.2 164.9 217.8 167.4 218.6 170.4 218.5 172.4 217.6 174.4 216.2 175.4Z"/>
</g>
<g clip-path="url(#clipB)">
<path fill="none" stroke="#000" stroke-opacity="0.72" stroke-width="0.8" d="M231.2 660.4 220.2 661.2 209.2 660.9 198.2 659.4 187.2 656.7 176.2 652.7 166.2 647.9 156.2 641.8 147.2 634.9 139.1 627.3 131.2 618.3 124.7 609.3 118.8 599.3 113.7 588.3 109.8 577.3 106.8 565.3 105.0 553.3 104.4 541.3 104.8 529.3 106.4 517.3 108.9 506.3 112.5 495.3 117.3 484.3 122.8 474.3 129.6 464.3 137.2 455.3 145.4 447.3 154.2 440.2 164.2 433.8 174.2 428.7 185.2 424.5 196.2 421.6 207.2 419.9 218.2 419.4 229.2 420.0 240.2 421.7 251.2 424.7 262.2 428.9 272.2 434.0 281.2 439.8 290.2 446.9 298.2 454.6 305.6 463.3 312.0 472.3 317.7 482.3 322.7 493.3 326.5 504.3 329.4 516.3 331.0 527.3 331.6 540.3 331.1 552.3 329.6 563.3 326.8 575.3 323.5 585.3 318.7 596.3 312.6 607.3 306.4 616.3 299.2 624.9 291.2 632.8 282.2 640.1 273.2 646.0 262.2 651.7 252.2 655.6 241.2 658.7 231.2 660.4Z"/>
<path fill="none" stroke="#000" stroke-opacity="0.72" stroke-width="0.8" d="M226.2 619.3 219.2 619.8 211.2 619.5 204.2 618.4 197.2 616.7 190.2 614.1 183.2 610.7 177.2 606.9 171.2 602.3 165.9 597.3 160.7 591.3 156.4 585.3 152.4 578.3 149.2 571.3 146.8 564.3 144.8 556.3 143.7 548.3 143.3 540.3 143.7 532.3 144.8 524.3 146.5 517.3 148.8 510.3 151.9 503.3 155.8 496.3 160.2 489.9 165.2 484.0 171.2 478.3 177.2 473.7 183.2 469.9 190.2 466.5 197.2 463.9 204.2 462.2 211.2 461.1 219.2 460.8 226.2 461.3 233.2 462.5 240.2 464.4 247.2 467.1 253.2 470.2 259.2 474.0 265.2 478.7 270.2 483.4 275.3 489.3 279.6 495.3 283.6 502.3 286.8 509.3 289.5 517.3 291.4 525.3 292.3 532.3 292.7 540.3 292.3 548.3 291.4 555.3 289.5 563.3 287.2 570.3 284.1 577.3 280.2 584.3 276.1 590.3 271.2 596.1 266.2 601.1 260.2 605.9 254.2 609.9 248.2 613.0 241.2 615.9 234.2 617.9 226.2 619.3Z"/>
<path fill="none" stroke="#000" stroke-opacity="0.72" stroke-width="0.8" d="M228.2 600.3 223.2 601.1 217.2 601.3 211.2 600.9 206.2 600.0 200.2 598.3 195.2 596.3 190.2 593.6 185.2 590.3 180.4 586.3 176.4 582.3 173.2 578.3 169.8 573.3 167.1 568.3 164.5 562.3 162.7 556.3 161.4 550.3 160.8 544.3 160.7 538.3 161.2 532.3 162.2 526.3 163.8 520.3 165.7 515.3 168.6 509.3 171.7 504.3 175.2 499.7 179.2 495.4 183.2 491.8 188.2 488.2 193.2 485.3 199.2 482.7 204.2 481.1 210.2 479.9 215.2 479.4 221.2 479.4 227.2 480.1 232.2 481.2 237.2 482.8 242.2 485.0 247.2 487.8 252.1 491.3 256.2 494.8 260.2 499.0 263.6 503.3 266.8 508.3 269.4 513.3 271.8 519.3 274.6 530.3 275.2 536.3 275.3 542.3 274.8 548.3 273.8 554.3 272.2 560.3 270.3 565.3 267.9 570.3 265.0 575.3 261.3 580.3 257.7 584.3 253.4 588.3 249.2 591.5 244.2 594.6 239.2 597.0 234.2 598.8 228.2 600.3Z"/>
<path fill="none" stroke="#000" stroke-opacity="0.72" stroke-width="0.8" d="M224.2 590.3 219.2 590.8 214.2 590.6 205.2 588.9 197.2 585.7 193.2 583.3 189.1 580.3 182.2 573.4 176.8 565.3 173.0 556.3 170.9 546.3 170.7 536.3 172.4 526.3 175.8 517.3 178.2 512.8 181.2 508.5 187.9 501.3 195.2 496.0 199.2 494.0 204.2 492.0 213.2 490.1 222.2 490.0 231.2 491.8 239.5 495.3 247.2 500.5 253.9 507.3 259.2 515.3 263.0 524.3 265.1 534.3 265.3 544.3 263.6 554.3 260.2 563.3 255.4 571.3 249.2 578.3 245.2 581.6 241.2 584.3 233.2 588.1 224.2 590.3Z"/>
<path fill="none" stroke="#000" stroke-opacity="0.72" stroke-width="0.8" d="M225.2 583.4 217.2 584.1 209.2 583.1 201.2 580.3 194.2 576.0 188.0 570.3 183.0 563.3 179.4 555.3 177.4 547.3 176.9 538.3 178.0 530.3 180.5 522.3 184.9 514.3 190.2 508.0 197.2 502.5 204.2 499.1 212.2 497.0 220.2 496.6 228.2 497.9 235.2 500.5 242.2 504.9 248.2 510.6 253.0 517.3 256.6 525.3 258.6 533.3 259.1 542.3 258.0 550.3 255.5 558.3 251.8 565.3 246.2 572.2 240.2 577.2 233.2 581.0 225.2 583.4Z"/>
<path fill="none" stroke="#000" stroke-opacity="0.72" stroke-width="0.8" d="M220.2 577.3 213.2 577.0 207.2 575.6 201.2 572.8 195.1 568.3 190.2 562.7 186.5 556.3 184.2 549.3 183.2 542.3 183.5 535.3 185.2 527.7 188.1 521.3 192.2 515.3 197.2 510.5 203.2 506.7 209.2 504.4 216.2 503.3 223.2 503.6 229.2 505.2 235.6 508.3 241.2 512.6 246.1 518.3 249.5 524.3 251.8 531.3 252.8 538.3 252.5 545.3 251.0 552.3 248.2 558.8 244.2 564.8 239.2 569.7 233.2 573.7 227.2 576.1 220.2 577.3Z"/>
<path fill="none" stroke="#000" stroke-opacity="0.72" stroke-width="0.8" d="M224.2 570.5 219.2 571.2 213.2 570.8 207.2 569.0 202.2 566.3 197.6 562.3 193.7 557.3 191.2 552.3 189.5 546.3 188.9 540.3 189.5 534.3 191.2 528.3 194.2 522.6 197.6 518.3 202.3 514.3 207.2 511.6 213.2 509.8 219.2 509.4 224.2 510.1 229.2 511.8 234.2 514.6 238.4 518.3 242.3 523.3 244.8 528.3 246.5 534.3 247.1 540.3 246.5 546.3 244.8 552.3 242.3 557.3 238.4 562.3 234.2 566.0 229.2 568.8 224.2 570.5Z"/>
<path fill="none" stroke="#000" stroke-opacity="0.72" stroke-width="0.8" d="M220.2 564.4 215.2 564.3 211.2 563.4 207.2 561.6 203.2 558.7 200.2 555.3 197.8 551.3 196.2 547.2 195.3 542.3 195.4 537.3 196.5 532.3 198.3 528.3 201.0 524.3 204.2 521.1 208.2 518.5 212.2 516.9 216.2 516.2 221.2 516.3 225.2 517.4 229.3 519.3 233.2 522.3 235.8 525.3 238.2 529.3 239.8 533.3 240.7 538.3 240.6 543.3 239.5 548.3 237.7 552.3 235.2 556.1 232.1 559.3 228.2 561.9 224.2 563.6 220.2 564.4Z"/>
<path fill="none" stroke="#000" stroke-opacity="0.72" stroke-width="0.8" d="M223.2 556.3 220.2 557.1 217.2 557.3 214.2 556.8 210.5 555.3 208.2 553.7 205.9 551.3 203.9 548.3 202.8 545.3 202.2 542.3 202.2 538.3 202.8 535.3 204.2 531.8 205.9 529.3 208.2 526.9 211.2 525.0 214.2 523.8 217.2 523.3 220.2 523.5 223.2 524.3 226.2 525.7 230.2 529.4 232.1 532.3 233.2 535.3 233.8 538.3 233.9 541.3 233.2 545.3 232.2 548.0 230.2 551.2 228.3 553.3 226.2 554.9 223.2 556.3Z"/>
<path fill="none" stroke="#000" stroke-opacity="0.72" stroke-width="0.8" d="M219.2 543.7 217.2 543.8 216.2 543.5 215.2 542.7 214.3 541.3 214.1 539.3 214.4 538.3 215.2 537.0 217.2 535.9 219.2 536.0 220.2 536.5 221.2 537.5 221.9 539.3 221.7 541.3 221.2 542.2 219.2 543.7Z"/>
</g>
<g clip-path="url(#clipC)">
<path fill="none" stroke="#000" stroke-opacity="0.72" stroke-width="0.8" d="M644.6 655.4 636.6 656.0 627.6 655.7 619.6 654.6 610.6 652.4 602.6 649.7 593.6 645.9 557.8 627.3 548.6 623.1 539.6 619.7 529.6 616.9 519.6 614.9 509.6 613.7 484.6 611.6 469.6 608.9 461.6 606.5 453.6 603.3 446.6 599.6 439.6 594.8 433.6 589.8 428.6 584.6 423.6 578.3 419.8 572.3 416.7 566.3 413.9 559.3 411.8 552.3 410.4 544.3 409.8 537.3 409.9 529.3 410.8 521.3 412.4 514.3 414.7 507.3 417.7 500.3 421.7 493.3 425.9 487.3 430.1 482.3 434.6 477.6 444.8 469.3 456.6 462.0 470.6 455.6 487.6 450.0 504.6 446.0 521.6 443.6 538.6 442.7 551.6 443.1 564.6 444.6 577.6 447.0 592.6 450.8 627.6 461.3 658.6 469.6 669.6 473.0 677.6 476.0 684.6 479.3 690.6 482.7 696.6 486.8 701.6 490.9 706.0 495.3 710.3 500.3 713.6 504.9 716.8 510.3 719.8 516.3 724.0 528.3 725.6 535.3 726.6 542.3 727.1 556.3 725.7 570.3 722.4 584.3 720.0 591.3 717.1 598.3 710.6 610.3 706.7 616.3 702.0 622.3 692.6 632.3 687.6 636.6 681.6 641.1 675.6 644.8 669.6 648.0 657.6 652.7 651.6 654.2 644.6 655.4Z"/>
<path fill="none" stroke="#000" stroke-opacity="0.72" stroke-width="0.8" d="M641.6 632.4 634.6 632.8 626.6 632.4 619.6 631.4 611.6 629.5 596.6 624.0 559.6 606.9 548.6 602.4 539.6 599.3 529.6 596.5 519.6 594.4 490.6 590.7 479.6 588.7 473.6 587.1 467.6 585.0 462.6 582.7 457.6 579.8 449.2 573.3 445.4 569.3 442.2 565.3 439.1 560.3 436.6 555.3 434.8 550.3 433.5 545.3 432.4 535.3 432.6 529.3 433.4 524.3 436.3 514.3 438.6 509.3 441.5 504.3 444.6 500.0 448.6 495.3 456.6 488.1 466.9 481.3 479.6 475.1 494.6 469.8 510.6 465.7 526.6 463.1 542.6 462.0 554.6 462.3 565.6 463.5 577.6 465.8 590.6 469.1 605.6 473.9 651.6 489.9 664.6 495.3 674.6 500.8 683.4 507.3 690.6 514.7 696.6 523.3 700.8 532.3 703.6 542.3 705.0 553.3 704.6 564.3 702.7 575.3 699.1 586.3 694.2 596.3 687.6 605.9 679.9 614.3 671.1 621.3 661.6 626.7 651.6 630.4 641.6 632.4Z"/>
<path fill="none" stroke="#000" stroke-opacity="0.72" stroke-width="0.8" d="M640.6 615.3 633.6 616.0 626.6 615.8 618.6 614.7 610.6 612.8 595.6 607.6 557.6 591.4 538.6 584.3 520.6 579.3 487.6 572.9 479.6 570.4 472.6 567.3 466.4 563.3 460.6 557.9 456.5 552.3 453.4 545.3 451.8 538.3 451.7 530.3 453.2 523.3 456.0 516.3 460.6 509.3 467.6 502.0 476.6 495.5 486.6 490.2 500.6 484.6 515.3 480.3 529.6 477.4 543.6 476.1 553.6 476.0 564.6 477.0 575.6 478.9 587.6 481.9 602.6 486.8 623.6 494.9 642.6 502.6 654.6 508.4 663.6 513.8 670.5 519.3 676.3 525.3 681.2 532.3 684.9 540.3 687.1 548.3 688.1 557.3 687.6 566.3 685.6 575.3 682.0 584.3 677.3 592.3 671.6 599.2 664.6 605.3 657.6 609.7 649.6 613.1 640.6 615.3Z"/>
<path fill="none" stroke="#000" stroke-opacity="0.72" stroke-width="0.8" d="M638.6 603.3 631.6 604.1 623.6 603.9 614.6 602.5 605.6 600.2 589.6 594.5 552.6 579.2 536.6 573.1 521.6 568.2 496.0 561.3 485.6 557.3 480.4 554.3 475.6 550.3 472.3 546.3 469.7 541.3 468.5 536.3 468.3 531.3 469.2 526.3 471.2 521.3 475.2 515.3 481.1 509.3 488.6 503.9 498.6 498.5 510.6 493.6 522.6 489.8 534.6 487.2 545.6 486.0 554.6 485.8 564.6 486.5 573.6 487.9 583.6 490.2 594.6 493.7 606.6 498.2 622.6 504.9 636.5 511.3 646.0 516.3 653.8 521.3 660.1 526.3 665.6 532.1 669.9 538.3 672.7 544.3 674.8 551.3 675.5 558.3 675.0 566.3 673.3 573.3 670.3 580.3 665.6 587.4 659.9 593.3 653.6 597.8 646.6 601.1 638.6 603.3Z"/>
<path fill="none" stroke="#000" stroke-opacity="0.72" stroke-width="0.8" d="M629.6 593.3 621.6 593.3 613.6 592.2 604.6 590.1 593.6 586.7 571.6 578.1 504.6 549.8 499.9 547.3 495.6 544.3 492.5 541.3 490.4 538.3 489.2 535.3 488.6 531.3 488.9 528.3 490.3 524.3 493.5 519.3 498.5 514.3 505.3 509.3 512.4 505.3 521.3 501.3 530.6 498.1 539.6 496.0 548.6 494.8 556.6 494.5 564.6 495.0 572.6 496.1 581.6 498.1 590.6 500.9 599.9 504.3 622.1 514.3 631.7 519.3 640.1 524.3 647.0 529.3 652.5 534.3 656.6 539.3 659.7 544.3 662.1 550.3 663.3 556.3 663.2 563.3 661.6 570.3 658.8 576.3 654.6 581.9 649.6 586.4 643.6 589.8 636.6 592.2 629.6 593.3Z"/>
<path fill="none" stroke="#000" stroke-opacity="0.72" stroke-width="0.8" d="M628.6 581.3 621.6 582.0 614.6 581.7 606.6 580.4 596.6 577.9 585.6 574.3 572.6 569.3 558.9 563.3 546.6 557.3 537.4 552.3 529.2 547.3 523.7 543.3 519.4 539.3 516.4 535.3 514.9 531.3 514.9 527.3 516.3 523.3 519.1 519.3 522.1 516.3 526.1 513.3 531.6 510.1 537.6 507.6 543.6 505.7 549.6 504.5 556.6 503.8 568.6 504.3 581.6 506.9 595.6 511.6 611.6 519.0 626.2 527.3 631.9 531.3 636.9 535.3 641.0 539.3 644.2 543.3 646.6 547.3 648.6 552.3 649.4 557.3 649.1 562.3 647.7 567.3 645.6 571.0 642.6 574.5 638.6 577.5 633.6 579.9 628.6 581.3Z"/>
<path fill="none" stroke="#000" stroke-opacity="0.72" stroke-width="0.8" d="M619.6 568.4 614.6 569.1 608.6 569.1 601.6 568.2 593.6 566.5 585.6 564.2 576.6 560.9 568.3 557.3 560.5 553.3 553.9 549.3 548.4 545.3 544.0 541.3 541.5 538.3 539.2 534.3 538.4 531.3 538.7 527.3 539.9 524.3 542.3 521.3 544.6 519.3 550.6 516.1 558.6 514.0 567.6 513.4 576.6 514.3 586.6 516.6 597.6 520.6 607.6 525.5 616.7 531.3 623.8 537.3 628.9 543.3 631.1 547.3 632.2 550.3 632.8 553.3 632.7 556.3 631.9 559.3 630.6 561.6 628.6 564.0 626.6 565.5 623.6 567.1 619.6 568.4Z"/>
<path fill="none" stroke="#000" stroke-opacity="0.72" stroke-width="0.8" d="M603.6 553.4 597.6 553.4 589.6 552.0 582.6 549.5 575.6 545.7 570.2 541.3 567.2 537.3 566.1 533.3 566.3 531.3 567.3 529.3 569.6 527.2 573.6 525.7 577.6 525.1 582.6 525.3 587.6 526.1 593.6 527.9 598.6 530.0 603.6 532.9 608.0 536.3 610.7 539.3 612.5 542.3 613.2 545.3 612.7 548.3 610.6 550.9 607.6 552.5 603.6 553.4Z"/>
<path fill="none" stroke="#000" stroke-opacity="0.72" stroke-width="0.8" d="M598.6 549.3 593.6 549.0 588.6 547.8 583.6 545.8 579.6 543.5 576.0 540.3 573.9 537.3 573.3 534.3 574.0 532.3 575.6 530.7 577.6 529.7 580.6 529.1 584.6 529.1 588.6 529.7 592.6 530.8 596.6 532.5 600.6 534.9 603.5 537.3 605.2 539.3 606.7 542.3 606.9 544.3 606.1 546.3 604.6 547.7 601.6 548.9 598.6 549.3Z"/>
<path fill="none" stroke="#000" stroke-opacity="0.72" stroke-width="0.8" d="M592.6 542.3 589.6 541.9 587.6 540.8 586.2 539.3 585.9 538.3 586.0 537.3 587.1 536.3 589.6 535.8 592.5 536.3 594.2 537.3 595.1 538.3 595.6 540.3 594.6 541.7 592.6 542.3Z"/>
</g>
<rect x="45.20" y="2.40" width="346.50" height="346.80" fill="none" stroke="#000" stroke-width="1.1"/>
<rect x="45.20" y="366.30" width="346.50" height="346.30" fill="none" stroke="#000" stroke-width="1.1"/>
<rect x="411.60" y="366.30" width="346.70" height="346.30" fill="none" stroke="#000" stroke-width="1.1"/>
<path stroke="#000" stroke-width="1.25" d="M40.6 340.90H45.2M40.6 277.80H45.2M40.6 214.70H45.2M40.6 151.60H45.2M40.6 88.50H45.2M40.6 25.40H45.2M42.6 309.35H45.2M42.6 246.25H45.2M42.6 183.15H45.2M42.6 120.05H45.2M42.6 56.95H45.2"/>
<path stroke="#000" stroke-width="1.25" d="M46.30 349.2V353.8M109.40 349.2V353.8M172.50 349.2V353.8M235.60 349.2V353.8M298.70 349.2V353.8M361.80 349.2V353.8M77.85 349.2V351.8M140.95 349.2V351.8M204.05 349.2V351.8M267.15 349.2V351.8M330.25 349.2V351.8"/>
<path stroke="#000" stroke-width="1.25" d="M40.6 692.60H45.2M40.6 629.50H45.2M40.6 566.40H45.2M40.6 503.30H45.2M40.6 440.20H45.2M40.6 377.10H45.2M42.6 661.05H45.2M42.6 597.95H45.2M42.6 534.85H45.2M42.6 471.75H45.2M42.6 408.65H45.2"/>
<path stroke="#000" stroke-width="1.25" d="M46.30 712.6V717.2M109.40 712.6V717.2M172.50 712.6V717.2M235.60 712.6V717.2M298.70 712.6V717.2M361.80 712.6V717.2M77.85 712.6V715.2M140.95 712.6V715.2M204.05 712.6V715.2M267.15 712.6V715.2M330.25 712.6V715.2"/>
<path stroke="#000" stroke-width="1.25" d="M407.0 692.60H411.6M407.0 629.50H411.6M407.0 566.40H411.6M407.0 503.30H411.6M407.0 440.20H411.6M407.0 377.10H411.6M409.0 661.05H411.6M409.0 597.95H411.6M409.0 534.85H411.6M409.0 471.75H411.6M409.0 408.65H411.6"/>
<path stroke="#000" stroke-width="1.25" d="M420.00 712.6V717.2M483.10 712.6V717.2M546.20 712.6V717.2M609.30 712.6V717.2M672.40 712.6V717.2M735.50 712.6V717.2M451.55 712.6V715.2M514.65 712.6V715.2M577.75 712.6V715.2M640.85 712.6V715.2M703.95 712.6V715.2"/>
<text x="35.6" y="346.7" font-size="13.0" text-anchor="end">9</text>
<rect x="19.70" y="342.53" width="7.30" height="0.95" fill="#000"/>
<text x="35.6" y="283.6" font-size="13.0" text-anchor="end">8</text>
<rect x="19.70" y="279.43" width="7.30" height="0.95" fill="#000"/>
<text x="35.6" y="220.5" font-size="13.0" text-anchor="end">7</text>
<rect x="19.70" y="216.33" width="7.30" height="0.95" fill="#000"/>
<text x="35.6" y="157.4" font-size="13.0" text-anchor="end">6</text>
<rect x="19.70" y="153.23" width="7.30" height="0.95" fill="#000"/>
<text x="35.6" y="94.3" font-size="13.0" text-anchor="end">5</text>
<rect x="19.70" y="90.13" width="7.30" height="0.95" fill="#000"/>
<text x="35.6" y="31.2" font-size="13.0" text-anchor="end">4</text>
<rect x="19.70" y="27.03" width="7.30" height="0.95" fill="#000"/>
<text x="35.6" y="697.0" font-size="13.0" text-anchor="end">0</text>
<text x="35.6" y="633.9" font-size="13.0" text-anchor="end">1</text>
<text x="35.6" y="570.8" font-size="13.0" text-anchor="end">2</text>
<text x="35.6" y="507.7" font-size="13.0" text-anchor="end">3</text>
<text x="35.6" y="444.6" font-size="13.0" text-anchor="end">4</text>
<text x="35.6" y="381.5" font-size="13.0" text-anchor="end">5</text>
<text x="45.5" y="731.0" font-size="13.0" text-anchor="middle">14</text>
<text x="108.6" y="731.0" font-size="13.0" text-anchor="middle">15</text>
<text x="171.7" y="731.0" font-size="13.0" text-anchor="middle">16</text>
<text x="234.8" y="731.0" font-size="13.0" text-anchor="middle">17</text>
<text x="297.9" y="731.0" font-size="13.0" text-anchor="middle">18</text>
<text x="361.0" y="731.0" font-size="13.0" text-anchor="middle">19</text>
<text x="423.4" y="732.2" font-size="13.0" text-anchor="middle">9</text>
<rect x="411.80" y="727.93" width="7.30" height="0.95" fill="#000"/>
<text x="486.5" y="732.2" font-size="13.0" text-anchor="middle">8</text>
<rect x="474.90" y="727.93" width="7.30" height="0.95" fill="#000"/>
<text x="549.6" y="732.2" font-size="13.0" text-anchor="middle">7</text>
<rect x="538.00" y="727.93" width="7.30" height="0.95" fill="#000"/>
<text x="612.7" y="732.2" font-size="13.0" text-anchor="middle">6</text>
<rect x="601.10" y="727.93" width="7.30" height="0.95" fill="#000"/>
<text x="675.8" y="732.2" font-size="13.0" text-anchor="middle">5</text>
<rect x="664.20" y="727.93" width="7.30" height="0.95" fill="#000"/>
<text x="738.9" y="732.2" font-size="13.0" text-anchor="middle">4</text>
<rect x="727.30" y="727.93" width="7.30" height="0.95" fill="#000"/>
<text x="198.6" y="747.6" font-size="12.6" textLength="38.8" lengthAdjust="spacingAndGlyphs">X [kpc]</text>
<text x="565.6" y="747.6" font-size="12.6" textLength="37.0" lengthAdjust="spacingAndGlyphs">Z [kpc]</text>
<text transform="translate(10.4,195.2) rotate(-90)" font-size="12.6" textLength="37.9" lengthAdjust="spacingAndGlyphs">Z [kpc]</text>
<text transform="translate(20.6,559.3) rotate(-90)" font-size="12.6" textLength="38.1" lengthAdjust="spacingAndGlyphs">Y [kpc]</text>
</svg></body></html>
